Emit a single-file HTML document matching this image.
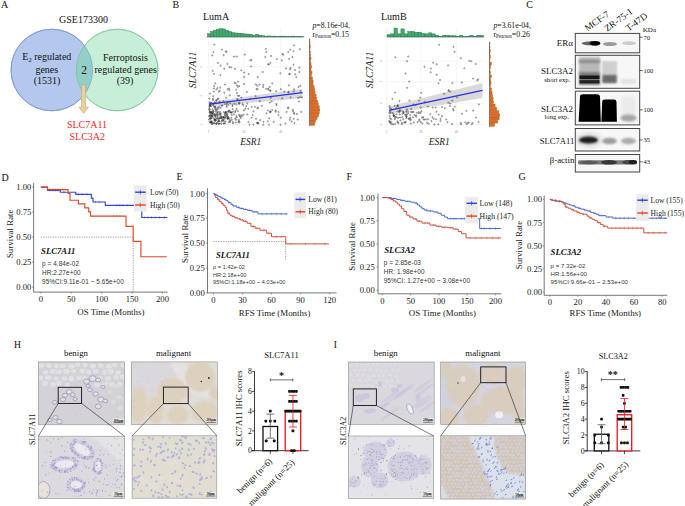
<!DOCTYPE html>
<html><head><meta charset="utf-8"><style>
html,body{margin:0;padding:0;background:#fff;width:685px;height:506px;overflow:hidden}
svg{display:block}
</style></head><body>
<svg width="685" height="506" viewBox="0 0 685 506" font-family="'Liberation Serif', serif">
<rect width="685" height="506" fill="#fff"/>
<text x="0.9" y="7.9" font-size="10" text-anchor="start" fill="#111" >A</text>
<text x="83.5" y="22.6" font-size="10" text-anchor="middle" fill="#111" >GSE173300</text>
<circle cx="51.8" cy="70" r="40.8" fill="#b4c8ee" stroke="#6f8fcb" stroke-width="0.7"/>
<circle cx="117.2" cy="70" r="40.8" fill="#c7efd7" stroke="#73c294" stroke-width="0.7"/>
<clipPath id="cb"><circle cx="51.8" cy="70" r="40.8"/></clipPath>
<circle cx="117.2" cy="70" r="40.8" fill="#93cfc8" clip-path="url(#cb)"/>
<circle cx="51.8" cy="70" r="40.8" fill="none" stroke="#6f8fcb" stroke-width="0.6"/>
<circle cx="117.2" cy="70" r="40.8" fill="none" stroke="#73c294" stroke-width="0.6"/>
<text x="46.8" y="60" font-size="10" text-anchor="middle" fill="#111" >E<tspan font-size="6.5" dy="2">2</tspan><tspan dy="-2"> regulated</tspan></text>
<text x="46.8" y="72.8" font-size="10" text-anchor="middle" fill="#111" >genes</text>
<text x="47" y="84.2" font-size="10" text-anchor="middle" fill="#111" >(1531)</text>
<text x="84" y="74.2" font-size="11.5" text-anchor="middle" fill="#111" >2</text>
<text x="125.5" y="61" font-size="10" text-anchor="middle" fill="#111" >Ferroptosis</text>
<text x="125.7" y="72.6" font-size="10" text-anchor="middle" fill="#111" >regulated genes</text>
<text x="125" y="84.4" font-size="10" text-anchor="middle" fill="#111" >(39)</text>
<path d="M81.5,85 L85.6,85 L85.6,107 L88.5,107 L83.6,113.6 L78.8,107 L81.5,107 Z" fill="#e6d29e" stroke="#c0a062" stroke-width="0.5"/>
<text x="87" y="127.8" font-size="10" text-anchor="middle" fill="#ee2a2a" >SLC7A11</text>
<text x="87.3" y="139.8" font-size="10" text-anchor="middle" fill="#ee2a2a" >SLC3A2</text>
<text x="172.6" y="8.1" font-size="10" text-anchor="start" fill="#111" >B</text>
<line x1="208.4" y1="38.5" x2="208.4" y2="126.6" stroke="#ececec" stroke-width="0.6"/>
<line x1="208.4" y1="28" x2="208.4" y2="37" stroke="#ececec" stroke-width="0.6"/>
<line x1="244" y1="38.5" x2="244" y2="126.6" stroke="#ececec" stroke-width="0.6"/>
<line x1="244" y1="28" x2="244" y2="37" stroke="#ececec" stroke-width="0.6"/>
<line x1="280.7" y1="38.5" x2="280.7" y2="126.6" stroke="#ececec" stroke-width="0.6"/>
<line x1="280.7" y1="28" x2="280.7" y2="37" stroke="#ececec" stroke-width="0.6"/>
<line x1="206.5" y1="66.9" x2="304.5" y2="66.9" stroke="#ececec" stroke-width="0.6"/>
<line x1="200.5" y1="66.9" x2="202.5" y2="66.9" stroke="#999" stroke-width="0.5"/>
<line x1="206.5" y1="95.8" x2="304.5" y2="95.8" stroke="#ececec" stroke-width="0.6"/>
<line x1="200.5" y1="95.8" x2="202.5" y2="95.8" stroke="#999" stroke-width="0.5"/>
<line x1="206.5" y1="124.3" x2="304.5" y2="124.3" stroke="#ececec" stroke-width="0.6"/>
<line x1="200.5" y1="124.3" x2="202.5" y2="124.3" stroke="#999" stroke-width="0.5"/>
<text x="203" y="20" font-size="10" text-anchor="start" fill="#111" >LumA</text>
<rect x="207.50" y="33.62" width="3.00" height="3.38" fill="#3dab6c" stroke="#24633f" stroke-width="0.35"/>
<rect x="210.50" y="31.38" width="3.00" height="5.62" fill="#3dab6c" stroke="#24633f" stroke-width="0.35"/>
<rect x="213.50" y="30.25" width="3.00" height="6.75" fill="#3dab6c" stroke="#24633f" stroke-width="0.35"/>
<rect x="216.50" y="29.12" width="3.00" height="7.88" fill="#3dab6c" stroke="#24633f" stroke-width="0.35"/>
<rect x="219.50" y="28.67" width="3.00" height="8.33" fill="#3dab6c" stroke="#24633f" stroke-width="0.35"/>
<rect x="222.50" y="28.90" width="3.00" height="8.10" fill="#3dab6c" stroke="#24633f" stroke-width="0.35"/>
<rect x="225.50" y="30.25" width="3.00" height="6.75" fill="#3dab6c" stroke="#24633f" stroke-width="0.35"/>
<rect x="228.50" y="31.38" width="3.00" height="5.62" fill="#3dab6c" stroke="#24633f" stroke-width="0.35"/>
<rect x="231.50" y="32.50" width="3.00" height="4.50" fill="#3dab6c" stroke="#24633f" stroke-width="0.35"/>
<rect x="234.50" y="32.95" width="3.00" height="4.05" fill="#3dab6c" stroke="#24633f" stroke-width="0.35"/>
<rect x="237.50" y="33.22" width="3.00" height="3.78" fill="#3dab6c" stroke="#24633f" stroke-width="0.35"/>
<rect x="240.50" y="33.40" width="3.00" height="3.60" fill="#3dab6c" stroke="#24633f" stroke-width="0.35"/>
<rect x="243.50" y="33.85" width="3.00" height="3.15" fill="#3dab6c" stroke="#24633f" stroke-width="0.35"/>
<rect x="246.50" y="34.03" width="3.00" height="2.97" fill="#3dab6c" stroke="#24633f" stroke-width="0.35"/>
<rect x="249.50" y="34.30" width="3.00" height="2.70" fill="#3dab6c" stroke="#24633f" stroke-width="0.35"/>
<rect x="252.50" y="35.20" width="3.00" height="1.80" fill="#3dab6c" stroke="#24633f" stroke-width="0.35"/>
<rect x="255.50" y="34.30" width="3.00" height="2.70" fill="#3dab6c" stroke="#24633f" stroke-width="0.35"/>
<rect x="258.50" y="35.20" width="3.00" height="1.80" fill="#3dab6c" stroke="#24633f" stroke-width="0.35"/>
<rect x="261.50" y="35.65" width="3.00" height="1.35" fill="#3dab6c" stroke="#24633f" stroke-width="0.35"/>
<rect x="264.50" y="36.10" width="3.00" height="0.90" fill="#3dab6c" stroke="#24633f" stroke-width="0.35"/>
<rect x="267.50" y="35.92" width="3.00" height="1.08" fill="#3dab6c" stroke="#24633f" stroke-width="0.35"/>
<rect x="270.50" y="36.10" width="3.00" height="0.90" fill="#3dab6c" stroke="#24633f" stroke-width="0.35"/>
<rect x="273.50" y="36.10" width="3.00" height="0.90" fill="#3dab6c" stroke="#24633f" stroke-width="0.35"/>
<rect x="276.50" y="36.28" width="3.00" height="0.72" fill="#3dab6c" stroke="#24633f" stroke-width="0.35"/>
<rect x="279.50" y="36.10" width="3.00" height="0.90" fill="#3dab6c" stroke="#24633f" stroke-width="0.35"/>
<rect x="282.50" y="36.10" width="3.00" height="0.90" fill="#3dab6c" stroke="#24633f" stroke-width="0.35"/>
<rect x="285.50" y="36.28" width="3.00" height="0.72" fill="#3dab6c" stroke="#24633f" stroke-width="0.35"/>
<rect x="288.50" y="36.55" width="3.00" height="0.45" fill="#3dab6c" stroke="#24633f" stroke-width="0.35"/>
<rect x="291.50" y="36.10" width="3.00" height="0.90" fill="#3dab6c" stroke="#24633f" stroke-width="0.35"/>
<rect x="294.50" y="36.55" width="3.00" height="0.45" fill="#3dab6c" stroke="#24633f" stroke-width="0.35"/>
<rect x="297.50" y="36.28" width="3.00" height="0.72" fill="#3dab6c" stroke="#24633f" stroke-width="0.35"/>
<rect x="300.50" y="36.55" width="3.00" height="0.45" fill="#3dab6c" stroke="#24633f" stroke-width="0.35"/>
<line x1="206.5" y1="37" x2="304.5" y2="37" stroke="#555" stroke-width="0.4"/>
<rect x="309.5" y="39.70" width="0.51" height="2.47" fill="#e2671a" stroke="#8a3d0a" stroke-width="0.3"/>
<rect x="309.5" y="42.57" width="0.51" height="2.47" fill="#e2671a" stroke="#8a3d0a" stroke-width="0.3"/>
<rect x="309.5" y="45.44" width="0.82" height="2.47" fill="#e2671a" stroke="#8a3d0a" stroke-width="0.3"/>
<rect x="309.5" y="48.31" width="0.51" height="2.47" fill="#e2671a" stroke="#8a3d0a" stroke-width="0.3"/>
<rect x="309.5" y="51.18" width="1.02" height="2.47" fill="#e2671a" stroke="#8a3d0a" stroke-width="0.3"/>
<rect x="309.5" y="54.05" width="1.02" height="2.47" fill="#e2671a" stroke="#8a3d0a" stroke-width="0.3"/>
<rect x="309.5" y="56.92" width="1.53" height="2.47" fill="#e2671a" stroke="#8a3d0a" stroke-width="0.3"/>
<rect x="309.5" y="59.79" width="1.02" height="2.47" fill="#e2671a" stroke="#8a3d0a" stroke-width="0.3"/>
<rect x="309.5" y="62.66" width="1.53" height="2.47" fill="#e2671a" stroke="#8a3d0a" stroke-width="0.3"/>
<rect x="309.5" y="65.53" width="2.04" height="2.47" fill="#e2671a" stroke="#8a3d0a" stroke-width="0.3"/>
<rect x="309.5" y="68.40" width="1.53" height="2.47" fill="#e2671a" stroke="#8a3d0a" stroke-width="0.3"/>
<rect x="309.5" y="71.27" width="2.55" height="2.47" fill="#e2671a" stroke="#8a3d0a" stroke-width="0.3"/>
<rect x="309.5" y="74.14" width="2.04" height="2.47" fill="#e2671a" stroke="#8a3d0a" stroke-width="0.3"/>
<rect x="309.5" y="77.01" width="3.06" height="2.47" fill="#e2671a" stroke="#8a3d0a" stroke-width="0.3"/>
<rect x="309.5" y="79.88" width="3.57" height="2.47" fill="#e2671a" stroke="#8a3d0a" stroke-width="0.3"/>
<rect x="309.5" y="82.75" width="3.57" height="2.47" fill="#e2671a" stroke="#8a3d0a" stroke-width="0.3"/>
<rect x="309.5" y="85.62" width="4.59" height="2.47" fill="#e2671a" stroke="#8a3d0a" stroke-width="0.3"/>
<rect x="309.5" y="88.49" width="5.10" height="2.47" fill="#e2671a" stroke="#8a3d0a" stroke-width="0.3"/>
<rect x="309.5" y="91.36" width="5.61" height="2.47" fill="#e2671a" stroke="#8a3d0a" stroke-width="0.3"/>
<rect x="309.5" y="94.23" width="6.63" height="2.47" fill="#e2671a" stroke="#8a3d0a" stroke-width="0.3"/>
<rect x="309.5" y="97.10" width="7.14" height="2.47" fill="#e2671a" stroke="#8a3d0a" stroke-width="0.3"/>
<rect x="309.5" y="99.97" width="8.16" height="2.47" fill="#e2671a" stroke="#8a3d0a" stroke-width="0.3"/>
<rect x="309.5" y="102.84" width="8.67" height="2.47" fill="#e2671a" stroke="#8a3d0a" stroke-width="0.3"/>
<rect x="309.5" y="105.71" width="9.69" height="2.47" fill="#e2671a" stroke="#8a3d0a" stroke-width="0.3"/>
<rect x="309.5" y="108.58" width="10.20" height="2.47" fill="#e2671a" stroke="#8a3d0a" stroke-width="0.3"/>
<rect x="309.5" y="111.45" width="9.69" height="2.47" fill="#e2671a" stroke="#8a3d0a" stroke-width="0.3"/>
<rect x="309.5" y="114.32" width="9.18" height="2.47" fill="#e2671a" stroke="#8a3d0a" stroke-width="0.3"/>
<rect x="309.5" y="117.19" width="7.65" height="2.47" fill="#e2671a" stroke="#8a3d0a" stroke-width="0.3"/>
<rect x="309.5" y="120.06" width="6.12" height="2.47" fill="#e2671a" stroke="#8a3d0a" stroke-width="0.3"/>
<rect x="309.5" y="122.93" width="5.10" height="2.47" fill="#e2671a" stroke="#8a3d0a" stroke-width="0.3"/>
<line x1="309.5" y1="38.5" x2="309.5" y2="126.6" stroke="#555" stroke-width="0.4"/>
<path d="M208.9,102 L302.5,88.7 L302.5,98.2 L208.9,106.5 Z" fill="#cfcfcf" opacity="0.8"/>
<circle cx="223.8" cy="112.2" r="0.65" fill="none" stroke="#262626" stroke-width="0.42"/>
<circle cx="257.8" cy="122.9" r="0.65" fill="none" stroke="#262626" stroke-width="0.42"/>
<circle cx="215.5" cy="109.4" r="0.65" fill="none" stroke="#262626" stroke-width="0.42"/>
<circle cx="227.0" cy="113.8" r="0.65" fill="none" stroke="#262626" stroke-width="0.42"/>
<circle cx="244.1" cy="76.9" r="0.65" fill="none" stroke="#262626" stroke-width="0.42"/>
<circle cx="230.3" cy="103.4" r="0.65" fill="none" stroke="#262626" stroke-width="0.42"/>
<circle cx="270.8" cy="97.9" r="0.65" fill="none" stroke="#262626" stroke-width="0.42"/>
<circle cx="210.1" cy="104.7" r="0.65" fill="none" stroke="#262626" stroke-width="0.42"/>
<circle cx="240.4" cy="116.7" r="0.65" fill="none" stroke="#262626" stroke-width="0.42"/>
<circle cx="268.2" cy="88.6" r="0.65" fill="none" stroke="#262626" stroke-width="0.42"/>
<circle cx="292.8" cy="109.9" r="0.65" fill="none" stroke="#262626" stroke-width="0.42"/>
<circle cx="239.2" cy="86.0" r="0.65" fill="none" stroke="#262626" stroke-width="0.42"/>
<circle cx="213.5" cy="52.1" r="0.65" fill="none" stroke="#262626" stroke-width="0.42"/>
<circle cx="225.7" cy="112.4" r="0.65" fill="none" stroke="#262626" stroke-width="0.42"/>
<circle cx="226.5" cy="105.1" r="0.65" fill="none" stroke="#262626" stroke-width="0.42"/>
<circle cx="221.6" cy="121.5" r="0.65" fill="none" stroke="#262626" stroke-width="0.42"/>
<circle cx="290.6" cy="97.4" r="0.65" fill="none" stroke="#262626" stroke-width="0.42"/>
<circle cx="284.2" cy="91.6" r="0.65" fill="none" stroke="#262626" stroke-width="0.42"/>
<circle cx="216.4" cy="89.4" r="0.65" fill="none" stroke="#262626" stroke-width="0.42"/>
<circle cx="289.8" cy="73.9" r="0.65" fill="none" stroke="#262626" stroke-width="0.42"/>
<circle cx="219.7" cy="90.7" r="0.65" fill="none" stroke="#262626" stroke-width="0.42"/>
<circle cx="225.2" cy="123.0" r="0.65" fill="none" stroke="#262626" stroke-width="0.42"/>
<circle cx="299.8" cy="49.2" r="0.65" fill="none" stroke="#262626" stroke-width="0.42"/>
<circle cx="236.0" cy="119.8" r="0.65" fill="none" stroke="#262626" stroke-width="0.42"/>
<circle cx="212.8" cy="99.9" r="0.65" fill="none" stroke="#262626" stroke-width="0.42"/>
<circle cx="212.6" cy="112.6" r="0.65" fill="none" stroke="#262626" stroke-width="0.42"/>
<circle cx="229.0" cy="88.5" r="0.65" fill="none" stroke="#262626" stroke-width="0.42"/>
<circle cx="246.9" cy="91.9" r="0.65" fill="none" stroke="#262626" stroke-width="0.42"/>
<circle cx="228.2" cy="118.4" r="0.65" fill="none" stroke="#262626" stroke-width="0.42"/>
<circle cx="214.3" cy="120.8" r="0.65" fill="none" stroke="#262626" stroke-width="0.42"/>
<circle cx="216.0" cy="123.7" r="0.65" fill="none" stroke="#262626" stroke-width="0.42"/>
<circle cx="229.4" cy="90.3" r="0.65" fill="none" stroke="#262626" stroke-width="0.42"/>
<circle cx="235.0" cy="68.9" r="0.65" fill="none" stroke="#262626" stroke-width="0.42"/>
<circle cx="259.8" cy="101.2" r="0.65" fill="none" stroke="#262626" stroke-width="0.42"/>
<circle cx="257.2" cy="85.7" r="0.65" fill="none" stroke="#262626" stroke-width="0.42"/>
<circle cx="238.0" cy="95.7" r="0.65" fill="none" stroke="#262626" stroke-width="0.42"/>
<circle cx="222.9" cy="117.3" r="0.65" fill="none" stroke="#262626" stroke-width="0.42"/>
<circle cx="249.5" cy="124.7" r="0.65" fill="none" stroke="#262626" stroke-width="0.42"/>
<circle cx="211.8" cy="113.3" r="0.65" fill="none" stroke="#262626" stroke-width="0.42"/>
<circle cx="258.5" cy="123.1" r="0.65" fill="none" stroke="#262626" stroke-width="0.42"/>
<circle cx="241.3" cy="97.6" r="0.65" fill="none" stroke="#262626" stroke-width="0.42"/>
<circle cx="216.0" cy="103.0" r="0.65" fill="none" stroke="#262626" stroke-width="0.42"/>
<circle cx="231.3" cy="117.9" r="0.65" fill="none" stroke="#262626" stroke-width="0.42"/>
<circle cx="224.3" cy="68.7" r="0.65" fill="none" stroke="#262626" stroke-width="0.42"/>
<circle cx="228.1" cy="111.2" r="0.65" fill="none" stroke="#262626" stroke-width="0.42"/>
<circle cx="223.7" cy="120.9" r="0.65" fill="none" stroke="#262626" stroke-width="0.42"/>
<circle cx="228.7" cy="122.4" r="0.65" fill="none" stroke="#262626" stroke-width="0.42"/>
<circle cx="232.7" cy="109.2" r="0.65" fill="none" stroke="#262626" stroke-width="0.42"/>
<circle cx="214.0" cy="123.2" r="0.65" fill="none" stroke="#262626" stroke-width="0.42"/>
<circle cx="215.6" cy="120.9" r="0.65" fill="none" stroke="#262626" stroke-width="0.42"/>
<circle cx="212.8" cy="112.9" r="0.65" fill="none" stroke="#262626" stroke-width="0.42"/>
<circle cx="217.6" cy="107.5" r="0.65" fill="none" stroke="#262626" stroke-width="0.42"/>
<circle cx="218.1" cy="62.9" r="0.65" fill="none" stroke="#262626" stroke-width="0.42"/>
<circle cx="288.2" cy="107.5" r="0.65" fill="none" stroke="#262626" stroke-width="0.42"/>
<circle cx="223.2" cy="119.9" r="0.65" fill="none" stroke="#262626" stroke-width="0.42"/>
<circle cx="219.7" cy="101.5" r="0.65" fill="none" stroke="#262626" stroke-width="0.42"/>
<circle cx="214.2" cy="123.1" r="0.65" fill="none" stroke="#262626" stroke-width="0.42"/>
<circle cx="278.5" cy="112.0" r="0.65" fill="none" stroke="#262626" stroke-width="0.42"/>
<circle cx="216.4" cy="123.6" r="0.65" fill="none" stroke="#262626" stroke-width="0.42"/>
<circle cx="218.5" cy="120.0" r="0.65" fill="none" stroke="#262626" stroke-width="0.42"/>
<circle cx="239.4" cy="122.5" r="0.65" fill="none" stroke="#262626" stroke-width="0.42"/>
<circle cx="247.3" cy="114.5" r="0.65" fill="none" stroke="#262626" stroke-width="0.42"/>
<circle cx="299.4" cy="67.7" r="0.65" fill="none" stroke="#262626" stroke-width="0.42"/>
<circle cx="292.4" cy="57.0" r="0.65" fill="none" stroke="#262626" stroke-width="0.42"/>
<circle cx="282.2" cy="98.3" r="0.65" fill="none" stroke="#262626" stroke-width="0.42"/>
<circle cx="225.5" cy="112.1" r="0.65" fill="none" stroke="#262626" stroke-width="0.42"/>
<circle cx="228.4" cy="117.9" r="0.65" fill="none" stroke="#262626" stroke-width="0.42"/>
<circle cx="210.8" cy="112.0" r="0.65" fill="none" stroke="#262626" stroke-width="0.42"/>
<circle cx="266.2" cy="88.9" r="0.65" fill="none" stroke="#262626" stroke-width="0.42"/>
<circle cx="289.2" cy="74.2" r="0.65" fill="none" stroke="#262626" stroke-width="0.42"/>
<circle cx="209.3" cy="109.7" r="0.65" fill="none" stroke="#262626" stroke-width="0.42"/>
<circle cx="219.2" cy="106.7" r="0.65" fill="none" stroke="#262626" stroke-width="0.42"/>
<circle cx="229.4" cy="110.4" r="0.65" fill="none" stroke="#262626" stroke-width="0.42"/>
<circle cx="209.5" cy="121.7" r="0.65" fill="none" stroke="#262626" stroke-width="0.42"/>
<circle cx="275.7" cy="111.7" r="0.65" fill="none" stroke="#262626" stroke-width="0.42"/>
<circle cx="237.8" cy="111.2" r="0.65" fill="none" stroke="#262626" stroke-width="0.42"/>
<circle cx="218.3" cy="98.7" r="0.65" fill="none" stroke="#262626" stroke-width="0.42"/>
<circle cx="280.6" cy="124.8" r="0.65" fill="none" stroke="#262626" stroke-width="0.42"/>
<circle cx="285.4" cy="123.4" r="0.65" fill="none" stroke="#262626" stroke-width="0.42"/>
<circle cx="211.3" cy="122.5" r="0.65" fill="none" stroke="#262626" stroke-width="0.42"/>
<circle cx="236.3" cy="116.1" r="0.65" fill="none" stroke="#262626" stroke-width="0.42"/>
<circle cx="216.8" cy="115.2" r="0.65" fill="none" stroke="#262626" stroke-width="0.42"/>
<circle cx="248.4" cy="121.9" r="0.65" fill="none" stroke="#262626" stroke-width="0.42"/>
<circle cx="212.8" cy="70.8" r="0.65" fill="none" stroke="#262626" stroke-width="0.42"/>
<circle cx="214.9" cy="120.0" r="0.65" fill="none" stroke="#262626" stroke-width="0.42"/>
<circle cx="253.5" cy="111.3" r="0.65" fill="none" stroke="#262626" stroke-width="0.42"/>
<circle cx="212.9" cy="117.2" r="0.65" fill="none" stroke="#262626" stroke-width="0.42"/>
<circle cx="267.9" cy="110.5" r="0.65" fill="none" stroke="#262626" stroke-width="0.42"/>
<circle cx="215.7" cy="120.1" r="0.65" fill="none" stroke="#262626" stroke-width="0.42"/>
<circle cx="275.7" cy="110.5" r="0.65" fill="none" stroke="#262626" stroke-width="0.42"/>
<circle cx="257.5" cy="108.3" r="0.65" fill="none" stroke="#262626" stroke-width="0.42"/>
<circle cx="233.9" cy="114.3" r="0.65" fill="none" stroke="#262626" stroke-width="0.42"/>
<circle cx="215.1" cy="106.7" r="0.65" fill="none" stroke="#262626" stroke-width="0.42"/>
<circle cx="233.0" cy="111.6" r="0.65" fill="none" stroke="#262626" stroke-width="0.42"/>
<circle cx="224.0" cy="117.4" r="0.65" fill="none" stroke="#262626" stroke-width="0.42"/>
<circle cx="293.5" cy="64.8" r="0.65" fill="none" stroke="#262626" stroke-width="0.42"/>
<circle cx="276.8" cy="59.1" r="0.65" fill="none" stroke="#262626" stroke-width="0.42"/>
<circle cx="214.0" cy="91.5" r="0.65" fill="none" stroke="#262626" stroke-width="0.42"/>
<circle cx="288.5" cy="92.5" r="0.65" fill="none" stroke="#262626" stroke-width="0.42"/>
<circle cx="269.9" cy="102.6" r="0.65" fill="none" stroke="#262626" stroke-width="0.42"/>
<circle cx="210.4" cy="113.6" r="0.65" fill="none" stroke="#262626" stroke-width="0.42"/>
<circle cx="209.7" cy="111.9" r="0.65" fill="none" stroke="#262626" stroke-width="0.42"/>
<circle cx="235.8" cy="122.4" r="0.65" fill="none" stroke="#262626" stroke-width="0.42"/>
<circle cx="239.4" cy="116.0" r="0.65" fill="none" stroke="#262626" stroke-width="0.42"/>
<circle cx="222.3" cy="105.3" r="0.65" fill="none" stroke="#262626" stroke-width="0.42"/>
<circle cx="295.3" cy="74.3" r="0.65" fill="none" stroke="#262626" stroke-width="0.42"/>
<circle cx="209.9" cy="93.6" r="0.65" fill="none" stroke="#262626" stroke-width="0.42"/>
<circle cx="267.8" cy="121.4" r="0.65" fill="none" stroke="#262626" stroke-width="0.42"/>
<circle cx="294.5" cy="123.1" r="0.65" fill="none" stroke="#262626" stroke-width="0.42"/>
<circle cx="236.6" cy="108.9" r="0.65" fill="none" stroke="#262626" stroke-width="0.42"/>
<circle cx="214.2" cy="118.8" r="0.65" fill="none" stroke="#262626" stroke-width="0.42"/>
<circle cx="272.3" cy="109.9" r="0.65" fill="none" stroke="#262626" stroke-width="0.42"/>
<circle cx="220.8" cy="117.9" r="0.65" fill="none" stroke="#262626" stroke-width="0.42"/>
<circle cx="225.3" cy="118.1" r="0.65" fill="none" stroke="#262626" stroke-width="0.42"/>
<circle cx="238.1" cy="81.6" r="0.65" fill="none" stroke="#262626" stroke-width="0.42"/>
<circle cx="218.8" cy="103.0" r="0.65" fill="none" stroke="#262626" stroke-width="0.42"/>
<circle cx="246.3" cy="106.1" r="0.65" fill="none" stroke="#262626" stroke-width="0.42"/>
<circle cx="289.8" cy="119.8" r="0.65" fill="none" stroke="#262626" stroke-width="0.42"/>
<circle cx="209.4" cy="98.4" r="0.65" fill="none" stroke="#262626" stroke-width="0.42"/>
<circle cx="239.1" cy="95.8" r="0.65" fill="none" stroke="#262626" stroke-width="0.42"/>
<circle cx="210.2" cy="118.6" r="0.65" fill="none" stroke="#262626" stroke-width="0.42"/>
<circle cx="227.6" cy="116.6" r="0.65" fill="none" stroke="#262626" stroke-width="0.42"/>
<circle cx="296.9" cy="114.0" r="0.65" fill="none" stroke="#262626" stroke-width="0.42"/>
<circle cx="236.3" cy="89.7" r="0.65" fill="none" stroke="#262626" stroke-width="0.42"/>
<circle cx="223.8" cy="117.2" r="0.65" fill="none" stroke="#262626" stroke-width="0.42"/>
<circle cx="224.6" cy="114.9" r="0.65" fill="none" stroke="#262626" stroke-width="0.42"/>
<circle cx="218.0" cy="118.7" r="0.65" fill="none" stroke="#262626" stroke-width="0.42"/>
<circle cx="215.2" cy="83.4" r="0.65" fill="none" stroke="#262626" stroke-width="0.42"/>
<circle cx="254.9" cy="106.8" r="0.65" fill="none" stroke="#262626" stroke-width="0.42"/>
<circle cx="280.3" cy="73.3" r="0.65" fill="none" stroke="#262626" stroke-width="0.42"/>
<circle cx="268.4" cy="89.6" r="0.65" fill="none" stroke="#262626" stroke-width="0.42"/>
<circle cx="213.2" cy="96.3" r="0.65" fill="none" stroke="#262626" stroke-width="0.42"/>
<circle cx="221.0" cy="116.5" r="0.65" fill="none" stroke="#262626" stroke-width="0.42"/>
<circle cx="263.3" cy="84.9" r="0.65" fill="none" stroke="#262626" stroke-width="0.42"/>
<circle cx="223.6" cy="55.2" r="0.65" fill="none" stroke="#262626" stroke-width="0.42"/>
<circle cx="218.6" cy="124.1" r="0.65" fill="none" stroke="#262626" stroke-width="0.42"/>
<circle cx="289.2" cy="58.8" r="0.65" fill="none" stroke="#262626" stroke-width="0.42"/>
<circle cx="229.4" cy="67.1" r="0.65" fill="none" stroke="#262626" stroke-width="0.42"/>
<circle cx="212.0" cy="121.9" r="0.65" fill="none" stroke="#262626" stroke-width="0.42"/>
<circle cx="227.5" cy="63.9" r="0.65" fill="none" stroke="#262626" stroke-width="0.42"/>
<circle cx="263.3" cy="124.8" r="0.65" fill="none" stroke="#262626" stroke-width="0.42"/>
<circle cx="226.0" cy="117.1" r="0.65" fill="none" stroke="#262626" stroke-width="0.42"/>
<circle cx="243.3" cy="105.1" r="0.65" fill="none" stroke="#262626" stroke-width="0.42"/>
<circle cx="216.7" cy="113.0" r="0.65" fill="none" stroke="#262626" stroke-width="0.42"/>
<circle cx="213.0" cy="111.1" r="0.65" fill="none" stroke="#262626" stroke-width="0.42"/>
<circle cx="290.2" cy="49.7" r="0.65" fill="none" stroke="#262626" stroke-width="0.42"/>
<circle cx="234.6" cy="82.7" r="0.65" fill="none" stroke="#262626" stroke-width="0.42"/>
<circle cx="226.1" cy="97.7" r="0.65" fill="none" stroke="#262626" stroke-width="0.42"/>
<circle cx="278.5" cy="115.2" r="0.65" fill="none" stroke="#262626" stroke-width="0.42"/>
<circle cx="298.0" cy="97.8" r="0.65" fill="none" stroke="#262626" stroke-width="0.42"/>
<circle cx="213.5" cy="105.7" r="0.65" fill="none" stroke="#262626" stroke-width="0.42"/>
<circle cx="213.8" cy="103.7" r="0.65" fill="none" stroke="#262626" stroke-width="0.42"/>
<circle cx="217.7" cy="99.0" r="0.65" fill="none" stroke="#262626" stroke-width="0.42"/>
<circle cx="217.5" cy="88.1" r="0.65" fill="none" stroke="#262626" stroke-width="0.42"/>
<circle cx="214.0" cy="86.1" r="0.65" fill="none" stroke="#262626" stroke-width="0.42"/>
<circle cx="221.5" cy="123.7" r="0.65" fill="none" stroke="#262626" stroke-width="0.42"/>
<circle cx="250.2" cy="99.0" r="0.65" fill="none" stroke="#262626" stroke-width="0.42"/>
<circle cx="227.4" cy="118.8" r="0.65" fill="none" stroke="#262626" stroke-width="0.42"/>
<circle cx="214.7" cy="102.5" r="0.65" fill="none" stroke="#262626" stroke-width="0.42"/>
<circle cx="270.6" cy="111.4" r="0.65" fill="none" stroke="#262626" stroke-width="0.42"/>
<circle cx="233.1" cy="123.5" r="0.65" fill="none" stroke="#262626" stroke-width="0.42"/>
<circle cx="221.1" cy="113.8" r="0.65" fill="none" stroke="#262626" stroke-width="0.42"/>
<circle cx="231.0" cy="112.5" r="0.65" fill="none" stroke="#262626" stroke-width="0.42"/>
<circle cx="235.6" cy="110.9" r="0.65" fill="none" stroke="#262626" stroke-width="0.42"/>
<circle cx="213.5" cy="111.2" r="0.65" fill="none" stroke="#262626" stroke-width="0.42"/>
<circle cx="215.3" cy="116.0" r="0.65" fill="none" stroke="#262626" stroke-width="0.42"/>
<circle cx="269.2" cy="118.4" r="0.65" fill="none" stroke="#262626" stroke-width="0.42"/>
<circle cx="231.9" cy="119.8" r="0.65" fill="none" stroke="#262626" stroke-width="0.42"/>
<circle cx="271.7" cy="101.4" r="0.65" fill="none" stroke="#262626" stroke-width="0.42"/>
<circle cx="217.4" cy="116.7" r="0.65" fill="none" stroke="#262626" stroke-width="0.42"/>
<circle cx="251.6" cy="117.8" r="0.65" fill="none" stroke="#262626" stroke-width="0.42"/>
<circle cx="209.8" cy="112.3" r="0.65" fill="none" stroke="#262626" stroke-width="0.42"/>
<circle cx="289.0" cy="85.3" r="0.65" fill="none" stroke="#262626" stroke-width="0.42"/>
<circle cx="229.0" cy="111.0" r="0.65" fill="none" stroke="#262626" stroke-width="0.42"/>
<circle cx="300.0" cy="97.2" r="0.65" fill="none" stroke="#262626" stroke-width="0.42"/>
<circle cx="220.7" cy="107.8" r="0.65" fill="none" stroke="#262626" stroke-width="0.42"/>
<circle cx="269.1" cy="124.7" r="0.65" fill="none" stroke="#262626" stroke-width="0.42"/>
<circle cx="261.8" cy="105.8" r="0.65" fill="none" stroke="#262626" stroke-width="0.42"/>
<circle cx="240.7" cy="118.1" r="0.65" fill="none" stroke="#262626" stroke-width="0.42"/>
<circle cx="209.9" cy="105.4" r="0.65" fill="none" stroke="#262626" stroke-width="0.42"/>
<circle cx="239.2" cy="102.5" r="0.65" fill="none" stroke="#262626" stroke-width="0.42"/>
<circle cx="288.3" cy="52.1" r="0.65" fill="none" stroke="#262626" stroke-width="0.42"/>
<circle cx="257.5" cy="123.4" r="0.65" fill="none" stroke="#262626" stroke-width="0.42"/>
<circle cx="209.7" cy="116.8" r="0.65" fill="none" stroke="#262626" stroke-width="0.42"/>
<circle cx="293.9" cy="112.9" r="0.65" fill="none" stroke="#262626" stroke-width="0.42"/>
<circle cx="266.3" cy="52.0" r="0.65" fill="none" stroke="#262626" stroke-width="0.42"/>
<circle cx="256.5" cy="89.1" r="0.65" fill="none" stroke="#262626" stroke-width="0.42"/>
<circle cx="270.6" cy="112.0" r="0.65" fill="none" stroke="#262626" stroke-width="0.42"/>
<circle cx="294.1" cy="89.4" r="0.65" fill="none" stroke="#262626" stroke-width="0.42"/>
<circle cx="209.8" cy="105.9" r="0.65" fill="none" stroke="#262626" stroke-width="0.42"/>
<circle cx="215.2" cy="114.7" r="0.65" fill="none" stroke="#262626" stroke-width="0.42"/>
<circle cx="219.0" cy="121.0" r="0.65" fill="none" stroke="#262626" stroke-width="0.42"/>
<circle cx="248.4" cy="108.7" r="0.65" fill="none" stroke="#262626" stroke-width="0.42"/>
<circle cx="226.8" cy="106.9" r="0.65" fill="none" stroke="#262626" stroke-width="0.42"/>
<circle cx="235.2" cy="118.6" r="0.65" fill="none" stroke="#262626" stroke-width="0.42"/>
<circle cx="269.0" cy="64.4" r="0.65" fill="none" stroke="#262626" stroke-width="0.42"/>
<circle cx="230.2" cy="112.3" r="0.65" fill="none" stroke="#262626" stroke-width="0.42"/>
<circle cx="220.0" cy="114.1" r="0.65" fill="none" stroke="#262626" stroke-width="0.42"/>
<circle cx="215.2" cy="107.1" r="0.65" fill="none" stroke="#262626" stroke-width="0.42"/>
<circle cx="211.5" cy="118.1" r="0.65" fill="none" stroke="#262626" stroke-width="0.42"/>
<circle cx="210.9" cy="115.4" r="0.65" fill="none" stroke="#262626" stroke-width="0.42"/>
<circle cx="218.1" cy="121.1" r="0.65" fill="none" stroke="#262626" stroke-width="0.42"/>
<circle cx="226.3" cy="115.1" r="0.65" fill="none" stroke="#262626" stroke-width="0.42"/>
<circle cx="210.5" cy="111.8" r="0.65" fill="none" stroke="#262626" stroke-width="0.42"/>
<circle cx="212.0" cy="115.0" r="0.65" fill="none" stroke="#262626" stroke-width="0.42"/>
<circle cx="221.8" cy="49.6" r="0.65" fill="none" stroke="#262626" stroke-width="0.42"/>
<circle cx="216.5" cy="100.1" r="0.65" fill="none" stroke="#262626" stroke-width="0.42"/>
<circle cx="212.7" cy="115.6" r="0.65" fill="none" stroke="#262626" stroke-width="0.42"/>
<circle cx="224.4" cy="92.7" r="0.65" fill="none" stroke="#262626" stroke-width="0.42"/>
<circle cx="294.3" cy="113.8" r="0.65" fill="none" stroke="#262626" stroke-width="0.42"/>
<circle cx="211.9" cy="122.8" r="0.65" fill="none" stroke="#262626" stroke-width="0.42"/>
<circle cx="230.2" cy="121.9" r="0.65" fill="none" stroke="#262626" stroke-width="0.42"/>
<circle cx="299.0" cy="101.4" r="0.65" fill="none" stroke="#262626" stroke-width="0.42"/>
<circle cx="215.8" cy="114.6" r="0.65" fill="none" stroke="#262626" stroke-width="0.42"/>
<circle cx="214.2" cy="114.5" r="0.65" fill="none" stroke="#262626" stroke-width="0.42"/>
<circle cx="290.1" cy="117.8" r="0.65" fill="none" stroke="#262626" stroke-width="0.42"/>
<circle cx="244.1" cy="84.0" r="0.65" fill="none" stroke="#262626" stroke-width="0.42"/>
<circle cx="293.9" cy="45.4" r="0.65" fill="none" stroke="#262626" stroke-width="0.42"/>
<circle cx="239.3" cy="103.5" r="0.65" fill="none" stroke="#262626" stroke-width="0.42"/>
<circle cx="217.4" cy="122.5" r="0.65" fill="none" stroke="#262626" stroke-width="0.42"/>
<circle cx="220.1" cy="118.0" r="0.65" fill="none" stroke="#262626" stroke-width="0.42"/>
<circle cx="293.7" cy="118.8" r="0.65" fill="none" stroke="#262626" stroke-width="0.42"/>
<circle cx="270.0" cy="90.5" r="0.65" fill="none" stroke="#262626" stroke-width="0.42"/>
<circle cx="293.1" cy="111.2" r="0.65" fill="none" stroke="#262626" stroke-width="0.42"/>
<circle cx="212.6" cy="123.5" r="0.65" fill="none" stroke="#262626" stroke-width="0.42"/>
<circle cx="224.0" cy="119.0" r="0.65" fill="none" stroke="#262626" stroke-width="0.42"/>
<circle cx="255.6" cy="96.2" r="0.65" fill="none" stroke="#262626" stroke-width="0.42"/>
<circle cx="218.2" cy="114.3" r="0.65" fill="none" stroke="#262626" stroke-width="0.42"/>
<circle cx="209.5" cy="106.8" r="0.65" fill="none" stroke="#262626" stroke-width="0.42"/>
<circle cx="263.5" cy="121.8" r="0.65" fill="none" stroke="#262626" stroke-width="0.42"/>
<circle cx="221.7" cy="105.6" r="0.65" fill="none" stroke="#262626" stroke-width="0.42"/>
<circle cx="286.0" cy="68.4" r="0.65" fill="none" stroke="#262626" stroke-width="0.42"/>
<circle cx="270.4" cy="62.8" r="0.65" fill="none" stroke="#262626" stroke-width="0.42"/>
<circle cx="223.5" cy="117.1" r="0.65" fill="none" stroke="#262626" stroke-width="0.42"/>
<circle cx="213.9" cy="73.8" r="0.65" fill="none" stroke="#262626" stroke-width="0.42"/>
<circle cx="229.2" cy="118.9" r="0.65" fill="none" stroke="#262626" stroke-width="0.42"/>
<circle cx="217.8" cy="115.2" r="0.65" fill="none" stroke="#262626" stroke-width="0.42"/>
<circle cx="253.4" cy="124.7" r="0.65" fill="none" stroke="#262626" stroke-width="0.42"/>
<circle cx="220.0" cy="113.0" r="0.65" fill="none" stroke="#262626" stroke-width="0.42"/>
<circle cx="236.9" cy="93.0" r="0.65" fill="none" stroke="#262626" stroke-width="0.42"/>
<circle cx="276.4" cy="103.9" r="0.65" fill="none" stroke="#262626" stroke-width="0.42"/>
<circle cx="211.9" cy="116.6" r="0.65" fill="none" stroke="#262626" stroke-width="0.42"/>
<circle cx="214.4" cy="44.5" r="0.65" fill="none" stroke="#262626" stroke-width="0.42"/>
<circle cx="220.3" cy="87.7" r="0.65" fill="none" stroke="#262626" stroke-width="0.42"/>
<circle cx="220.1" cy="115.1" r="0.65" fill="none" stroke="#262626" stroke-width="0.42"/>
<circle cx="257.9" cy="77.1" r="0.65" fill="none" stroke="#262626" stroke-width="0.42"/>
<circle cx="286.6" cy="111.9" r="0.65" fill="none" stroke="#262626" stroke-width="0.42"/>
<circle cx="239.3" cy="121.3" r="0.65" fill="none" stroke="#262626" stroke-width="0.42"/>
<circle cx="255.8" cy="84.4" r="0.65" fill="none" stroke="#262626" stroke-width="0.42"/>
<circle cx="226.3" cy="112.1" r="0.65" fill="none" stroke="#262626" stroke-width="0.42"/>
<circle cx="211.6" cy="111.9" r="0.65" fill="none" stroke="#262626" stroke-width="0.42"/>
<circle cx="211.3" cy="103.1" r="0.65" fill="none" stroke="#262626" stroke-width="0.42"/>
<circle cx="237.2" cy="98.9" r="0.65" fill="none" stroke="#262626" stroke-width="0.42"/>
<circle cx="219.9" cy="111.7" r="0.65" fill="none" stroke="#262626" stroke-width="0.42"/>
<circle cx="231.2" cy="67.5" r="0.65" fill="none" stroke="#262626" stroke-width="0.42"/>
<circle cx="210.9" cy="118.1" r="0.65" fill="none" stroke="#262626" stroke-width="0.42"/>
<circle cx="269.7" cy="86.9" r="0.65" fill="none" stroke="#262626" stroke-width="0.42"/>
<circle cx="257.6" cy="89.2" r="0.65" fill="none" stroke="#262626" stroke-width="0.42"/>
<circle cx="236.8" cy="85.4" r="0.65" fill="none" stroke="#262626" stroke-width="0.42"/>
<circle cx="295.0" cy="70.0" r="0.65" fill="none" stroke="#262626" stroke-width="0.42"/>
<circle cx="235.7" cy="83.1" r="0.65" fill="none" stroke="#262626" stroke-width="0.42"/>
<circle cx="227.6" cy="89.4" r="0.65" fill="none" stroke="#262626" stroke-width="0.42"/>
<circle cx="230.1" cy="120.3" r="0.65" fill="none" stroke="#262626" stroke-width="0.42"/>
<circle cx="231.7" cy="112.8" r="0.65" fill="none" stroke="#262626" stroke-width="0.42"/>
<circle cx="209.4" cy="108.4" r="0.65" fill="none" stroke="#262626" stroke-width="0.42"/>
<circle cx="223.8" cy="123.5" r="0.65" fill="none" stroke="#262626" stroke-width="0.42"/>
<circle cx="225.4" cy="121.5" r="0.65" fill="none" stroke="#262626" stroke-width="0.42"/>
<circle cx="214.5" cy="115.5" r="0.65" fill="none" stroke="#262626" stroke-width="0.42"/>
<circle cx="211.0" cy="103.2" r="0.65" fill="none" stroke="#262626" stroke-width="0.42"/>
<circle cx="298.6" cy="87.0" r="0.65" fill="none" stroke="#262626" stroke-width="0.42"/>
<circle cx="216.3" cy="119.1" r="0.65" fill="none" stroke="#262626" stroke-width="0.42"/>
<circle cx="247.2" cy="103.6" r="0.65" fill="none" stroke="#262626" stroke-width="0.42"/>
<circle cx="216.9" cy="109.4" r="0.65" fill="none" stroke="#262626" stroke-width="0.42"/>
<circle cx="288.4" cy="91.8" r="0.65" fill="none" stroke="#262626" stroke-width="0.42"/>
<circle cx="210.3" cy="122.9" r="0.65" fill="none" stroke="#262626" stroke-width="0.42"/>
<circle cx="222.3" cy="120.3" r="0.65" fill="none" stroke="#262626" stroke-width="0.42"/>
<circle cx="216.6" cy="123.4" r="0.65" fill="none" stroke="#262626" stroke-width="0.42"/>
<circle cx="211.2" cy="106.2" r="0.65" fill="none" stroke="#262626" stroke-width="0.42"/>
<circle cx="276.2" cy="91.2" r="0.65" fill="none" stroke="#262626" stroke-width="0.42"/>
<circle cx="210.0" cy="115.0" r="0.65" fill="none" stroke="#262626" stroke-width="0.42"/>
<circle cx="211.7" cy="115.9" r="0.65" fill="none" stroke="#262626" stroke-width="0.42"/>
<circle cx="212.4" cy="113.4" r="0.65" fill="none" stroke="#262626" stroke-width="0.42"/>
<circle cx="214.4" cy="107.1" r="0.65" fill="none" stroke="#262626" stroke-width="0.42"/>
<circle cx="225.3" cy="116.0" r="0.65" fill="none" stroke="#262626" stroke-width="0.42"/>
<circle cx="263.2" cy="87.0" r="0.65" fill="none" stroke="#262626" stroke-width="0.42"/>
<circle cx="222.3" cy="120.3" r="0.65" fill="none" stroke="#262626" stroke-width="0.42"/>
<circle cx="276.5" cy="105.0" r="0.65" fill="none" stroke="#262626" stroke-width="0.42"/>
<circle cx="251.5" cy="60.0" r="0.65" fill="none" stroke="#262626" stroke-width="0.42"/>
<circle cx="231.8" cy="115.1" r="0.65" fill="none" stroke="#262626" stroke-width="0.42"/>
<circle cx="289.9" cy="69.2" r="0.65" fill="none" stroke="#262626" stroke-width="0.42"/>
<circle cx="293.7" cy="91.5" r="0.65" fill="none" stroke="#262626" stroke-width="0.42"/>
<circle cx="236.4" cy="104.6" r="0.65" fill="none" stroke="#262626" stroke-width="0.42"/>
<circle cx="218.9" cy="123.7" r="0.65" fill="none" stroke="#262626" stroke-width="0.42"/>
<circle cx="251.0" cy="66.4" r="0.65" fill="none" stroke="#262626" stroke-width="0.42"/>
<circle cx="236.7" cy="117.5" r="0.65" fill="none" stroke="#262626" stroke-width="0.42"/>
<circle cx="297.7" cy="119.6" r="0.65" fill="none" stroke="#262626" stroke-width="0.42"/>
<circle cx="225.3" cy="113.0" r="0.65" fill="none" stroke="#262626" stroke-width="0.42"/>
<circle cx="280.9" cy="89.2" r="0.65" fill="none" stroke="#262626" stroke-width="0.42"/>
<circle cx="209.7" cy="102.2" r="0.65" fill="none" stroke="#262626" stroke-width="0.42"/>
<circle cx="243.4" cy="114.7" r="0.65" fill="none" stroke="#262626" stroke-width="0.42"/>
<circle cx="291.6" cy="121.6" r="0.65" fill="none" stroke="#262626" stroke-width="0.42"/>
<circle cx="232.5" cy="104.8" r="0.65" fill="none" stroke="#262626" stroke-width="0.42"/>
<circle cx="296.3" cy="77.1" r="0.65" fill="none" stroke="#262626" stroke-width="0.42"/>
<circle cx="217.9" cy="111.9" r="0.65" fill="none" stroke="#262626" stroke-width="0.42"/>
<circle cx="215.6" cy="108.6" r="0.65" fill="none" stroke="#262626" stroke-width="0.42"/>
<circle cx="245.5" cy="108.8" r="0.65" fill="none" stroke="#262626" stroke-width="0.42"/>
<circle cx="219.2" cy="117.6" r="0.65" fill="none" stroke="#262626" stroke-width="0.42"/>
<circle cx="209.1" cy="116.0" r="0.65" fill="none" stroke="#262626" stroke-width="0.42"/>
<circle cx="210.4" cy="118.6" r="0.65" fill="none" stroke="#262626" stroke-width="0.42"/>
<circle cx="235.0" cy="112.1" r="0.65" fill="none" stroke="#262626" stroke-width="0.42"/>
<circle cx="259.6" cy="84.6" r="0.65" fill="none" stroke="#262626" stroke-width="0.42"/>
<circle cx="217.2" cy="118.1" r="0.65" fill="none" stroke="#262626" stroke-width="0.42"/>
<circle cx="211.0" cy="122.0" r="0.65" fill="none" stroke="#262626" stroke-width="0.42"/>
<circle cx="213.8" cy="113.4" r="0.65" fill="none" stroke="#262626" stroke-width="0.42"/>
<circle cx="217.6" cy="113.0" r="0.65" fill="none" stroke="#262626" stroke-width="0.42"/>
<circle cx="218.8" cy="91.7" r="0.65" fill="none" stroke="#262626" stroke-width="0.42"/>
<circle cx="260.1" cy="120.1" r="0.65" fill="none" stroke="#262626" stroke-width="0.42"/>
<circle cx="209.6" cy="109.7" r="0.65" fill="none" stroke="#262626" stroke-width="0.42"/>
<circle cx="223.4" cy="101.2" r="0.65" fill="none" stroke="#262626" stroke-width="0.42"/>
<circle cx="228.2" cy="111.9" r="0.65" fill="none" stroke="#262626" stroke-width="0.42"/>
<circle cx="221.4" cy="118.3" r="0.65" fill="none" stroke="#262626" stroke-width="0.42"/>
<circle cx="226.6" cy="51.9" r="0.65" fill="none" stroke="#262626" stroke-width="0.42"/>
<circle cx="219.4" cy="118.7" r="0.65" fill="none" stroke="#262626" stroke-width="0.42"/>
<circle cx="212.3" cy="55.4" r="0.65" fill="none" stroke="#262626" stroke-width="0.42"/>
<circle cx="300.6" cy="91.2" r="0.65" fill="none" stroke="#262626" stroke-width="0.42"/>
<circle cx="232.9" cy="122.0" r="0.65" fill="none" stroke="#262626" stroke-width="0.42"/>
<circle cx="266.4" cy="113.3" r="0.65" fill="none" stroke="#262626" stroke-width="0.42"/>
<circle cx="224.0" cy="123.6" r="0.65" fill="none" stroke="#262626" stroke-width="0.42"/>
<circle cx="251.7" cy="106.9" r="0.65" fill="none" stroke="#262626" stroke-width="0.42"/>
<circle cx="239.0" cy="103.9" r="0.65" fill="none" stroke="#262626" stroke-width="0.42"/>
<circle cx="220.4" cy="75.0" r="0.65" fill="none" stroke="#262626" stroke-width="0.42"/>
<circle cx="283.3" cy="54.7" r="0.65" fill="none" stroke="#262626" stroke-width="0.42"/>
<circle cx="282.3" cy="54.0" r="0.65" fill="none" stroke="#262626" stroke-width="0.42"/>
<circle cx="210.6" cy="116.2" r="0.65" fill="none" stroke="#262626" stroke-width="0.42"/>
<circle cx="237.8" cy="86.8" r="0.65" fill="none" stroke="#262626" stroke-width="0.42"/>
<circle cx="241.2" cy="115.2" r="0.65" fill="none" stroke="#262626" stroke-width="0.42"/>
<circle cx="301.9" cy="97.3" r="0.65" fill="none" stroke="#262626" stroke-width="0.42"/>
<circle cx="273.7" cy="121.9" r="0.65" fill="none" stroke="#262626" stroke-width="0.42"/>
<circle cx="238.9" cy="119.9" r="0.65" fill="none" stroke="#262626" stroke-width="0.42"/>
<circle cx="228.3" cy="105.1" r="0.65" fill="none" stroke="#262626" stroke-width="0.42"/>
<circle cx="215.3" cy="120.0" r="0.65" fill="none" stroke="#262626" stroke-width="0.42"/>
<circle cx="300.4" cy="85.9" r="0.65" fill="none" stroke="#262626" stroke-width="0.42"/>
<circle cx="281.8" cy="60.4" r="0.65" fill="none" stroke="#262626" stroke-width="0.42"/>
<circle cx="225.8" cy="51.4" r="0.65" fill="none" stroke="#262626" stroke-width="0.42"/>
<circle cx="269.8" cy="112.1" r="0.65" fill="none" stroke="#262626" stroke-width="0.42"/>
<circle cx="225.0" cy="84.5" r="0.65" fill="none" stroke="#262626" stroke-width="0.42"/>
<circle cx="242.4" cy="104.0" r="0.65" fill="none" stroke="#262626" stroke-width="0.42"/>
<circle cx="299.4" cy="72.0" r="0.65" fill="none" stroke="#262626" stroke-width="0.42"/>
<circle cx="256.9" cy="122.8" r="0.65" fill="none" stroke="#262626" stroke-width="0.42"/>
<circle cx="224.9" cy="104.1" r="0.65" fill="none" stroke="#262626" stroke-width="0.42"/>
<circle cx="218.6" cy="108.5" r="0.65" fill="none" stroke="#262626" stroke-width="0.42"/>
<circle cx="234.0" cy="56.6" r="0.65" fill="none" stroke="#262626" stroke-width="0.42"/>
<circle cx="288.1" cy="108.4" r="0.65" fill="none" stroke="#262626" stroke-width="0.42"/>
<circle cx="268.1" cy="64.2" r="0.65" fill="none" stroke="#262626" stroke-width="0.42"/>
<circle cx="225.1" cy="113.8" r="0.65" fill="none" stroke="#262626" stroke-width="0.42"/>
<circle cx="227.9" cy="102.4" r="0.65" fill="none" stroke="#262626" stroke-width="0.42"/>
<circle cx="215.4" cy="117.1" r="0.65" fill="none" stroke="#262626" stroke-width="0.42"/>
<circle cx="215.6" cy="111.5" r="0.65" fill="none" stroke="#262626" stroke-width="0.42"/>
<circle cx="214.6" cy="119.2" r="0.65" fill="none" stroke="#262626" stroke-width="0.42"/>
<circle cx="244.0" cy="110.2" r="0.65" fill="none" stroke="#262626" stroke-width="0.42"/>
<circle cx="270.4" cy="90.9" r="0.65" fill="none" stroke="#262626" stroke-width="0.42"/>
<circle cx="290.7" cy="68.0" r="0.65" fill="none" stroke="#262626" stroke-width="0.42"/>
<circle cx="213.9" cy="88.5" r="0.65" fill="none" stroke="#262626" stroke-width="0.42"/>
<circle cx="242.2" cy="116.3" r="0.65" fill="none" stroke="#262626" stroke-width="0.42"/>
<circle cx="220.0" cy="123.5" r="0.65" fill="none" stroke="#262626" stroke-width="0.42"/>
<circle cx="212.0" cy="124.2" r="0.65" fill="none" stroke="#262626" stroke-width="0.42"/>
<circle cx="239.2" cy="114.6" r="0.65" fill="none" stroke="#262626" stroke-width="0.42"/>
<circle cx="211.4" cy="120.9" r="0.65" fill="none" stroke="#262626" stroke-width="0.42"/>
<circle cx="238.1" cy="99.8" r="0.65" fill="none" stroke="#262626" stroke-width="0.42"/>
<circle cx="238.4" cy="121.8" r="0.65" fill="none" stroke="#262626" stroke-width="0.42"/>
<circle cx="265.9" cy="48.9" r="0.65" fill="none" stroke="#262626" stroke-width="0.42"/>
<circle cx="272.3" cy="83.4" r="0.65" fill="none" stroke="#262626" stroke-width="0.42"/>
<circle cx="227.3" cy="114.5" r="0.65" fill="none" stroke="#262626" stroke-width="0.42"/>
<circle cx="232.6" cy="105.9" r="0.65" fill="none" stroke="#262626" stroke-width="0.42"/>
<circle cx="227.5" cy="118.5" r="0.65" fill="none" stroke="#262626" stroke-width="0.42"/>
<circle cx="220.5" cy="65.6" r="0.65" fill="none" stroke="#262626" stroke-width="0.42"/>
<circle cx="211.3" cy="112.7" r="0.65" fill="none" stroke="#262626" stroke-width="0.42"/>
<circle cx="248.7" cy="74.1" r="0.65" fill="none" stroke="#262626" stroke-width="0.42"/>
<circle cx="211.0" cy="121.8" r="0.65" fill="none" stroke="#262626" stroke-width="0.42"/>
<circle cx="250.2" cy="60.3" r="0.65" fill="none" stroke="#262626" stroke-width="0.42"/>
<circle cx="262.8" cy="72.0" r="0.65" fill="none" stroke="#262626" stroke-width="0.42"/>
<circle cx="219.3" cy="121.3" r="0.65" fill="none" stroke="#262626" stroke-width="0.42"/>
<circle cx="230.8" cy="112.1" r="0.65" fill="none" stroke="#262626" stroke-width="0.42"/>
<circle cx="213.1" cy="98.7" r="0.65" fill="none" stroke="#262626" stroke-width="0.42"/>
<circle cx="271.0" cy="56.0" r="0.65" fill="none" stroke="#262626" stroke-width="0.42"/>
<circle cx="221.6" cy="116.5" r="0.65" fill="none" stroke="#262626" stroke-width="0.42"/>
<circle cx="216.7" cy="110.5" r="0.65" fill="none" stroke="#262626" stroke-width="0.42"/>
<circle cx="293.6" cy="51.2" r="0.65" fill="none" stroke="#262626" stroke-width="0.42"/>
<circle cx="236.7" cy="56.5" r="0.65" fill="none" stroke="#262626" stroke-width="0.42"/>
<circle cx="227.3" cy="115.9" r="0.65" fill="none" stroke="#262626" stroke-width="0.42"/>
<circle cx="227.0" cy="103.4" r="0.65" fill="none" stroke="#262626" stroke-width="0.42"/>
<circle cx="221.9" cy="118.0" r="0.65" fill="none" stroke="#262626" stroke-width="0.42"/>
<circle cx="209.1" cy="119.5" r="0.65" fill="none" stroke="#262626" stroke-width="0.42"/>
<circle cx="229.8" cy="121.3" r="0.65" fill="none" stroke="#262626" stroke-width="0.42"/>
<circle cx="228.3" cy="117.2" r="0.65" fill="none" stroke="#262626" stroke-width="0.42"/>
<circle cx="212.5" cy="109.4" r="0.65" fill="none" stroke="#262626" stroke-width="0.42"/>
<circle cx="256.0" cy="118.8" r="0.65" fill="none" stroke="#262626" stroke-width="0.42"/>
<circle cx="234.5" cy="103.7" r="0.65" fill="none" stroke="#262626" stroke-width="0.42"/>
<circle cx="258.0" cy="107.9" r="0.65" fill="none" stroke="#262626" stroke-width="0.42"/>
<circle cx="216.2" cy="100.5" r="0.65" fill="none" stroke="#262626" stroke-width="0.42"/>
<circle cx="252.7" cy="115.1" r="0.65" fill="none" stroke="#262626" stroke-width="0.42"/>
<circle cx="265.3" cy="57.0" r="0.65" fill="none" stroke="#262626" stroke-width="0.42"/>
<circle cx="301.2" cy="111.9" r="0.65" fill="none" stroke="#262626" stroke-width="0.42"/>
<circle cx="244.7" cy="54.6" r="0.65" fill="none" stroke="#262626" stroke-width="0.42"/>
<circle cx="229.7" cy="95.2" r="0.65" fill="none" stroke="#262626" stroke-width="0.42"/>
<circle cx="213.1" cy="104.2" r="0.65" fill="none" stroke="#262626" stroke-width="0.42"/>
<circle cx="244.2" cy="72.5" r="0.65" fill="none" stroke="#262626" stroke-width="0.42"/>
<circle cx="241.3" cy="70.4" r="0.65" fill="none" stroke="#262626" stroke-width="0.42"/>
<circle cx="280.7" cy="117.7" r="0.65" fill="none" stroke="#262626" stroke-width="0.42"/>
<circle cx="210.4" cy="105.1" r="0.65" fill="none" stroke="#262626" stroke-width="0.42"/>
<line x1="208.9" y1="104.1" x2="302.5" y2="92.7" stroke="#2233ee" stroke-width="1.35"/>
<text transform="translate(195.6,70) rotate(-90)" font-size="10.5" font-style="italic" text-anchor="middle" fill="#222" textLength="36.5" lengthAdjust="spacingAndGlyphs">SLC7A11</text>
<text x="250.8" y="144.5" font-size="11" text-anchor="middle" fill="#222" font-style="italic" textLength="21" lengthAdjust="spacingAndGlyphs">ESR1</text>
<text x="312.5" y="27.6" font-size="8.6" text-anchor="start" fill="#111" textLength="37.5" lengthAdjust="spacingAndGlyphs"><tspan font-style="italic">p</tspan>=8.16e-04,</text>
<text x="312.5" y="36.8" font-size="8.6" text-anchor="start" fill="#111" textLength="36.5" lengthAdjust="spacingAndGlyphs">r<tspan font-size="5.5" dy="1.5">Pearson</tspan><tspan dy="-1.5">=0.15</tspan></text>
<text x="208.4" y="133" font-size="2.6" text-anchor="middle" fill="#888" font-family="'Liberation Sans', sans-serif">1</text>
<text x="244" y="133" font-size="2.6" text-anchor="middle" fill="#888" font-family="'Liberation Sans', sans-serif">20</text>
<text x="280.7" y="133" font-size="2.6" text-anchor="middle" fill="#888" font-family="'Liberation Sans', sans-serif">40</text>
<line x1="386.7" y1="41.5" x2="386.7" y2="127.5" stroke="#ececec" stroke-width="0.6"/>
<line x1="386.7" y1="28" x2="386.7" y2="37" stroke="#ececec" stroke-width="0.6"/>
<line x1="420.8" y1="41.5" x2="420.8" y2="127.5" stroke="#ececec" stroke-width="0.6"/>
<line x1="420.8" y1="28" x2="420.8" y2="37" stroke="#ececec" stroke-width="0.6"/>
<line x1="456.4" y1="41.5" x2="456.4" y2="127.5" stroke="#ececec" stroke-width="0.6"/>
<line x1="456.4" y1="28" x2="456.4" y2="37" stroke="#ececec" stroke-width="0.6"/>
<line x1="386.1" y1="60.8" x2="484.6" y2="60.8" stroke="#ececec" stroke-width="0.6"/>
<line x1="380.1" y1="60.8" x2="382.1" y2="60.8" stroke="#999" stroke-width="0.5"/>
<line x1="386.1" y1="81.6" x2="484.6" y2="81.6" stroke="#ececec" stroke-width="0.6"/>
<line x1="380.1" y1="81.6" x2="382.1" y2="81.6" stroke="#999" stroke-width="0.5"/>
<line x1="386.1" y1="103.2" x2="484.6" y2="103.2" stroke="#ececec" stroke-width="0.6"/>
<line x1="380.1" y1="103.2" x2="382.1" y2="103.2" stroke="#999" stroke-width="0.5"/>
<line x1="386.1" y1="124.6" x2="484.6" y2="124.6" stroke="#ececec" stroke-width="0.6"/>
<line x1="380.1" y1="124.6" x2="382.1" y2="124.6" stroke="#999" stroke-width="0.5"/>
<text x="381" y="20" font-size="10" text-anchor="start" fill="#111" >LumB</text>
<rect x="387.10" y="34.57" width="3.45" height="2.43" fill="#3dab6c" stroke="#24633f" stroke-width="0.35"/>
<rect x="390.55" y="33.85" width="3.45" height="3.15" fill="#3dab6c" stroke="#24633f" stroke-width="0.35"/>
<rect x="393.99" y="28.00" width="3.45" height="9.00" fill="#3dab6c" stroke="#24633f" stroke-width="0.35"/>
<rect x="397.44" y="33.85" width="3.45" height="3.15" fill="#3dab6c" stroke="#24633f" stroke-width="0.35"/>
<rect x="400.89" y="28.90" width="3.45" height="8.10" fill="#3dab6c" stroke="#24633f" stroke-width="0.35"/>
<rect x="404.33" y="33.85" width="3.45" height="3.15" fill="#3dab6c" stroke="#24633f" stroke-width="0.35"/>
<rect x="407.78" y="31.42" width="3.45" height="5.58" fill="#3dab6c" stroke="#24633f" stroke-width="0.35"/>
<rect x="411.23" y="31.42" width="3.45" height="5.58" fill="#3dab6c" stroke="#24633f" stroke-width="0.35"/>
<rect x="414.67" y="32.14" width="3.45" height="4.86" fill="#3dab6c" stroke="#24633f" stroke-width="0.35"/>
<rect x="418.12" y="32.14" width="3.45" height="4.86" fill="#3dab6c" stroke="#24633f" stroke-width="0.35"/>
<rect x="421.56" y="33.40" width="3.45" height="3.60" fill="#3dab6c" stroke="#24633f" stroke-width="0.35"/>
<rect x="425.01" y="33.85" width="3.45" height="3.15" fill="#3dab6c" stroke="#24633f" stroke-width="0.35"/>
<rect x="428.46" y="32.86" width="3.45" height="4.14" fill="#3dab6c" stroke="#24633f" stroke-width="0.35"/>
<rect x="431.90" y="33.85" width="3.45" height="3.15" fill="#3dab6c" stroke="#24633f" stroke-width="0.35"/>
<rect x="435.35" y="35.29" width="3.45" height="1.71" fill="#3dab6c" stroke="#24633f" stroke-width="0.35"/>
<rect x="438.80" y="36.28" width="3.45" height="0.72" fill="#3dab6c" stroke="#24633f" stroke-width="0.35"/>
<rect x="442.24" y="35.29" width="3.45" height="1.71" fill="#3dab6c" stroke="#24633f" stroke-width="0.35"/>
<rect x="445.69" y="35.29" width="3.45" height="1.71" fill="#3dab6c" stroke="#24633f" stroke-width="0.35"/>
<rect x="449.14" y="35.74" width="3.45" height="1.26" fill="#3dab6c" stroke="#24633f" stroke-width="0.35"/>
<rect x="452.58" y="35.74" width="3.45" height="1.26" fill="#3dab6c" stroke="#24633f" stroke-width="0.35"/>
<rect x="456.03" y="36.28" width="3.45" height="0.72" fill="#3dab6c" stroke="#24633f" stroke-width="0.35"/>
<rect x="459.48" y="35.29" width="3.45" height="1.71" fill="#3dab6c" stroke="#24633f" stroke-width="0.35"/>
<rect x="462.92" y="36.28" width="3.45" height="0.72" fill="#3dab6c" stroke="#24633f" stroke-width="0.35"/>
<rect x="466.37" y="36.28" width="3.45" height="0.72" fill="#3dab6c" stroke="#24633f" stroke-width="0.35"/>
<rect x="469.81" y="35.29" width="3.45" height="1.71" fill="#3dab6c" stroke="#24633f" stroke-width="0.35"/>
<rect x="473.26" y="36.28" width="3.45" height="0.72" fill="#3dab6c" stroke="#24633f" stroke-width="0.35"/>
<rect x="476.71" y="35.29" width="3.45" height="1.71" fill="#3dab6c" stroke="#24633f" stroke-width="0.35"/>
<rect x="480.15" y="35.29" width="3.45" height="1.71" fill="#3dab6c" stroke="#24633f" stroke-width="0.35"/>
<line x1="386.1" y1="37" x2="484.6" y2="37" stroke="#555" stroke-width="0.4"/>
<rect x="489.5" y="42.70" width="0.51" height="2.83" fill="#e2671a" stroke="#8a3d0a" stroke-width="0.3"/>
<rect x="489.5" y="45.93" width="0.51" height="2.83" fill="#e2671a" stroke="#8a3d0a" stroke-width="0.3"/>
<rect x="489.5" y="49.16" width="0.82" height="2.83" fill="#e2671a" stroke="#8a3d0a" stroke-width="0.3"/>
<rect x="489.5" y="52.39" width="0.51" height="2.83" fill="#e2671a" stroke="#8a3d0a" stroke-width="0.3"/>
<rect x="489.5" y="55.62" width="1.02" height="2.83" fill="#e2671a" stroke="#8a3d0a" stroke-width="0.3"/>
<rect x="489.5" y="58.85" width="0.51" height="2.83" fill="#e2671a" stroke="#8a3d0a" stroke-width="0.3"/>
<rect x="489.5" y="62.08" width="2.04" height="2.83" fill="#e2671a" stroke="#8a3d0a" stroke-width="0.3"/>
<rect x="489.5" y="65.32" width="1.02" height="2.83" fill="#e2671a" stroke="#8a3d0a" stroke-width="0.3"/>
<rect x="489.5" y="68.55" width="0.51" height="2.83" fill="#e2671a" stroke="#8a3d0a" stroke-width="0.3"/>
<rect x="489.5" y="71.78" width="1.02" height="2.83" fill="#e2671a" stroke="#8a3d0a" stroke-width="0.3"/>
<rect x="489.5" y="75.01" width="2.04" height="2.83" fill="#e2671a" stroke="#8a3d0a" stroke-width="0.3"/>
<rect x="489.5" y="78.24" width="1.02" height="2.83" fill="#e2671a" stroke="#8a3d0a" stroke-width="0.3"/>
<rect x="489.5" y="81.47" width="1.53" height="2.83" fill="#e2671a" stroke="#8a3d0a" stroke-width="0.3"/>
<rect x="489.5" y="84.70" width="1.02" height="2.83" fill="#e2671a" stroke="#8a3d0a" stroke-width="0.3"/>
<rect x="489.5" y="87.93" width="2.04" height="2.83" fill="#e2671a" stroke="#8a3d0a" stroke-width="0.3"/>
<rect x="489.5" y="91.16" width="2.55" height="2.83" fill="#e2671a" stroke="#8a3d0a" stroke-width="0.3"/>
<rect x="489.5" y="94.39" width="3.06" height="2.83" fill="#e2671a" stroke="#8a3d0a" stroke-width="0.3"/>
<rect x="489.5" y="97.62" width="3.57" height="2.83" fill="#e2671a" stroke="#8a3d0a" stroke-width="0.3"/>
<rect x="489.5" y="100.85" width="4.08" height="2.83" fill="#e2671a" stroke="#8a3d0a" stroke-width="0.3"/>
<rect x="489.5" y="104.08" width="5.61" height="2.83" fill="#e2671a" stroke="#8a3d0a" stroke-width="0.3"/>
<rect x="489.5" y="107.32" width="7.14" height="2.83" fill="#e2671a" stroke="#8a3d0a" stroke-width="0.3"/>
<rect x="489.5" y="110.55" width="9.18" height="2.83" fill="#e2671a" stroke="#8a3d0a" stroke-width="0.3"/>
<rect x="489.5" y="113.78" width="10.20" height="2.83" fill="#e2671a" stroke="#8a3d0a" stroke-width="0.3"/>
<rect x="489.5" y="117.01" width="9.69" height="2.83" fill="#e2671a" stroke="#8a3d0a" stroke-width="0.3"/>
<rect x="489.5" y="120.24" width="8.16" height="2.83" fill="#e2671a" stroke="#8a3d0a" stroke-width="0.3"/>
<rect x="489.5" y="123.47" width="5.10" height="2.83" fill="#e2671a" stroke="#8a3d0a" stroke-width="0.3"/>
<line x1="489.5" y1="41.5" x2="489.5" y2="127.5" stroke="#555" stroke-width="0.4"/>
<path d="M389,106.5 L482.5,83 L482.5,97.9 L389,114 Z" fill="#cfcfcf" opacity="0.8"/>
<circle cx="450.0" cy="106.0" r="0.65" fill="none" stroke="#262626" stroke-width="0.42"/>
<circle cx="457.1" cy="97.5" r="0.65" fill="none" stroke="#262626" stroke-width="0.42"/>
<circle cx="440.5" cy="118.8" r="0.65" fill="none" stroke="#262626" stroke-width="0.42"/>
<circle cx="467.6" cy="123.2" r="0.65" fill="none" stroke="#262626" stroke-width="0.42"/>
<circle cx="403.6" cy="113.0" r="0.65" fill="none" stroke="#262626" stroke-width="0.42"/>
<circle cx="389.3" cy="121.0" r="0.65" fill="none" stroke="#262626" stroke-width="0.42"/>
<circle cx="421.4" cy="111.3" r="0.65" fill="none" stroke="#262626" stroke-width="0.42"/>
<circle cx="392.5" cy="113.1" r="0.65" fill="none" stroke="#262626" stroke-width="0.42"/>
<circle cx="395.1" cy="124.0" r="0.65" fill="none" stroke="#262626" stroke-width="0.42"/>
<circle cx="408.3" cy="56.5" r="0.65" fill="none" stroke="#262626" stroke-width="0.42"/>
<circle cx="469.3" cy="60.8" r="0.65" fill="none" stroke="#262626" stroke-width="0.42"/>
<circle cx="438.6" cy="83.3" r="0.65" fill="none" stroke="#262626" stroke-width="0.42"/>
<circle cx="420.4" cy="112.9" r="0.65" fill="none" stroke="#262626" stroke-width="0.42"/>
<circle cx="471.2" cy="61.3" r="0.65" fill="none" stroke="#262626" stroke-width="0.42"/>
<circle cx="397.7" cy="122.5" r="0.65" fill="none" stroke="#262626" stroke-width="0.42"/>
<circle cx="398.5" cy="123.1" r="0.65" fill="none" stroke="#262626" stroke-width="0.42"/>
<circle cx="397.7" cy="111.5" r="0.65" fill="none" stroke="#262626" stroke-width="0.42"/>
<circle cx="399.5" cy="110.3" r="0.65" fill="none" stroke="#262626" stroke-width="0.42"/>
<circle cx="423.1" cy="117.0" r="0.65" fill="none" stroke="#262626" stroke-width="0.42"/>
<circle cx="393.7" cy="115.8" r="0.65" fill="none" stroke="#262626" stroke-width="0.42"/>
<circle cx="461.3" cy="124.2" r="0.65" fill="none" stroke="#262626" stroke-width="0.42"/>
<circle cx="413.4" cy="112.0" r="0.65" fill="none" stroke="#262626" stroke-width="0.42"/>
<circle cx="402.3" cy="117.0" r="0.65" fill="none" stroke="#262626" stroke-width="0.42"/>
<circle cx="407.1" cy="87.8" r="0.65" fill="none" stroke="#262626" stroke-width="0.42"/>
<circle cx="475.7" cy="64.0" r="0.65" fill="none" stroke="#262626" stroke-width="0.42"/>
<circle cx="427.9" cy="106.6" r="0.65" fill="none" stroke="#262626" stroke-width="0.42"/>
<circle cx="389.4" cy="106.2" r="0.65" fill="none" stroke="#262626" stroke-width="0.42"/>
<circle cx="392.4" cy="98.9" r="0.65" fill="none" stroke="#262626" stroke-width="0.42"/>
<circle cx="405.3" cy="122.4" r="0.65" fill="none" stroke="#262626" stroke-width="0.42"/>
<circle cx="420.3" cy="97.6" r="0.65" fill="none" stroke="#262626" stroke-width="0.42"/>
<circle cx="408.8" cy="118.7" r="0.65" fill="none" stroke="#262626" stroke-width="0.42"/>
<circle cx="400.0" cy="117.5" r="0.65" fill="none" stroke="#262626" stroke-width="0.42"/>
<circle cx="478.6" cy="122.2" r="0.65" fill="none" stroke="#262626" stroke-width="0.42"/>
<circle cx="416.1" cy="115.4" r="0.65" fill="none" stroke="#262626" stroke-width="0.42"/>
<circle cx="402.9" cy="111.6" r="0.65" fill="none" stroke="#262626" stroke-width="0.42"/>
<circle cx="430.9" cy="68.5" r="0.65" fill="none" stroke="#262626" stroke-width="0.42"/>
<circle cx="393.9" cy="115.3" r="0.65" fill="none" stroke="#262626" stroke-width="0.42"/>
<circle cx="460.6" cy="122.8" r="0.65" fill="none" stroke="#262626" stroke-width="0.42"/>
<circle cx="473.2" cy="110.6" r="0.65" fill="none" stroke="#262626" stroke-width="0.42"/>
<circle cx="393.9" cy="115.8" r="0.65" fill="none" stroke="#262626" stroke-width="0.42"/>
<circle cx="399.3" cy="112.2" r="0.65" fill="none" stroke="#262626" stroke-width="0.42"/>
<circle cx="478.9" cy="104.4" r="0.65" fill="none" stroke="#262626" stroke-width="0.42"/>
<circle cx="430.7" cy="72.3" r="0.65" fill="none" stroke="#262626" stroke-width="0.42"/>
<circle cx="423.6" cy="119.3" r="0.65" fill="none" stroke="#262626" stroke-width="0.42"/>
<circle cx="396.4" cy="117.2" r="0.65" fill="none" stroke="#262626" stroke-width="0.42"/>
<circle cx="477.3" cy="80.4" r="0.65" fill="none" stroke="#262626" stroke-width="0.42"/>
<circle cx="411.0" cy="123.6" r="0.65" fill="none" stroke="#262626" stroke-width="0.42"/>
<circle cx="397.8" cy="105.2" r="0.65" fill="none" stroke="#262626" stroke-width="0.42"/>
<circle cx="454.8" cy="106.6" r="0.65" fill="none" stroke="#262626" stroke-width="0.42"/>
<circle cx="441.9" cy="107.0" r="0.65" fill="none" stroke="#262626" stroke-width="0.42"/>
<circle cx="446.1" cy="119.6" r="0.65" fill="none" stroke="#262626" stroke-width="0.42"/>
<circle cx="453.0" cy="109.0" r="0.65" fill="none" stroke="#262626" stroke-width="0.42"/>
<circle cx="419.0" cy="113.3" r="0.65" fill="none" stroke="#262626" stroke-width="0.42"/>
<circle cx="389.3" cy="112.9" r="0.65" fill="none" stroke="#262626" stroke-width="0.42"/>
<circle cx="400.6" cy="110.6" r="0.65" fill="none" stroke="#262626" stroke-width="0.42"/>
<circle cx="448.6" cy="90.3" r="0.65" fill="none" stroke="#262626" stroke-width="0.42"/>
<circle cx="411.2" cy="108.9" r="0.65" fill="none" stroke="#262626" stroke-width="0.42"/>
<circle cx="421.2" cy="92.9" r="0.65" fill="none" stroke="#262626" stroke-width="0.42"/>
<circle cx="452.3" cy="100.6" r="0.65" fill="none" stroke="#262626" stroke-width="0.42"/>
<circle cx="436.7" cy="74.7" r="0.65" fill="none" stroke="#262626" stroke-width="0.42"/>
<circle cx="415.8" cy="104.9" r="0.65" fill="none" stroke="#262626" stroke-width="0.42"/>
<circle cx="444.7" cy="108.2" r="0.65" fill="none" stroke="#262626" stroke-width="0.42"/>
<circle cx="398.1" cy="106.4" r="0.65" fill="none" stroke="#262626" stroke-width="0.42"/>
<circle cx="442.0" cy="116.2" r="0.65" fill="none" stroke="#262626" stroke-width="0.42"/>
<circle cx="453.6" cy="110.5" r="0.65" fill="none" stroke="#262626" stroke-width="0.42"/>
<circle cx="389.8" cy="122.2" r="0.65" fill="none" stroke="#262626" stroke-width="0.42"/>
<circle cx="440.4" cy="121.0" r="0.65" fill="none" stroke="#262626" stroke-width="0.42"/>
<circle cx="438.4" cy="124.4" r="0.65" fill="none" stroke="#262626" stroke-width="0.42"/>
<circle cx="402.0" cy="124.2" r="0.65" fill="none" stroke="#262626" stroke-width="0.42"/>
<circle cx="394.7" cy="119.2" r="0.65" fill="none" stroke="#262626" stroke-width="0.42"/>
<circle cx="413.0" cy="117.4" r="0.65" fill="none" stroke="#262626" stroke-width="0.42"/>
<circle cx="436.5" cy="111.7" r="0.65" fill="none" stroke="#262626" stroke-width="0.42"/>
<circle cx="389.7" cy="115.9" r="0.65" fill="none" stroke="#262626" stroke-width="0.42"/>
<circle cx="406.1" cy="116.4" r="0.65" fill="none" stroke="#262626" stroke-width="0.42"/>
<circle cx="399.4" cy="111.4" r="0.65" fill="none" stroke="#262626" stroke-width="0.42"/>
<circle cx="396.4" cy="114.4" r="0.65" fill="none" stroke="#262626" stroke-width="0.42"/>
<circle cx="411.1" cy="112.0" r="0.65" fill="none" stroke="#262626" stroke-width="0.42"/>
<circle cx="464.3" cy="68.3" r="0.65" fill="none" stroke="#262626" stroke-width="0.42"/>
<circle cx="448.1" cy="65.4" r="0.65" fill="none" stroke="#262626" stroke-width="0.42"/>
<circle cx="412.3" cy="112.0" r="0.65" fill="none" stroke="#262626" stroke-width="0.42"/>
<circle cx="478.1" cy="79.3" r="0.65" fill="none" stroke="#262626" stroke-width="0.42"/>
<circle cx="466.7" cy="124.0" r="0.65" fill="none" stroke="#262626" stroke-width="0.42"/>
<circle cx="416.8" cy="112.9" r="0.65" fill="none" stroke="#262626" stroke-width="0.42"/>
<circle cx="420.8" cy="107.6" r="0.65" fill="none" stroke="#262626" stroke-width="0.42"/>
<circle cx="419.2" cy="120.8" r="0.65" fill="none" stroke="#262626" stroke-width="0.42"/>
<circle cx="410.2" cy="115.1" r="0.65" fill="none" stroke="#262626" stroke-width="0.42"/>
<circle cx="473.1" cy="78.6" r="0.65" fill="none" stroke="#262626" stroke-width="0.42"/>
<circle cx="414.6" cy="115.2" r="0.65" fill="none" stroke="#262626" stroke-width="0.42"/>
<circle cx="409.4" cy="100.5" r="0.65" fill="none" stroke="#262626" stroke-width="0.42"/>
<circle cx="406.7" cy="114.7" r="0.65" fill="none" stroke="#262626" stroke-width="0.42"/>
<circle cx="406.2" cy="111.9" r="0.65" fill="none" stroke="#262626" stroke-width="0.42"/>
<circle cx="397.2" cy="105.9" r="0.65" fill="none" stroke="#262626" stroke-width="0.42"/>
<circle cx="406.2" cy="115.1" r="0.65" fill="none" stroke="#262626" stroke-width="0.42"/>
<circle cx="460.9" cy="58.2" r="0.65" fill="none" stroke="#262626" stroke-width="0.42"/>
<circle cx="426.2" cy="119.4" r="0.65" fill="none" stroke="#262626" stroke-width="0.42"/>
<circle cx="408.4" cy="112.1" r="0.65" fill="none" stroke="#262626" stroke-width="0.42"/>
<circle cx="435.7" cy="107.5" r="0.65" fill="none" stroke="#262626" stroke-width="0.42"/>
<circle cx="390.2" cy="111.4" r="0.65" fill="none" stroke="#262626" stroke-width="0.42"/>
<circle cx="410.8" cy="119.2" r="0.65" fill="none" stroke="#262626" stroke-width="0.42"/>
<circle cx="422.2" cy="117.6" r="0.65" fill="none" stroke="#262626" stroke-width="0.42"/>
<circle cx="434.4" cy="124.5" r="0.65" fill="none" stroke="#262626" stroke-width="0.42"/>
<circle cx="436.1" cy="119.4" r="0.65" fill="none" stroke="#262626" stroke-width="0.42"/>
<circle cx="439.2" cy="44.8" r="0.65" fill="none" stroke="#262626" stroke-width="0.42"/>
<circle cx="418.8" cy="112.1" r="0.65" fill="none" stroke="#262626" stroke-width="0.42"/>
<circle cx="438.6" cy="114.6" r="0.65" fill="none" stroke="#262626" stroke-width="0.42"/>
<circle cx="424.5" cy="66.7" r="0.65" fill="none" stroke="#262626" stroke-width="0.42"/>
<circle cx="407.1" cy="61.2" r="0.65" fill="none" stroke="#262626" stroke-width="0.42"/>
<circle cx="395.1" cy="92.5" r="0.65" fill="none" stroke="#262626" stroke-width="0.42"/>
<circle cx="419.3" cy="119.4" r="0.65" fill="none" stroke="#262626" stroke-width="0.42"/>
<circle cx="468.7" cy="122.6" r="0.65" fill="none" stroke="#262626" stroke-width="0.42"/>
<circle cx="430.3" cy="114.2" r="0.65" fill="none" stroke="#262626" stroke-width="0.42"/>
<circle cx="405.6" cy="122.0" r="0.65" fill="none" stroke="#262626" stroke-width="0.42"/>
<circle cx="395.3" cy="57.3" r="0.65" fill="none" stroke="#262626" stroke-width="0.42"/>
<circle cx="461.8" cy="82.5" r="0.65" fill="none" stroke="#262626" stroke-width="0.42"/>
<circle cx="399.5" cy="101.0" r="0.65" fill="none" stroke="#262626" stroke-width="0.42"/>
<circle cx="453.5" cy="46.8" r="0.65" fill="none" stroke="#262626" stroke-width="0.42"/>
<circle cx="409.2" cy="81.5" r="0.65" fill="none" stroke="#262626" stroke-width="0.42"/>
<circle cx="454.5" cy="51.8" r="0.65" fill="none" stroke="#262626" stroke-width="0.42"/>
<circle cx="399.9" cy="114.5" r="0.65" fill="none" stroke="#262626" stroke-width="0.42"/>
<circle cx="417.6" cy="122.2" r="0.65" fill="none" stroke="#262626" stroke-width="0.42"/>
<circle cx="390.5" cy="123.3" r="0.65" fill="none" stroke="#262626" stroke-width="0.42"/>
<circle cx="391.9" cy="124.2" r="0.65" fill="none" stroke="#262626" stroke-width="0.42"/>
<circle cx="450.1" cy="103.6" r="0.65" fill="none" stroke="#262626" stroke-width="0.42"/>
<circle cx="406.4" cy="118.0" r="0.65" fill="none" stroke="#262626" stroke-width="0.42"/>
<circle cx="424.6" cy="101.8" r="0.65" fill="none" stroke="#262626" stroke-width="0.42"/>
<circle cx="391.1" cy="108.8" r="0.65" fill="none" stroke="#262626" stroke-width="0.42"/>
<circle cx="406.7" cy="111.2" r="0.65" fill="none" stroke="#262626" stroke-width="0.42"/>
<circle cx="440.0" cy="80.0" r="0.65" fill="none" stroke="#262626" stroke-width="0.42"/>
<circle cx="405.0" cy="114.7" r="0.65" fill="none" stroke="#262626" stroke-width="0.42"/>
<circle cx="427.2" cy="122.8" r="0.65" fill="none" stroke="#262626" stroke-width="0.42"/>
<circle cx="413.8" cy="122.5" r="0.65" fill="none" stroke="#262626" stroke-width="0.42"/>
<circle cx="396.3" cy="108.2" r="0.65" fill="none" stroke="#262626" stroke-width="0.42"/>
<circle cx="393.7" cy="113.9" r="0.65" fill="none" stroke="#262626" stroke-width="0.42"/>
<circle cx="402.5" cy="113.7" r="0.65" fill="none" stroke="#262626" stroke-width="0.42"/>
<circle cx="433.2" cy="62.8" r="0.65" fill="none" stroke="#262626" stroke-width="0.42"/>
<circle cx="389.9" cy="108.0" r="0.65" fill="none" stroke="#262626" stroke-width="0.42"/>
<circle cx="420.7" cy="122.0" r="0.65" fill="none" stroke="#262626" stroke-width="0.42"/>
<circle cx="401.8" cy="123.1" r="0.65" fill="none" stroke="#262626" stroke-width="0.42"/>
<circle cx="450.2" cy="91.6" r="0.65" fill="none" stroke="#262626" stroke-width="0.42"/>
<circle cx="403.6" cy="112.4" r="0.65" fill="none" stroke="#262626" stroke-width="0.42"/>
<circle cx="404.2" cy="122.6" r="0.65" fill="none" stroke="#262626" stroke-width="0.42"/>
<circle cx="398.0" cy="118.0" r="0.65" fill="none" stroke="#262626" stroke-width="0.42"/>
<circle cx="448.6" cy="90.7" r="0.65" fill="none" stroke="#262626" stroke-width="0.42"/>
<circle cx="462.0" cy="113.7" r="0.65" fill="none" stroke="#262626" stroke-width="0.42"/>
<circle cx="432.7" cy="107.6" r="0.65" fill="none" stroke="#262626" stroke-width="0.42"/>
<circle cx="393.3" cy="124.4" r="0.65" fill="none" stroke="#262626" stroke-width="0.42"/>
<circle cx="433.7" cy="118.8" r="0.65" fill="none" stroke="#262626" stroke-width="0.42"/>
<circle cx="452.0" cy="124.0" r="0.65" fill="none" stroke="#262626" stroke-width="0.42"/>
<circle cx="466.3" cy="110.9" r="0.65" fill="none" stroke="#262626" stroke-width="0.42"/>
<circle cx="422.3" cy="123.4" r="0.65" fill="none" stroke="#262626" stroke-width="0.42"/>
<circle cx="400.5" cy="120.5" r="0.65" fill="none" stroke="#262626" stroke-width="0.42"/>
<circle cx="465.3" cy="122.4" r="0.65" fill="none" stroke="#262626" stroke-width="0.42"/>
<circle cx="391.2" cy="119.2" r="0.65" fill="none" stroke="#262626" stroke-width="0.42"/>
<circle cx="391.3" cy="122.3" r="0.65" fill="none" stroke="#262626" stroke-width="0.42"/>
<circle cx="407.8" cy="113.6" r="0.65" fill="none" stroke="#262626" stroke-width="0.42"/>
<circle cx="452.3" cy="83.1" r="0.65" fill="none" stroke="#262626" stroke-width="0.42"/>
<circle cx="472.7" cy="123.1" r="0.65" fill="none" stroke="#262626" stroke-width="0.42"/>
<circle cx="407.1" cy="109.4" r="0.65" fill="none" stroke="#262626" stroke-width="0.42"/>
<circle cx="397.5" cy="121.4" r="0.65" fill="none" stroke="#262626" stroke-width="0.42"/>
<circle cx="390.1" cy="118.2" r="0.65" fill="none" stroke="#262626" stroke-width="0.42"/>
<circle cx="475.9" cy="117.6" r="0.65" fill="none" stroke="#262626" stroke-width="0.42"/>
<circle cx="406.6" cy="116.9" r="0.65" fill="none" stroke="#262626" stroke-width="0.42"/>
<circle cx="447.5" cy="122.2" r="0.65" fill="none" stroke="#262626" stroke-width="0.42"/>
<circle cx="413.5" cy="104.5" r="0.65" fill="none" stroke="#262626" stroke-width="0.42"/>
<circle cx="419.1" cy="100.7" r="0.65" fill="none" stroke="#262626" stroke-width="0.42"/>
<circle cx="424.5" cy="119.6" r="0.65" fill="none" stroke="#262626" stroke-width="0.42"/>
<circle cx="390.6" cy="112.8" r="0.65" fill="none" stroke="#262626" stroke-width="0.42"/>
<circle cx="436.7" cy="64.3" r="0.65" fill="none" stroke="#262626" stroke-width="0.42"/>
<circle cx="431.5" cy="121.1" r="0.65" fill="none" stroke="#262626" stroke-width="0.42"/>
<circle cx="471.6" cy="124.3" r="0.65" fill="none" stroke="#262626" stroke-width="0.42"/>
<circle cx="410.0" cy="117.7" r="0.65" fill="none" stroke="#262626" stroke-width="0.42"/>
<circle cx="389.8" cy="121.6" r="0.65" fill="none" stroke="#262626" stroke-width="0.42"/>
<circle cx="394.8" cy="116.5" r="0.65" fill="none" stroke="#262626" stroke-width="0.42"/>
<circle cx="405.5" cy="73.5" r="0.65" fill="none" stroke="#262626" stroke-width="0.42"/>
<circle cx="428.6" cy="123.7" r="0.65" fill="none" stroke="#262626" stroke-width="0.42"/>
<circle cx="410.4" cy="120.3" r="0.65" fill="none" stroke="#262626" stroke-width="0.42"/>
<circle cx="444.0" cy="93.7" r="0.65" fill="none" stroke="#262626" stroke-width="0.42"/>
<circle cx="416.2" cy="116.7" r="0.65" fill="none" stroke="#262626" stroke-width="0.42"/>
<circle cx="432.5" cy="117.3" r="0.65" fill="none" stroke="#262626" stroke-width="0.42"/>
<circle cx="448.3" cy="102.6" r="0.65" fill="none" stroke="#262626" stroke-width="0.42"/>
<circle cx="428.1" cy="119.2" r="0.65" fill="none" stroke="#262626" stroke-width="0.42"/>
<circle cx="403.2" cy="119.2" r="0.65" fill="none" stroke="#262626" stroke-width="0.42"/>
<circle cx="394.7" cy="105.9" r="0.65" fill="none" stroke="#262626" stroke-width="0.42"/>
<circle cx="395.2" cy="117.7" r="0.65" fill="none" stroke="#262626" stroke-width="0.42"/>
<circle cx="409.1" cy="118.9" r="0.65" fill="none" stroke="#262626" stroke-width="0.42"/>
<line x1="389" y1="110.3" x2="482.5" y2="90.4" stroke="#2233ee" stroke-width="1.35"/>
<text transform="translate(372.5,70) rotate(-90)" font-size="10.5" font-style="italic" text-anchor="middle" fill="#222" textLength="36.5" lengthAdjust="spacingAndGlyphs">SLC7A11</text>
<text x="439.2" y="144.5" font-size="11" text-anchor="middle" fill="#222" font-style="italic" textLength="21" lengthAdjust="spacingAndGlyphs">ESR1</text>
<text x="493.4" y="27.6" font-size="8.6" text-anchor="start" fill="#111" textLength="37.5" lengthAdjust="spacingAndGlyphs"><tspan font-style="italic">p</tspan>=3.61e-04,</text>
<text x="493.4" y="36.8" font-size="8.6" text-anchor="start" fill="#111" textLength="36.5" lengthAdjust="spacingAndGlyphs">r<tspan font-size="5.5" dy="1.5">Pearson</tspan><tspan dy="-1.5">=0.26</tspan></text>
<text x="386.7" y="133" font-size="2.6" text-anchor="middle" fill="#888" font-family="'Liberation Sans', sans-serif">1</text>
<text x="420.8" y="133" font-size="2.6" text-anchor="middle" fill="#888" font-family="'Liberation Sans', sans-serif">20</text>
<text x="456.4" y="133" font-size="2.6" text-anchor="middle" fill="#888" font-family="'Liberation Sans', sans-serif">40</text>
<text x="526.2" y="8.3" font-size="10" text-anchor="start" fill="#111" >C</text>
<filter id="bl1" x="-30%" y="-60%" width="160%" height="220%"><feGaussianBlur stdDeviation="1.1"/></filter>
<filter id="bl2" x="-30%" y="-60%" width="160%" height="220%"><feGaussianBlur stdDeviation="1.8"/></filter>
<filter id="bl05" x="-30%" y="-60%" width="160%" height="220%"><feGaussianBlur stdDeviation="0.6"/></filter>
<clipPath id="wb0"><rect x="575.3" y="33.4" width="64.40000000000009" height="19.4"/></clipPath>
<rect x="575.3" y="33.4" width="64.40000000000009" height="19.4" fill="#f7f7f7"/>
<clipPath id="wb1"><rect x="575.3" y="55.3" width="64.40000000000009" height="33.0"/></clipPath>
<rect x="575.3" y="55.3" width="64.40000000000009" height="33.0" fill="#f7f7f7"/>
<clipPath id="wb2"><rect x="575.3" y="91.2" width="64.40000000000009" height="33.7"/></clipPath>
<rect x="575.3" y="91.2" width="64.40000000000009" height="33.7" fill="#f7f7f7"/>
<clipPath id="wb3"><rect x="575.3" y="128.5" width="64.40000000000009" height="22.5"/></clipPath>
<rect x="575.3" y="128.5" width="64.40000000000009" height="22.5" fill="#f7f7f7"/>
<clipPath id="wb4"><rect x="575.3" y="154.5" width="64.40000000000009" height="17.5"/></clipPath>
<rect x="575.3" y="154.5" width="64.40000000000009" height="17.5" fill="#f7f7f7"/>
<g clip-path="url(#wb0)">
<ellipse cx="591" cy="43.3" rx="9.5" ry="2.0" fill="#666" filter="url(#bl05)"/>
<ellipse cx="595" cy="43.3" rx="5.2" ry="2.4" fill="#000" filter="url(#bl05)"/>
<ellipse cx="610" cy="44" rx="7" ry="2" fill="#9a9a9a" filter="url(#bl05)"/>
<ellipse cx="629" cy="43.2" rx="7" ry="2" fill="#cdcdcd" filter="url(#bl05)"/>
</g>
<g clip-path="url(#wb1)">
<rect x="579" y="57" width="21" height="16" fill="#b8b8b8" filter="url(#bl1)"/>
<rect x="579" y="60" width="21" height="3" fill="#8a8a8a" filter="url(#bl1)"/>
<rect x="579" y="72" width="21" height="13" fill="#777" filter="url(#bl1)"/>
<rect x="579.5" y="75.5" width="20" height="3.5" fill="#151515" filter="url(#bl05)"/>
<rect x="579.5" y="80.2" width="20" height="3.2" fill="#222" filter="url(#bl05)"/>
<rect x="602" y="61" width="15" height="22" fill="#cfcfcf" filter="url(#bl1)"/>
<rect x="602.5" y="75" width="14" height="8" fill="#6a6a6a" filter="url(#bl1)"/>
<rect x="621" y="79" width="15" height="5" fill="#e2e2e2" filter="url(#bl1)"/>
</g>
<g clip-path="url(#wb2)">
<rect x="621" y="96" width="15" height="26" fill="#ebebeb" filter="url(#bl2)"/>
<ellipse cx="628.5" cy="118" rx="8" ry="3.6" fill="#a5a5a5" filter="url(#bl1)"/>
<path d="M580,96.5 Q580,94.2 583,94.2 L597,94.2 Q599.8,94.2 600,97 L600.8,121.8 L578.6,121.8 Z" fill="#000" filter="url(#bl05)"/>
<path d="M602.2,102 Q602.2,99.6 605,99.6 L614,99.6 Q616.4,99.6 616.5,102 L616.9,121.8 L601.4,121.8 Z" fill="#000" filter="url(#bl05)"/>
</g>
<g clip-path="url(#wb3)">
<ellipse cx="589" cy="140" rx="13" ry="8" fill="#e2e2e2" filter="url(#bl2)"/>
<ellipse cx="588.5" cy="140" rx="9.5" ry="3.6" fill="#1a1a1a" filter="url(#bl1)"/>
<ellipse cx="609.5" cy="141" rx="7.5" ry="3.3" fill="#9d9d9d" filter="url(#bl1)"/>
<ellipse cx="628.5" cy="141" rx="7.5" ry="3.2" fill="#ababab" filter="url(#bl1)"/>
</g>
<g clip-path="url(#wb4)">
<rect x="578" y="160.2" width="59" height="4.2" rx="1.5" fill="#7a7a7a" filter="url(#bl05)"/>
<ellipse cx="609" cy="162.3" rx="8" ry="2.3" fill="#383838" filter="url(#bl05)"/>
<ellipse cx="629" cy="162.2" rx="7" ry="2.1" fill="#444" filter="url(#bl05)"/><ellipse cx="633" cy="162.1" rx="4" ry="2.1" fill="#1a1a1a" filter="url(#bl05)"/>
<ellipse cx="589" cy="162.4" rx="9" ry="1.8" fill="#5a5a5a" filter="url(#bl05)"/>
</g>
<rect x="575.3" y="33.4" width="64.40000000000009" height="19.4" fill="none" stroke="#444" stroke-width="1"/>
<rect x="575.3" y="55.3" width="64.40000000000009" height="33.0" fill="none" stroke="#444" stroke-width="1"/>
<rect x="575.3" y="91.2" width="64.40000000000009" height="33.7" fill="none" stroke="#444" stroke-width="1"/>
<rect x="575.3" y="128.5" width="64.40000000000009" height="22.5" fill="none" stroke="#444" stroke-width="1"/>
<rect x="575.3" y="154.5" width="64.40000000000009" height="17.5" fill="none" stroke="#444" stroke-width="1"/>
<text x="573" y="46.4" font-size="9.0" text-anchor="end" fill="#111" >ER&#945;</text>
<text x="573" y="73.6" font-size="9.0" text-anchor="end" fill="#111" >SLC3A2</text>
<text x="557.3" y="82.3" font-size="6.6" text-anchor="middle" fill="#111" >short exp.</text>
<text x="573" y="111.8" font-size="9.0" text-anchor="end" fill="#111" >SLC3A2</text>
<text x="556.8" y="118.7" font-size="6.6" text-anchor="middle" fill="#111" >long exp.</text>
<text x="574.2" y="143.5" font-size="8.6" text-anchor="end" fill="#111" >SLC7A11</text>
<text x="574.3" y="163" font-size="8.8" text-anchor="end" fill="#111" >&#946;-actin</text>
<line x1="639.7" y1="37.2" x2="642.7" y2="37.2" stroke="#222" stroke-width="0.7"/>
<text x="643.5" y="39.5" font-size="6.5" text-anchor="start" fill="#111" >70</text>
<line x1="639.7" y1="70.5" x2="642.7" y2="70.5" stroke="#222" stroke-width="0.7"/>
<text x="643.5" y="72.8" font-size="6.5" text-anchor="start" fill="#111" >100</text>
<line x1="639.7" y1="109.8" x2="642.7" y2="109.8" stroke="#222" stroke-width="0.7"/>
<text x="643.5" y="111.9" font-size="6.5" text-anchor="start" fill="#111" >100</text>
<line x1="639.7" y1="140" x2="642.7" y2="140" stroke="#222" stroke-width="0.7"/>
<text x="643.5" y="142.3" font-size="6.5" text-anchor="start" fill="#111" >35</text>
<line x1="639.7" y1="161.8" x2="642.7" y2="161.8" stroke="#222" stroke-width="0.7"/>
<text x="643.5" y="164" font-size="6.5" text-anchor="start" fill="#111" >43</text>
<text x="642.8" y="31.9" font-size="7" text-anchor="start" fill="#111" >KDa</text>
<text transform="translate(587.6,31.6) rotate(-36)" font-size="9.4" fill="#111">MCF-7</text>
<text transform="translate(607.2,31.8) rotate(-36)" font-size="9.4" fill="#111">ZR-75-1</text>
<text transform="translate(628.6,31.4) rotate(-36)" font-size="9.4" fill="#111">T-47D</text>
<path d="M33.6,183.1 V292.1 H167.6" fill="none" stroke="#555" stroke-width="0.8"/>
<line x1="32.1" y1="187.10" x2="33.6" y2="187.10" stroke="#555" stroke-width="0.6"/>
<text x="31.400000000000002" y="190.1" font-size="8.6" text-anchor="end" fill="#222" >1.00</text>
<line x1="32.1" y1="212.10" x2="33.6" y2="212.10" stroke="#555" stroke-width="0.6"/>
<text x="31.400000000000002" y="215.1" font-size="8.6" text-anchor="end" fill="#222" >0.75</text>
<line x1="32.1" y1="237.10" x2="33.6" y2="237.10" stroke="#555" stroke-width="0.6"/>
<text x="31.400000000000002" y="240.10000000000002" font-size="8.6" text-anchor="end" fill="#222" >0.50</text>
<line x1="32.1" y1="262.10" x2="33.6" y2="262.10" stroke="#555" stroke-width="0.6"/>
<text x="31.400000000000002" y="265.1" font-size="8.6" text-anchor="end" fill="#222" >0.25</text>
<line x1="32.1" y1="287.10" x2="33.6" y2="287.10" stroke="#555" stroke-width="0.6"/>
<text x="31.400000000000002" y="290.1" font-size="8.6" text-anchor="end" fill="#222" >0.00</text>
<line x1="40.80" y1="292.1" x2="40.80" y2="293.6" stroke="#555" stroke-width="0.6"/>
<text x="40.8" y="301.90000000000003" font-size="8.6" text-anchor="middle" fill="#222" >0</text>
<line x1="71.22" y1="292.1" x2="71.22" y2="293.6" stroke="#555" stroke-width="0.6"/>
<text x="71.225" y="301.90000000000003" font-size="8.6" text-anchor="middle" fill="#222" >50</text>
<line x1="101.65" y1="292.1" x2="101.65" y2="293.6" stroke="#555" stroke-width="0.6"/>
<text x="101.65" y="301.90000000000003" font-size="8.6" text-anchor="middle" fill="#222" >100</text>
<line x1="132.07" y1="292.1" x2="132.07" y2="293.6" stroke="#555" stroke-width="0.6"/>
<text x="132.075" y="301.90000000000003" font-size="8.6" text-anchor="middle" fill="#222" >150</text>
<line x1="162.50" y1="292.1" x2="162.50" y2="293.6" stroke="#555" stroke-width="0.6"/>
<text x="162.5" y="301.90000000000003" font-size="8.6" text-anchor="middle" fill="#222" >200</text>
<text x="110.9" y="315.3" font-size="8.9" text-anchor="middle" fill="#222" >OS Time (Months)</text>
<text transform="translate(13.4,233.8) rotate(-90)" font-size="8.9" text-anchor="middle" fill="#222">Survival Rate</text>
<path d="M40.8,237.1 H133.2 V292.1" fill="none" stroke="#555" stroke-width="0.6" stroke-dasharray="1.2,1.2"/>
<path d="M40.80,187.10 H47.49 V190.40 H60.27 V192.20 H75.79 V194.30 H91.31 V198.10 H93.01 V202.00 H105.30 V205.30 H141.81 V217.50 H167.37 V217.50" fill="none" stroke="#3347d8" stroke-width="1.15"/>
<path d="M40.80,187.10 H47.49 V189.60 H68.12 V193.50 H70.01 V200.20 H78.41 V203.80 H84.79 V207.90 H88.69 V211.80 H90.51 V216.10 H125.99 V226.40 H133.17 V241.30 H140.90 V256.70 H166.76 V256.70" fill="none" stroke="#dc4a2a" stroke-width="1.15"/>
<line x1="49.93" y1="189.20" x2="49.93" y2="191.60" stroke="#3347d8" stroke-width="0.5"/>
<line x1="52.97" y1="189.20" x2="52.97" y2="191.60" stroke="#3347d8" stroke-width="0.5"/>
<line x1="55.40" y1="189.20" x2="55.40" y2="191.60" stroke="#3347d8" stroke-width="0.5"/>
<line x1="57.84" y1="189.20" x2="57.84" y2="191.60" stroke="#3347d8" stroke-width="0.5"/>
<line x1="63.92" y1="191.00" x2="63.92" y2="193.40" stroke="#3347d8" stroke-width="0.5"/>
<line x1="78.53" y1="193.10" x2="78.53" y2="195.50" stroke="#3347d8" stroke-width="0.5"/>
<line x1="82.18" y1="193.10" x2="82.18" y2="195.50" stroke="#3347d8" stroke-width="0.5"/>
<line x1="87.05" y1="193.10" x2="87.05" y2="195.50" stroke="#3347d8" stroke-width="0.5"/>
<line x1="95.56" y1="200.80" x2="95.56" y2="203.20" stroke="#3347d8" stroke-width="0.5"/>
<line x1="99.22" y1="200.80" x2="99.22" y2="203.20" stroke="#3347d8" stroke-width="0.5"/>
<line x1="116.86" y1="204.10" x2="116.86" y2="206.50" stroke="#3347d8" stroke-width="0.5"/>
<line x1="119.91" y1="204.10" x2="119.91" y2="206.50" stroke="#3347d8" stroke-width="0.5"/>
<line x1="122.95" y1="204.10" x2="122.95" y2="206.50" stroke="#3347d8" stroke-width="0.5"/>
<line x1="127.21" y1="204.10" x2="127.21" y2="206.50" stroke="#3347d8" stroke-width="0.5"/>
<line x1="144.25" y1="216.30" x2="144.25" y2="218.70" stroke="#3347d8" stroke-width="0.5"/>
<line x1="147.90" y1="216.30" x2="147.90" y2="218.70" stroke="#3347d8" stroke-width="0.5"/>
<line x1="151.55" y1="216.30" x2="151.55" y2="218.70" stroke="#3347d8" stroke-width="0.5"/>
<line x1="155.20" y1="216.30" x2="155.20" y2="218.70" stroke="#3347d8" stroke-width="0.5"/>
<line x1="159.46" y1="216.30" x2="159.46" y2="218.70" stroke="#3347d8" stroke-width="0.5"/>
<line x1="164.33" y1="216.30" x2="164.33" y2="218.70" stroke="#3347d8" stroke-width="0.5"/>
<line x1="49.93" y1="188.40" x2="49.93" y2="190.80" stroke="#dc4a2a" stroke-width="0.5"/>
<line x1="52.97" y1="188.40" x2="52.97" y2="190.80" stroke="#dc4a2a" stroke-width="0.5"/>
<line x1="55.40" y1="188.40" x2="55.40" y2="190.80" stroke="#dc4a2a" stroke-width="0.5"/>
<line x1="57.84" y1="188.40" x2="57.84" y2="190.80" stroke="#dc4a2a" stroke-width="0.5"/>
<line x1="62.71" y1="188.40" x2="62.71" y2="190.80" stroke="#dc4a2a" stroke-width="0.5"/>
<line x1="65.14" y1="188.40" x2="65.14" y2="190.80" stroke="#dc4a2a" stroke-width="0.5"/>
<line x1="113.82" y1="214.90" x2="113.82" y2="217.30" stroke="#dc4a2a" stroke-width="0.5"/>
<line x1="116.86" y1="214.90" x2="116.86" y2="217.30" stroke="#dc4a2a" stroke-width="0.5"/>
<line x1="119.91" y1="214.90" x2="119.91" y2="217.30" stroke="#dc4a2a" stroke-width="0.5"/>
<rect x="133.9" y="185.5" width="12.799999999999983" height="26.0" fill="#ebebeb"/>
<line x1="135.20000000000002" y1="192.2" x2="145.7" y2="192.2" stroke="#2c3ee6" stroke-width="1.4"/>
<line x1="140.3" y1="190.0" x2="140.3" y2="194.39999999999998" stroke="#2c3ee6" stroke-width="0.7"/>
<text x="150" y="194.7" font-size="7.6" text-anchor="start" fill="#222" >Low (50)</text>
<line x1="135.20000000000002" y1="205" x2="145.7" y2="205" stroke="#e0421c" stroke-width="1.4"/>
<line x1="140.3" y1="202.8" x2="140.3" y2="207.2" stroke="#e0421c" stroke-width="0.7"/>
<text x="150" y="207.5" font-size="7.6" text-anchor="start" fill="#222" >High (50)</text>
<text x="41.1" y="254.2" font-size="8.7" text-anchor="start" fill="#111" font-weight="bold" font-style="italic">SLC7A11</text>
<text x="42" y="266.3" font-size="6.4" text-anchor="start" fill="#333" font-family="'Liberation Sans', sans-serif" letter-spacing="0.08">p = 4.84e-02</text>
<text x="42" y="275.0" font-size="6.4" text-anchor="start" fill="#333" font-family="'Liberation Sans', sans-serif" letter-spacing="0.08">HR:2.27e+00</text>
<text x="42" y="283.7" font-size="6.4" text-anchor="start" fill="#333" font-family="'Liberation Sans', sans-serif" letter-spacing="0.08">95%CI:9.11e-01 ~ 5.65e+00</text>
<text x="1.5" y="181" font-size="10" text-anchor="start" fill="#111" >D</text>
<path d="M207.5,188.4 V292.9 H336.6" fill="none" stroke="#555" stroke-width="0.8"/>
<line x1="206.0" y1="193.50" x2="207.5" y2="193.50" stroke="#555" stroke-width="0.6"/>
<text x="204.7" y="196.5" font-size="8.6" text-anchor="end" fill="#222" >1.00</text>
<line x1="206.0" y1="218.35" x2="207.5" y2="218.35" stroke="#555" stroke-width="0.6"/>
<text x="204.7" y="221.35" font-size="8.6" text-anchor="end" fill="#222" >0.75</text>
<line x1="206.0" y1="243.20" x2="207.5" y2="243.20" stroke="#555" stroke-width="0.6"/>
<text x="204.7" y="246.2" font-size="8.6" text-anchor="end" fill="#222" >0.50</text>
<line x1="206.0" y1="268.05" x2="207.5" y2="268.05" stroke="#555" stroke-width="0.6"/>
<text x="204.7" y="271.04999999999995" font-size="8.6" text-anchor="end" fill="#222" >0.25</text>
<line x1="206.0" y1="292.90" x2="207.5" y2="292.90" stroke="#555" stroke-width="0.6"/>
<text x="204.7" y="295.9" font-size="8.6" text-anchor="end" fill="#222" >0.00</text>
<line x1="213.50" y1="292.9" x2="213.50" y2="294.4" stroke="#555" stroke-width="0.6"/>
<text x="213.5" y="302.7" font-size="8.6" text-anchor="middle" fill="#222" >0</text>
<line x1="242.54" y1="292.9" x2="242.54" y2="294.4" stroke="#555" stroke-width="0.6"/>
<text x="242.54" y="302.7" font-size="8.6" text-anchor="middle" fill="#222" >30</text>
<line x1="271.58" y1="292.9" x2="271.58" y2="294.4" stroke="#555" stroke-width="0.6"/>
<text x="271.58" y="302.7" font-size="8.6" text-anchor="middle" fill="#222" >60</text>
<line x1="300.62" y1="292.9" x2="300.62" y2="294.4" stroke="#555" stroke-width="0.6"/>
<text x="300.62" y="302.7" font-size="8.6" text-anchor="middle" fill="#222" >90</text>
<line x1="329.66" y1="292.9" x2="329.66" y2="294.4" stroke="#555" stroke-width="0.6"/>
<text x="329.65999999999997" y="302.7" font-size="8.6" text-anchor="middle" fill="#222" >120</text>
<text x="274.6" y="315.5" font-size="8.9" text-anchor="middle" fill="#222" >RFS Time (Months)</text>
<text transform="translate(187.5,238.6) rotate(-90)" font-size="8.9" text-anchor="middle" fill="#222">Survival Rate</text>
<path d="M213.5,241.6 H285.7 V260" fill="none" stroke="#555" stroke-width="0.6" stroke-dasharray="1.2,1.2"/>
<path d="M213.50,193.50 H214.47 V194.49 H216.40 V195.49 H218.34 V196.48 H220.28 V197.48 H222.21 V198.47 H224.15 V199.46 H226.08 V200.46 H228.02 V202.45 H230.92 V204.43 H232.86 V205.93 H236.73 V207.42 H239.64 V208.41 H243.51 V209.40 H247.38 V210.40 H252.22 V211.89 H258.03 V213.88 H287.46 V213.88" fill="none" stroke="#4a68cf" stroke-width="1.0"/>
<path d="M213.50,193.50 H214.47 V195.49 H215.44 V197.48 H217.37 V199.46 H219.31 V201.45 H221.24 V203.44 H223.18 V205.43 H225.12 V207.42 H226.57 V210.40 H227.83 V213.38 H229.96 V215.37 H231.89 V216.36 H234.80 V217.85 H237.70 V218.85 H240.60 V220.04 H243.51 V221.33 H247.09 V223.32 H250.96 V226.40 H255.12 V228.29 H259.96 V230.28 H266.74 V233.26 H271.48 V236.74 H285.71 V243.90 H328.89 V243.90" fill="none" stroke="#d0503e" stroke-width="1.0"/>
<line x1="215.44" y1="193.29" x2="215.44" y2="195.69" stroke="#4a68cf" stroke-width="0.5"/>
<line x1="217.37" y1="194.29" x2="217.37" y2="196.69" stroke="#4a68cf" stroke-width="0.5"/>
<line x1="221.24" y1="196.28" x2="221.24" y2="198.68" stroke="#4a68cf" stroke-width="0.5"/>
<line x1="225.12" y1="198.26" x2="225.12" y2="200.66" stroke="#4a68cf" stroke-width="0.5"/>
<line x1="228.99" y1="201.25" x2="228.99" y2="203.65" stroke="#4a68cf" stroke-width="0.5"/>
<line x1="233.83" y1="204.73" x2="233.83" y2="207.12" stroke="#4a68cf" stroke-width="0.5"/>
<line x1="238.67" y1="206.22" x2="238.67" y2="208.62" stroke="#4a68cf" stroke-width="0.5"/>
<line x1="241.57" y1="207.21" x2="241.57" y2="209.61" stroke="#4a68cf" stroke-width="0.5"/>
<line x1="245.44" y1="208.20" x2="245.44" y2="210.60" stroke="#4a68cf" stroke-width="0.5"/>
<line x1="249.32" y1="209.20" x2="249.32" y2="211.60" stroke="#4a68cf" stroke-width="0.5"/>
<line x1="254.16" y1="210.69" x2="254.16" y2="213.09" stroke="#4a68cf" stroke-width="0.5"/>
<line x1="256.09" y1="210.69" x2="256.09" y2="213.09" stroke="#4a68cf" stroke-width="0.5"/>
<line x1="261.90" y1="212.68" x2="261.90" y2="215.08" stroke="#4a68cf" stroke-width="0.5"/>
<line x1="266.74" y1="212.68" x2="266.74" y2="215.08" stroke="#4a68cf" stroke-width="0.5"/>
<line x1="271.58" y1="212.68" x2="271.58" y2="215.08" stroke="#4a68cf" stroke-width="0.5"/>
<line x1="276.42" y1="212.68" x2="276.42" y2="215.08" stroke="#4a68cf" stroke-width="0.5"/>
<line x1="281.26" y1="212.68" x2="281.26" y2="215.08" stroke="#4a68cf" stroke-width="0.5"/>
<line x1="286.10" y1="212.68" x2="286.10" y2="215.08" stroke="#4a68cf" stroke-width="0.5"/>
<line x1="218.34" y1="198.26" x2="218.34" y2="200.66" stroke="#d0503e" stroke-width="0.5"/>
<line x1="222.21" y1="202.24" x2="222.21" y2="204.64" stroke="#d0503e" stroke-width="0.5"/>
<line x1="228.99" y1="212.18" x2="228.99" y2="214.58" stroke="#d0503e" stroke-width="0.5"/>
<line x1="232.86" y1="215.16" x2="232.86" y2="217.56" stroke="#d0503e" stroke-width="0.5"/>
<line x1="235.76" y1="216.65" x2="235.76" y2="219.05" stroke="#d0503e" stroke-width="0.5"/>
<line x1="239.64" y1="217.65" x2="239.64" y2="220.05" stroke="#d0503e" stroke-width="0.5"/>
<line x1="242.54" y1="218.84" x2="242.54" y2="221.24" stroke="#d0503e" stroke-width="0.5"/>
<line x1="245.44" y1="220.13" x2="245.44" y2="222.53" stroke="#d0503e" stroke-width="0.5"/>
<line x1="253.19" y1="225.20" x2="253.19" y2="227.60" stroke="#d0503e" stroke-width="0.5"/>
<line x1="257.06" y1="227.09" x2="257.06" y2="229.49" stroke="#d0503e" stroke-width="0.5"/>
<line x1="263.84" y1="229.08" x2="263.84" y2="231.48" stroke="#d0503e" stroke-width="0.5"/>
<line x1="268.68" y1="232.06" x2="268.68" y2="234.46" stroke="#d0503e" stroke-width="0.5"/>
<line x1="276.42" y1="235.54" x2="276.42" y2="237.94" stroke="#d0503e" stroke-width="0.5"/>
<line x1="281.26" y1="235.54" x2="281.26" y2="237.94" stroke="#d0503e" stroke-width="0.5"/>
<line x1="290.94" y1="242.70" x2="290.94" y2="245.10" stroke="#d0503e" stroke-width="0.5"/>
<line x1="305.46" y1="242.70" x2="305.46" y2="245.10" stroke="#d0503e" stroke-width="0.5"/>
<line x1="315.14" y1="242.70" x2="315.14" y2="245.10" stroke="#d0503e" stroke-width="0.5"/>
<line x1="324.82" y1="242.70" x2="324.82" y2="245.10" stroke="#d0503e" stroke-width="0.5"/>
<rect x="294.2" y="192.5" width="12.0" height="25.69999999999999" fill="#ebebeb"/>
<line x1="295.5" y1="199.4" x2="305.2" y2="199.4" stroke="#2c3ee6" stroke-width="1.4"/>
<line x1="300.2" y1="197.20000000000002" x2="300.2" y2="201.6" stroke="#2c3ee6" stroke-width="0.7"/>
<text x="308.3" y="201.9" font-size="7.6" text-anchor="start" fill="#222" >Low (81)</text>
<line x1="295.5" y1="211.8" x2="305.2" y2="211.8" stroke="#e0421c" stroke-width="1.4"/>
<line x1="300.2" y1="209.60000000000002" x2="300.2" y2="214.0" stroke="#e0421c" stroke-width="0.7"/>
<text x="308.3" y="214.3" font-size="7.6" text-anchor="start" fill="#222" >High (80)</text>
<text x="216.1" y="257.7" font-size="8.5" text-anchor="start" fill="#111" font-weight="bold" font-style="italic">SLC7A11</text>
<text x="213" y="269.3" font-size="5.5" text-anchor="start" fill="#333" font-family="'Liberation Sans', sans-serif" letter-spacing="0.08">p = 1.42e-02</text>
<text x="213" y="276.7" font-size="5.5" text-anchor="start" fill="#333" font-family="'Liberation Sans', sans-serif" letter-spacing="0.08">HR:2.18e+00</text>
<text x="213" y="284.1" font-size="5.5" text-anchor="start" fill="#333" font-family="'Liberation Sans', sans-serif" letter-spacing="0.08">95%CI:1.18e+00 ~ 4.03e+00</text>
<text x="176.5" y="180.4" font-size="10" text-anchor="start" fill="#111" >E</text>
<path d="M378,193.5 V293.8 H501.4" fill="none" stroke="#555" stroke-width="0.8"/>
<line x1="376.5" y1="197.60" x2="378" y2="197.60" stroke="#555" stroke-width="0.6"/>
<text x="374.7" y="200.6" font-size="8.6" text-anchor="end" fill="#222" >1.00</text>
<line x1="376.5" y1="220.75" x2="378" y2="220.75" stroke="#555" stroke-width="0.6"/>
<text x="374.7" y="223.75" font-size="8.6" text-anchor="end" fill="#222" >0.75</text>
<line x1="376.5" y1="243.90" x2="378" y2="243.90" stroke="#555" stroke-width="0.6"/>
<text x="374.7" y="246.89999999999998" font-size="8.6" text-anchor="end" fill="#222" >0.50</text>
<line x1="376.5" y1="267.05" x2="378" y2="267.05" stroke="#555" stroke-width="0.6"/>
<text x="374.7" y="270.05" font-size="8.6" text-anchor="end" fill="#222" >0.25</text>
<line x1="376.5" y1="290.20" x2="378" y2="290.20" stroke="#555" stroke-width="0.6"/>
<text x="374.7" y="293.2" font-size="8.6" text-anchor="end" fill="#222" >0.00</text>
<line x1="382.40" y1="293.8" x2="382.40" y2="295.3" stroke="#555" stroke-width="0.6"/>
<text x="382.4" y="303.6" font-size="8.6" text-anchor="middle" fill="#222" >0</text>
<line x1="410.67" y1="293.8" x2="410.67" y2="295.3" stroke="#555" stroke-width="0.6"/>
<text x="410.67499999999995" y="303.6" font-size="8.6" text-anchor="middle" fill="#222" >50</text>
<line x1="438.95" y1="293.8" x2="438.95" y2="295.3" stroke="#555" stroke-width="0.6"/>
<text x="438.95" y="303.6" font-size="8.6" text-anchor="middle" fill="#222" >100</text>
<line x1="467.22" y1="293.8" x2="467.22" y2="295.3" stroke="#555" stroke-width="0.6"/>
<text x="467.22499999999997" y="303.6" font-size="8.6" text-anchor="middle" fill="#222" >150</text>
<line x1="495.50" y1="293.8" x2="495.50" y2="295.3" stroke="#555" stroke-width="0.6"/>
<text x="495.5" y="303.6" font-size="8.6" text-anchor="middle" fill="#222" >200</text>
<text x="442.4" y="316" font-size="8.9" text-anchor="middle" fill="#222" >OS Time (Months)</text>
<text transform="translate(354.9,246.4) rotate(-90)" font-size="8.9" text-anchor="middle" fill="#222">Survival Rate</text>
<path d="M382.40,197.60 H391.45 V198.53 H396.54 V199.45 H400.50 V200.38 H405.02 V201.30 H410.67 V202.23 H414.63 V203.16 H417.46 V205.01 H419.72 V206.86 H421.98 V208.71 H424.25 V210.10 H427.64 V211.03 H433.29 V211.95 H437.82 V213.34 H441.21 V215.19 H444.60 V217.05 H447.43 V218.71 H479.10 V218.71 H479.67 V228.53 H501.15 V228.53" fill="none" stroke="#4a68cf" stroke-width="1.0"/>
<path d="M382.40,197.60 H388.62 V198.53 H390.88 V199.45 H393.14 V200.84 H395.41 V202.23 H397.67 V204.08 H399.36 V205.93 H401.63 V208.71 H403.89 V211.49 H406.72 V215.19 H409.54 V217.05 H412.94 V218.90 H416.90 V221.21 H421.98 V223.06 H429.90 V225.10 H436.12 V226.31 H441.78 V227.23 H448.00 V227.69 H453.09 V229.08 H458.18 V231.58 H461.57 V233.71 H466.09 V237.97 H501.15 V237.97" fill="none" stroke="#d0503e" stroke-width="1.0"/>
<line x1="393.71" y1="197.33" x2="393.71" y2="199.73" stroke="#4a68cf" stroke-width="0.5"/>
<line x1="402.19" y1="199.18" x2="402.19" y2="201.58" stroke="#4a68cf" stroke-width="0.5"/>
<line x1="407.85" y1="200.10" x2="407.85" y2="202.50" stroke="#4a68cf" stroke-width="0.5"/>
<line x1="416.33" y1="201.96" x2="416.33" y2="204.36" stroke="#4a68cf" stroke-width="0.5"/>
<line x1="426.51" y1="208.90" x2="426.51" y2="211.30" stroke="#4a68cf" stroke-width="0.5"/>
<line x1="430.47" y1="209.83" x2="430.47" y2="212.23" stroke="#4a68cf" stroke-width="0.5"/>
<line x1="436.12" y1="210.75" x2="436.12" y2="213.15" stroke="#4a68cf" stroke-width="0.5"/>
<line x1="450.26" y1="217.51" x2="450.26" y2="219.91" stroke="#4a68cf" stroke-width="0.5"/>
<line x1="453.09" y1="217.51" x2="453.09" y2="219.91" stroke="#4a68cf" stroke-width="0.5"/>
<line x1="455.91" y1="217.51" x2="455.91" y2="219.91" stroke="#4a68cf" stroke-width="0.5"/>
<line x1="461.57" y1="217.51" x2="461.57" y2="219.91" stroke="#4a68cf" stroke-width="0.5"/>
<line x1="464.40" y1="217.51" x2="464.40" y2="219.91" stroke="#4a68cf" stroke-width="0.5"/>
<line x1="467.22" y1="217.51" x2="467.22" y2="219.91" stroke="#4a68cf" stroke-width="0.5"/>
<line x1="472.88" y1="217.51" x2="472.88" y2="219.91" stroke="#4a68cf" stroke-width="0.5"/>
<line x1="481.36" y1="227.33" x2="481.36" y2="229.73" stroke="#4a68cf" stroke-width="0.5"/>
<line x1="484.19" y1="227.33" x2="484.19" y2="229.73" stroke="#4a68cf" stroke-width="0.5"/>
<line x1="489.84" y1="227.33" x2="489.84" y2="229.73" stroke="#4a68cf" stroke-width="0.5"/>
<line x1="495.50" y1="227.33" x2="495.50" y2="229.73" stroke="#4a68cf" stroke-width="0.5"/>
<line x1="393.71" y1="199.64" x2="393.71" y2="202.04" stroke="#d0503e" stroke-width="0.5"/>
<line x1="405.02" y1="210.29" x2="405.02" y2="212.69" stroke="#d0503e" stroke-width="0.5"/>
<line x1="410.67" y1="215.85" x2="410.67" y2="218.25" stroke="#d0503e" stroke-width="0.5"/>
<line x1="415.20" y1="217.70" x2="415.20" y2="220.10" stroke="#d0503e" stroke-width="0.5"/>
<line x1="419.16" y1="220.01" x2="419.16" y2="222.41" stroke="#d0503e" stroke-width="0.5"/>
<line x1="424.81" y1="221.87" x2="424.81" y2="224.26" stroke="#d0503e" stroke-width="0.5"/>
<line x1="427.64" y1="221.87" x2="427.64" y2="224.26" stroke="#d0503e" stroke-width="0.5"/>
<line x1="433.29" y1="223.90" x2="433.29" y2="226.30" stroke="#d0503e" stroke-width="0.5"/>
<line x1="438.95" y1="225.11" x2="438.95" y2="227.51" stroke="#d0503e" stroke-width="0.5"/>
<line x1="444.60" y1="226.03" x2="444.60" y2="228.43" stroke="#d0503e" stroke-width="0.5"/>
<line x1="450.26" y1="226.50" x2="450.26" y2="228.89" stroke="#d0503e" stroke-width="0.5"/>
<line x1="455.91" y1="227.88" x2="455.91" y2="230.28" stroke="#d0503e" stroke-width="0.5"/>
<line x1="470.05" y1="236.77" x2="470.05" y2="239.17" stroke="#d0503e" stroke-width="0.5"/>
<line x1="475.71" y1="236.77" x2="475.71" y2="239.17" stroke="#d0503e" stroke-width="0.5"/>
<line x1="481.36" y1="236.77" x2="481.36" y2="239.17" stroke="#d0503e" stroke-width="0.5"/>
<line x1="487.02" y1="236.77" x2="487.02" y2="239.17" stroke="#d0503e" stroke-width="0.5"/>
<line x1="492.67" y1="236.77" x2="492.67" y2="239.17" stroke="#d0503e" stroke-width="0.5"/>
<line x1="498.33" y1="236.77" x2="498.33" y2="239.17" stroke="#d0503e" stroke-width="0.5"/>
<rect x="465.2" y="196.9" width="12.800000000000011" height="26.400000000000006" fill="#ebebeb"/>
<line x1="466.5" y1="203.3" x2="477" y2="203.3" stroke="#2c3ee6" stroke-width="1.4"/>
<line x1="471.6" y1="201.10000000000002" x2="471.6" y2="205.5" stroke="#2c3ee6" stroke-width="0.7"/>
<text x="479.6" y="205.8" font-size="7.7" text-anchor="start" fill="#222" >Low (148)</text>
<line x1="466.5" y1="216.1" x2="477" y2="216.1" stroke="#e0421c" stroke-width="1.4"/>
<line x1="471.6" y1="213.9" x2="471.6" y2="218.29999999999998" stroke="#e0421c" stroke-width="0.7"/>
<text x="479.6" y="218.6" font-size="7.7" text-anchor="start" fill="#222" >High (147)</text>
<text x="384.2" y="253.4" font-size="8.8" text-anchor="start" fill="#111" font-weight="bold" font-style="italic">SLC3A2</text>
<text x="383.7" y="265.2" font-size="6.45" text-anchor="start" fill="#333" font-family="'Liberation Sans', sans-serif" letter-spacing="0.08">p = 2.85e-03</text>
<text x="383.7" y="274.2" font-size="6.45" text-anchor="start" fill="#333" font-family="'Liberation Sans', sans-serif" letter-spacing="0.08">HR: 1.98e+00</text>
<text x="383.7" y="283.2" font-size="6.45" text-anchor="start" fill="#333" font-family="'Liberation Sans', sans-serif" letter-spacing="0.08">95%CI: 1.27e+00 ~ 3.08e+00</text>
<text x="346.5" y="180.4" font-size="10" text-anchor="start" fill="#111" >F</text>
<path d="M544.2,195.5 V295.3 H667.3" fill="none" stroke="#555" stroke-width="0.8"/>
<line x1="542.7" y1="199.40" x2="544.2" y2="199.40" stroke="#555" stroke-width="0.6"/>
<text x="542.1" y="202.4" font-size="8.6" text-anchor="end" fill="#222" >1.00</text>
<line x1="542.7" y1="222.55" x2="544.2" y2="222.55" stroke="#555" stroke-width="0.6"/>
<text x="542.1" y="225.55" font-size="8.6" text-anchor="end" fill="#222" >0.75</text>
<line x1="542.7" y1="245.70" x2="544.2" y2="245.70" stroke="#555" stroke-width="0.6"/>
<text x="542.1" y="248.7" font-size="8.6" text-anchor="end" fill="#222" >0.50</text>
<line x1="542.7" y1="268.85" x2="544.2" y2="268.85" stroke="#555" stroke-width="0.6"/>
<text x="542.1" y="271.85" font-size="8.6" text-anchor="end" fill="#222" >0.25</text>
<line x1="542.7" y1="292.00" x2="544.2" y2="292.00" stroke="#555" stroke-width="0.6"/>
<text x="542.1" y="295.0" font-size="8.6" text-anchor="end" fill="#222" >0.00</text>
<line x1="549.80" y1="295.3" x2="549.80" y2="296.8" stroke="#555" stroke-width="0.6"/>
<text x="549.8" y="305.1" font-size="8.6" text-anchor="middle" fill="#222" >0</text>
<line x1="577.90" y1="295.3" x2="577.90" y2="296.8" stroke="#555" stroke-width="0.6"/>
<text x="577.9" y="305.1" font-size="8.6" text-anchor="middle" fill="#222" >20</text>
<line x1="606.00" y1="295.3" x2="606.00" y2="296.8" stroke="#555" stroke-width="0.6"/>
<text x="606.0" y="305.1" font-size="8.6" text-anchor="middle" fill="#222" >40</text>
<line x1="634.10" y1="295.3" x2="634.10" y2="296.8" stroke="#555" stroke-width="0.6"/>
<text x="634.0999999999999" y="305.1" font-size="8.6" text-anchor="middle" fill="#222" >60</text>
<line x1="662.20" y1="295.3" x2="662.20" y2="296.8" stroke="#555" stroke-width="0.6"/>
<text x="662.1999999999999" y="305.1" font-size="8.6" text-anchor="middle" fill="#222" >80</text>
<text x="605.3" y="315.5" font-size="8.9" text-anchor="middle" fill="#222" >RFS Time (Months)</text>
<text transform="translate(522.3,245) rotate(-90)" font-size="8.9" text-anchor="middle" fill="#222">Survival Rate</text>
<path d="M549.80,199.40 H551.20 V200.33 H554.01 V200.79 H556.82 V201.25 H561.04 V201.99 H563.85 V203.10 H566.66 V204.03 H569.47 V204.96 H571.72 V205.79 H575.09 V207.27 H577.90 V208.20 H580.71 V209.12 H584.22 V210.05 H587.03 V210.98 H590.54 V212.36 H593.35 V213.29 H596.16 V214.22 H598.69 V215.61 H606.00 V216.99 H612.74 V218.20 H667.26 V218.20" fill="none" stroke="#4a68cf" stroke-width="1.0"/>
<path d="M549.80,199.40 H552.61 V200.33 H556.82 V201.25 H561.46 V201.99 H563.15 V204.03 H565.25 V207.09 H568.06 V208.20 H570.88 V209.59 H573.68 V210.98 H576.78 V212.27 H579.30 V213.29 H582.12 V214.22 H587.03 V216.07 H589.14 V217.92 H591.95 V219.31 H594.76 V220.70 H597.43 V222.55 H600.38 V224.40 H603.19 V226.25 H607.69 V228.11 H643.65 V228.11 H643.79 V232.83 H667.26 V232.83" fill="none" stroke="#d0503e" stroke-width="1.0"/>
<line x1="555.42" y1="199.59" x2="555.42" y2="201.99" stroke="#4a68cf" stroke-width="0.5"/>
<line x1="559.63" y1="200.05" x2="559.63" y2="202.45" stroke="#4a68cf" stroke-width="0.5"/>
<line x1="565.25" y1="201.90" x2="565.25" y2="204.30" stroke="#4a68cf" stroke-width="0.5"/>
<line x1="573.68" y1="204.59" x2="573.68" y2="206.99" stroke="#4a68cf" stroke-width="0.5"/>
<line x1="579.30" y1="207.00" x2="579.30" y2="209.40" stroke="#4a68cf" stroke-width="0.5"/>
<line x1="584.92" y1="208.85" x2="584.92" y2="211.25" stroke="#4a68cf" stroke-width="0.5"/>
<line x1="589.14" y1="209.78" x2="589.14" y2="212.18" stroke="#4a68cf" stroke-width="0.5"/>
<line x1="594.76" y1="212.09" x2="594.76" y2="214.49" stroke="#4a68cf" stroke-width="0.5"/>
<line x1="601.78" y1="214.41" x2="601.78" y2="216.81" stroke="#4a68cf" stroke-width="0.5"/>
<line x1="608.81" y1="215.79" x2="608.81" y2="218.19" stroke="#4a68cf" stroke-width="0.5"/>
<line x1="615.83" y1="217.00" x2="615.83" y2="219.40" stroke="#4a68cf" stroke-width="0.5"/>
<line x1="620.05" y1="217.00" x2="620.05" y2="219.40" stroke="#4a68cf" stroke-width="0.5"/>
<line x1="624.26" y1="217.00" x2="624.26" y2="219.40" stroke="#4a68cf" stroke-width="0.5"/>
<line x1="628.48" y1="217.00" x2="628.48" y2="219.40" stroke="#4a68cf" stroke-width="0.5"/>
<line x1="634.10" y1="217.00" x2="634.10" y2="219.40" stroke="#4a68cf" stroke-width="0.5"/>
<line x1="648.15" y1="217.00" x2="648.15" y2="219.40" stroke="#4a68cf" stroke-width="0.5"/>
<line x1="652.37" y1="217.00" x2="652.37" y2="219.40" stroke="#4a68cf" stroke-width="0.5"/>
<line x1="656.58" y1="217.00" x2="656.58" y2="219.40" stroke="#4a68cf" stroke-width="0.5"/>
<line x1="660.79" y1="217.00" x2="660.79" y2="219.40" stroke="#4a68cf" stroke-width="0.5"/>
<line x1="665.01" y1="217.00" x2="665.01" y2="219.40" stroke="#4a68cf" stroke-width="0.5"/>
<line x1="555.42" y1="199.13" x2="555.42" y2="201.53" stroke="#d0503e" stroke-width="0.5"/>
<line x1="559.63" y1="200.05" x2="559.63" y2="202.45" stroke="#d0503e" stroke-width="0.5"/>
<line x1="566.66" y1="205.89" x2="566.66" y2="208.29" stroke="#d0503e" stroke-width="0.5"/>
<line x1="572.28" y1="208.39" x2="572.28" y2="210.79" stroke="#d0503e" stroke-width="0.5"/>
<line x1="577.90" y1="211.07" x2="577.90" y2="213.47" stroke="#d0503e" stroke-width="0.5"/>
<line x1="583.52" y1="213.02" x2="583.52" y2="215.42" stroke="#d0503e" stroke-width="0.5"/>
<line x1="590.54" y1="216.72" x2="590.54" y2="219.12" stroke="#d0503e" stroke-width="0.5"/>
<line x1="598.97" y1="221.35" x2="598.97" y2="223.75" stroke="#d0503e" stroke-width="0.5"/>
<line x1="604.59" y1="225.05" x2="604.59" y2="227.45" stroke="#d0503e" stroke-width="0.5"/>
<line x1="611.62" y1="226.91" x2="611.62" y2="229.31" stroke="#d0503e" stroke-width="0.5"/>
<line x1="615.83" y1="226.91" x2="615.83" y2="229.31" stroke="#d0503e" stroke-width="0.5"/>
<line x1="620.05" y1="226.91" x2="620.05" y2="229.31" stroke="#d0503e" stroke-width="0.5"/>
<line x1="624.26" y1="226.91" x2="624.26" y2="229.31" stroke="#d0503e" stroke-width="0.5"/>
<line x1="628.48" y1="226.91" x2="628.48" y2="229.31" stroke="#d0503e" stroke-width="0.5"/>
<line x1="632.69" y1="226.91" x2="632.69" y2="229.31" stroke="#d0503e" stroke-width="0.5"/>
<line x1="636.91" y1="226.91" x2="636.91" y2="229.31" stroke="#d0503e" stroke-width="0.5"/>
<line x1="641.12" y1="226.91" x2="641.12" y2="229.31" stroke="#d0503e" stroke-width="0.5"/>
<line x1="648.15" y1="231.63" x2="648.15" y2="234.03" stroke="#d0503e" stroke-width="0.5"/>
<line x1="653.77" y1="231.63" x2="653.77" y2="234.03" stroke="#d0503e" stroke-width="0.5"/>
<line x1="659.39" y1="231.63" x2="659.39" y2="234.03" stroke="#d0503e" stroke-width="0.5"/>
<line x1="665.01" y1="231.63" x2="665.01" y2="234.03" stroke="#d0503e" stroke-width="0.5"/>
<rect x="636" y="194.3" width="12.799999999999955" height="26.5" fill="#ebebeb"/>
<line x1="637.3" y1="200.2" x2="647.8" y2="200.2" stroke="#2c3ee6" stroke-width="1.4"/>
<line x1="642.4" y1="198.0" x2="642.4" y2="202.39999999999998" stroke="#2c3ee6" stroke-width="0.7"/>
<text x="650.6" y="202.7" font-size="7.55" text-anchor="start" fill="#222" >Low (155)</text>
<line x1="637.3" y1="213" x2="647.8" y2="213" stroke="#e0421c" stroke-width="1.4"/>
<line x1="642.4" y1="210.8" x2="642.4" y2="215.2" stroke="#e0421c" stroke-width="0.7"/>
<text x="650.6" y="215.5" font-size="7.55" text-anchor="start" fill="#222" >High (155)</text>
<text x="550.6" y="254.7" font-size="8.75" text-anchor="start" fill="#111" font-weight="bold" font-style="italic">SLC3A2</text>
<text x="550.6" y="267.6" font-size="6.0" text-anchor="start" fill="#333" font-family="'Liberation Sans', sans-serif" letter-spacing="0.08">p = 7.32e-02</text>
<text x="550.6" y="275.70000000000005" font-size="6.0" text-anchor="start" fill="#333" font-family="'Liberation Sans', sans-serif" letter-spacing="0.08">HR:1.56e+00</text>
<text x="550.6" y="283.8" font-size="6.0" text-anchor="start" fill="#333" font-family="'Liberation Sans', sans-serif" letter-spacing="0.08">95%CI:9.66e-01 ~ 2.53e+00</text>
<text x="518.4" y="180.4" font-size="10" text-anchor="start" fill="#111" >G</text>
<filter id="soft" x="-5%" y="-5%" width="110%" height="110%"><feGaussianBlur stdDeviation="0.9"/></filter>
<filter id="soft2" x="-5%" y="-5%" width="110%" height="110%"><feGaussianBlur stdDeviation="1.8"/></filter>
<filter id="soft05"><feGaussianBlur stdDeviation="0.35"/></filter>
<text x="14" y="347.9" font-size="9.6" text-anchor="start" fill="#111" >H</text>
<text x="76" y="356.3" font-size="8.8" text-anchor="middle" fill="#111" >benign</text>
<text x="173.5" y="356.3" font-size="8.8" text-anchor="middle" fill="#111" >malignant</text>
<clipPath id="ih1"><rect x="38.3" y="361.9" width="86.3" height="62.900000000000034"/></clipPath>
<g clip-path="url(#ih1)">
<rect x="38.3" y="361.9" width="86.3" height="62.900000000000034" fill="#d4d2d7"/>
<ellipse cx="41.2" cy="365.5" rx="3.8" ry="3.0" fill="#e2e1e4" opacity="0.95" stroke="#c4c2c9" stroke-width="0.4"/>
<ellipse cx="48.7" cy="365.6" rx="3.2" ry="3.0" fill="#e2e1e4" opacity="0.95" stroke="#c4c2c9" stroke-width="0.4"/>
<ellipse cx="56.4" cy="366.0" rx="3.2" ry="2.9" fill="#e2e1e4" opacity="0.95" stroke="#c4c2c9" stroke-width="0.4"/>
<ellipse cx="62.7" cy="366.0" rx="3.7" ry="2.7" fill="#e2e1e4" opacity="0.95" stroke="#c4c2c9" stroke-width="0.4"/>
<ellipse cx="71.9" cy="366.3" rx="3.6" ry="3.1" fill="#e2e1e4" opacity="0.95" stroke="#c4c2c9" stroke-width="0.4"/>
<ellipse cx="77.6" cy="364.4" rx="3.5" ry="2.7" fill="#e2e1e4" opacity="0.95" stroke="#c4c2c9" stroke-width="0.4"/>
<ellipse cx="85.1" cy="364.9" rx="3.1" ry="3.0" fill="#e2e1e4" opacity="0.95" stroke="#c4c2c9" stroke-width="0.4"/>
<ellipse cx="93.0" cy="366.1" rx="3.5" ry="3.1" fill="#e2e1e4" opacity="0.95" stroke="#c4c2c9" stroke-width="0.4"/>
<ellipse cx="100.5" cy="365.7" rx="3.5" ry="2.9" fill="#e2e1e4" opacity="0.95" stroke="#c4c2c9" stroke-width="0.4"/>
<ellipse cx="108.9" cy="366.4" rx="3.8" ry="3.1" fill="#e2e1e4" opacity="0.95" stroke="#c4c2c9" stroke-width="0.4"/>
<ellipse cx="114.9" cy="364.9" rx="3.3" ry="2.7" fill="#e2e1e4" opacity="0.95" stroke="#c4c2c9" stroke-width="0.4"/>
<ellipse cx="123.2" cy="365.2" rx="3.8" ry="2.9" fill="#e2e1e4" opacity="0.95" stroke="#c4c2c9" stroke-width="0.4"/>
<ellipse cx="45.7" cy="372.3" rx="3.1" ry="2.8" fill="#e2e1e4" opacity="0.95" stroke="#c4c2c9" stroke-width="0.4"/>
<ellipse cx="53.0" cy="371.5" rx="3.9" ry="2.9" fill="#e2e1e4" opacity="0.95" stroke="#c4c2c9" stroke-width="0.4"/>
<ellipse cx="58.7" cy="371.9" rx="3.7" ry="2.9" fill="#e2e1e4" opacity="0.95" stroke="#c4c2c9" stroke-width="0.4"/>
<ellipse cx="66.2" cy="371.3" rx="3.9" ry="3.2" fill="#e2e1e4" opacity="0.95" stroke="#c4c2c9" stroke-width="0.4"/>
<ellipse cx="73.6" cy="371.1" rx="3.2" ry="2.7" fill="#e2e1e4" opacity="0.95" stroke="#c4c2c9" stroke-width="0.4"/>
<ellipse cx="82.4" cy="371.0" rx="3.5" ry="3.0" fill="#e2e1e4" opacity="0.95" stroke="#c4c2c9" stroke-width="0.4"/>
<ellipse cx="88.6" cy="372.1" rx="3.2" ry="3.1" fill="#e2e1e4" opacity="0.95" stroke="#c4c2c9" stroke-width="0.4"/>
<ellipse cx="95.8" cy="371.4" rx="3.3" ry="2.9" fill="#e2e1e4" opacity="0.95" stroke="#c4c2c9" stroke-width="0.4"/>
<ellipse cx="104.9" cy="372.2" rx="3.3" ry="3.2" fill="#e2e1e4" opacity="0.95" stroke="#c4c2c9" stroke-width="0.4"/>
<ellipse cx="110.8" cy="371.4" rx="3.8" ry="3.1" fill="#e2e1e4" opacity="0.95" stroke="#c4c2c9" stroke-width="0.4"/>
<ellipse cx="118.0" cy="372.6" rx="3.3" ry="2.9" fill="#e2e1e4" opacity="0.95" stroke="#c4c2c9" stroke-width="0.4"/>
<ellipse cx="126.7" cy="371.3" rx="3.3" ry="2.7" fill="#e2e1e4" opacity="0.95" stroke="#c4c2c9" stroke-width="0.4"/>
<ellipse cx="40.5" cy="378.0" rx="3.3" ry="3.1" fill="#e2e1e4" opacity="0.95" stroke="#c4c2c9" stroke-width="0.4"/>
<ellipse cx="48.4" cy="377.7" rx="3.9" ry="3.0" fill="#e2e1e4" opacity="0.95" stroke="#c4c2c9" stroke-width="0.4"/>
<ellipse cx="56.2" cy="378.5" rx="3.2" ry="2.8" fill="#e2e1e4" opacity="0.95" stroke="#c4c2c9" stroke-width="0.4"/>
<ellipse cx="64.3" cy="378.4" rx="3.3" ry="2.8" fill="#e2e1e4" opacity="0.95" stroke="#c4c2c9" stroke-width="0.4"/>
<ellipse cx="71.4" cy="378.7" rx="3.3" ry="3.3" fill="#e2e1e4" opacity="0.95" stroke="#c4c2c9" stroke-width="0.4"/>
<ellipse cx="79.1" cy="378.0" rx="3.4" ry="2.8" fill="#e2e1e4" opacity="0.95" stroke="#c4c2c9" stroke-width="0.4"/>
<ellipse cx="84.8" cy="378.7" rx="3.3" ry="3.1" fill="#e2e1e4" opacity="0.95" stroke="#c4c2c9" stroke-width="0.4"/>
<ellipse cx="92.6" cy="378.4" rx="3.6" ry="2.9" fill="#e2e1e4" opacity="0.95" stroke="#c4c2c9" stroke-width="0.4"/>
<ellipse cx="99.9" cy="378.2" rx="3.2" ry="2.8" fill="#e2e1e4" opacity="0.95" stroke="#c4c2c9" stroke-width="0.4"/>
<ellipse cx="108.0" cy="378.5" rx="3.6" ry="2.9" fill="#e2e1e4" opacity="0.95" stroke="#c4c2c9" stroke-width="0.4"/>
<ellipse cx="116.1" cy="377.2" rx="3.1" ry="2.9" fill="#e2e1e4" opacity="0.95" stroke="#c4c2c9" stroke-width="0.4"/>
<ellipse cx="122.6" cy="376.9" rx="3.2" ry="2.9" fill="#e2e1e4" opacity="0.95" stroke="#c4c2c9" stroke-width="0.4"/>
<ellipse cx="44.9" cy="383.3" rx="3.4" ry="3.2" fill="#e2e1e4" opacity="0.95" stroke="#c4c2c9" stroke-width="0.4"/>
<ellipse cx="53.2" cy="384.3" rx="3.7" ry="3.1" fill="#e2e1e4" opacity="0.95" stroke="#c4c2c9" stroke-width="0.4"/>
<ellipse cx="58.9" cy="383.1" rx="3.1" ry="3.2" fill="#e2e1e4" opacity="0.95" stroke="#c4c2c9" stroke-width="0.4"/>
<ellipse cx="67.4" cy="384.9" rx="3.1" ry="3.1" fill="#e2e1e4" opacity="0.95" stroke="#c4c2c9" stroke-width="0.4"/>
<ellipse cx="97.1" cy="384.8" rx="3.7" ry="3.1" fill="#e2e1e4" opacity="0.95" stroke="#c4c2c9" stroke-width="0.4"/>
<ellipse cx="104.6" cy="384.8" rx="3.4" ry="3.1" fill="#e2e1e4" opacity="0.95" stroke="#c4c2c9" stroke-width="0.4"/>
<ellipse cx="112.2" cy="384.7" rx="3.4" ry="3.2" fill="#e2e1e4" opacity="0.95" stroke="#c4c2c9" stroke-width="0.4"/>
<ellipse cx="119.5" cy="384.1" rx="3.6" ry="2.9" fill="#e2e1e4" opacity="0.95" stroke="#c4c2c9" stroke-width="0.4"/>
<ellipse cx="126.4" cy="384.2" rx="3.2" ry="3.1" fill="#e2e1e4" opacity="0.95" stroke="#c4c2c9" stroke-width="0.4"/>
<ellipse cx="110.0" cy="392.0" rx="3.0" ry="2.6" fill="#dfdee2" opacity="0.8" stroke="#c6c4cb" stroke-width="0.35"/>
<ellipse cx="116.0" cy="386.0" rx="3.0" ry="2.6" fill="#dfdee2" opacity="0.8" stroke="#c6c4cb" stroke-width="0.35"/>
<ellipse cx="119.0" cy="397.0" rx="3.0" ry="2.6" fill="#dfdee2" opacity="0.8" stroke="#c6c4cb" stroke-width="0.35"/>
<ellipse cx="113.0" cy="402.0" rx="3.0" ry="2.6" fill="#dfdee2" opacity="0.8" stroke="#c6c4cb" stroke-width="0.35"/>
<ellipse cx="120.0" cy="408.0" rx="3.0" ry="2.6" fill="#dfdee2" opacity="0.8" stroke="#c6c4cb" stroke-width="0.35"/>
<ellipse cx="107.0" cy="383.0" rx="3.0" ry="2.6" fill="#dfdee2" opacity="0.8" stroke="#c6c4cb" stroke-width="0.35"/>
<ellipse cx="69.2" cy="391.9" rx="2.9" ry="2.3" fill="#e2e0e6" opacity="1" stroke="#958eb2" stroke-width="0.7"/>
<ellipse cx="65.0" cy="395.3" rx="2.6" ry="2.0" fill="#e2e0e6" opacity="1" stroke="#958eb2" stroke-width="0.7"/>
<ellipse cx="72.7" cy="394.7" rx="2.4" ry="1.8" fill="#e2e0e6" opacity="1" stroke="#958eb2" stroke-width="0.7"/>
<ellipse cx="63.0" cy="399.5" rx="2.6" ry="2.0" fill="#e2e0e6" opacity="1" stroke="#958eb2" stroke-width="0.7"/>
<ellipse cx="75.0" cy="399.0" rx="2.1" ry="1.5" fill="#e2e0e6" opacity="1" stroke="#958eb2" stroke-width="0.7"/>
<ellipse cx="92.7" cy="378.7" rx="3.6" ry="3.0" fill="#e2e0e6" opacity="1" stroke="#958eb2" stroke-width="0.7"/>
<ellipse cx="86.5" cy="381.5" rx="3.1" ry="2.5" fill="#e2e0e6" opacity="1" stroke="#958eb2" stroke-width="0.7"/>
<ellipse cx="98.2" cy="380.0" rx="2.6" ry="2.0" fill="#e2e0e6" opacity="1" stroke="#958eb2" stroke-width="0.7"/>
<ellipse cx="95.5" cy="394.0" rx="2.8" ry="2.2" fill="#e2e0e6" opacity="1" stroke="#958eb2" stroke-width="0.7"/>
<ellipse cx="101.0" cy="399.5" rx="3.2" ry="2.6" fill="#e2e0e6" opacity="1" stroke="#958eb2" stroke-width="0.7"/>
<ellipse cx="105.2" cy="400.9" rx="2.4" ry="1.8" fill="#e2e0e6" opacity="1" stroke="#958eb2" stroke-width="0.7"/>
<ellipse cx="98.2" cy="406.4" rx="3.0" ry="2.4" fill="#e2e0e6" opacity="1" stroke="#958eb2" stroke-width="0.7"/>
<ellipse cx="90.0" cy="389.8" rx="2.4" ry="1.8" fill="#e2e0e6" opacity="1" stroke="#958eb2" stroke-width="0.7"/>
<ellipse cx="88.0" cy="386.0" rx="2.1" ry="1.5" fill="#e2e0e6" opacity="1" stroke="#958eb2" stroke-width="0.7"/>
<ellipse cx="103.0" cy="387.0" rx="2.1" ry="1.5" fill="#e2e0e6" opacity="1" stroke="#958eb2" stroke-width="0.7"/>
<ellipse cx="55.4" cy="417.5" rx="2.6" ry="2.0" fill="#e2e0e6" opacity="1" stroke="#958eb2" stroke-width="0.7"/>
<ellipse cx="59.5" cy="421.6" rx="2.8" ry="2.2" fill="#e2e0e6" opacity="1" stroke="#958eb2" stroke-width="0.7"/>
<ellipse cx="54.7" cy="402.3" rx="2.4" ry="1.8" fill="#e2e0e6" opacity="1" stroke="#958eb2" stroke-width="0.7"/>
<ellipse cx="50.0" cy="420.0" rx="2.2" ry="1.6" fill="#e2e0e6" opacity="1" stroke="#958eb2" stroke-width="0.7"/>
<g fill="#9189bb" opacity="0.5"><circle cx="124.0" cy="417.2" r="0.40"/><circle cx="71.8" cy="408.1" r="0.37"/><circle cx="76.3" cy="414.6" r="0.27"/><circle cx="103.0" cy="363.8" r="0.37"/><circle cx="79.8" cy="376.4" r="0.39"/><circle cx="81.2" cy="400.6" r="0.43"/><circle cx="60.4" cy="362.6" r="0.31"/><circle cx="96.8" cy="374.6" r="0.28"/><circle cx="116.5" cy="403.4" r="0.34"/><circle cx="115.3" cy="382.5" r="0.38"/><circle cx="55.4" cy="389.0" r="0.41"/><circle cx="117.2" cy="417.3" r="0.33"/><circle cx="88.6" cy="381.8" r="0.28"/><circle cx="81.1" cy="414.6" r="0.42"/><circle cx="99.7" cy="421.7" r="0.31"/><circle cx="52.9" cy="390.2" r="0.31"/><circle cx="56.8" cy="387.9" r="0.38"/><circle cx="80.9" cy="381.7" r="0.42"/><circle cx="123.0" cy="390.4" r="0.26"/><circle cx="41.0" cy="416.8" r="0.26"/><circle cx="99.5" cy="397.8" r="0.31"/><circle cx="106.6" cy="363.1" r="0.28"/><circle cx="77.6" cy="363.5" r="0.42"/><circle cx="58.8" cy="370.8" r="0.26"/><circle cx="92.6" cy="390.0" r="0.38"/><circle cx="94.8" cy="412.7" r="0.44"/><circle cx="97.4" cy="374.4" r="0.35"/><circle cx="53.7" cy="362.6" r="0.34"/><circle cx="99.9" cy="373.2" r="0.30"/><circle cx="68.1" cy="405.8" r="0.35"/><circle cx="91.3" cy="409.5" r="0.33"/><circle cx="106.6" cy="418.9" r="0.27"/><circle cx="118.8" cy="407.3" r="0.28"/><circle cx="77.4" cy="401.2" r="0.43"/><circle cx="70.8" cy="397.7" r="0.43"/><circle cx="107.1" cy="421.3" r="0.34"/><circle cx="94.5" cy="374.8" r="0.39"/><circle cx="108.9" cy="402.3" r="0.39"/><circle cx="56.7" cy="418.5" r="0.45"/><circle cx="122.6" cy="395.7" r="0.41"/><circle cx="66.0" cy="419.1" r="0.42"/><circle cx="68.4" cy="367.1" r="0.34"/><circle cx="85.8" cy="410.2" r="0.35"/><circle cx="40.8" cy="412.8" r="0.26"/><circle cx="107.3" cy="372.8" r="0.32"/><circle cx="106.3" cy="370.7" r="0.28"/><circle cx="82.9" cy="407.4" r="0.42"/><circle cx="97.8" cy="421.4" r="0.35"/><circle cx="120.2" cy="367.3" r="0.29"/><circle cx="83.8" cy="380.2" r="0.40"/><circle cx="93.4" cy="394.8" r="0.42"/><circle cx="86.6" cy="381.5" r="0.33"/><circle cx="111.2" cy="418.5" r="0.29"/><circle cx="111.7" cy="422.8" r="0.35"/><circle cx="87.7" cy="374.5" r="0.36"/><circle cx="81.7" cy="400.0" r="0.26"/><circle cx="122.0" cy="394.4" r="0.33"/><circle cx="107.4" cy="397.3" r="0.35"/><circle cx="97.9" cy="366.0" r="0.36"/><circle cx="74.0" cy="422.1" r="0.43"/><circle cx="61.5" cy="391.7" r="0.28"/><circle cx="75.7" cy="413.2" r="0.43"/><circle cx="79.4" cy="381.9" r="0.29"/><circle cx="91.6" cy="420.1" r="0.28"/><circle cx="105.6" cy="363.3" r="0.29"/><circle cx="57.9" cy="405.1" r="0.31"/><circle cx="69.0" cy="400.9" r="0.27"/><circle cx="101.4" cy="369.6" r="0.35"/><circle cx="59.9" cy="374.3" r="0.36"/><circle cx="76.0" cy="385.5" r="0.33"/></g>
</g>
<rect x="38.3" y="361.9" width="86.3" height="62.900000000000034" fill="none" stroke="#8a8a8a" stroke-width="0.6"/>
<rect x="112.6" y="418.3" width="11" height="5" fill="#f4f4f4" opacity="0.6"/>
<line x1="113.6" y1="422.6" x2="123.1" y2="422.6" stroke="#222" stroke-width="0.6"/>
<text x="118.3" y="421.6" font-size="3.4" text-anchor="middle" fill="#111" font-weight="bold">200&#956;m</text>
<clipPath id="ih2"><rect x="131.4" y="361.9" width="86.0" height="62.700000000000045"/></clipPath>
<g clip-path="url(#ih2)">
<rect x="131.4" y="361.9" width="86.0" height="62.700000000000045" fill="#e0dcd6"/>
<ellipse cx="150.3" cy="375.7" rx="25.8" ry="18.8" fill="#d9d6de" opacity="0.85" filter="url(#soft2)"/>
<path d="M170.10000000000002,361.9 Q178.70000000000002,383.84499999999997 191.6,393.25 L217.4,400.774 L217.4,393.25 Q195.9,383.84499999999997 184.72,361.9 Z" fill="#e5e2e2" opacity="0.9" filter="url(#soft)"/>
<ellipse cx="172.0" cy="391.0" rx="15.0" ry="13.0" fill="#ddd1bd" opacity="0.95" filter="url(#soft)"/>
<ellipse cx="138.8" cy="405.0" rx="9.0" ry="18.0" fill="#ddd1bd" opacity="0.95" filter="url(#soft)"/>
<ellipse cx="155.6" cy="410.0" rx="8.0" ry="14.0" fill="#ddd1bd" opacity="0.95" filter="url(#soft)"/>
<ellipse cx="200.0" cy="377.0" rx="15.0" ry="15.0" fill="#ddd1bd" opacity="0.95" filter="url(#soft)"/>
<ellipse cx="205.0" cy="412.0" rx="13.0" ry="11.0" fill="#ddd1bd" opacity="0.95" filter="url(#soft)"/>
<ellipse cx="178.0" cy="415.0" rx="11.0" ry="9.0" fill="#ddd1bd" opacity="0.95" filter="url(#soft)"/>
<ellipse cx="214.0" cy="393.0" rx="5.0" ry="8.0" fill="#ddd1bd" opacity="0.95" filter="url(#soft)"/>
<g fill="#938cbc" opacity="0.45"><circle cx="172.2" cy="403.1" r="0.38"/><circle cx="143.7" cy="362.6" r="0.32"/><circle cx="155.0" cy="412.7" r="0.39"/><circle cx="183.1" cy="396.9" r="0.38"/><circle cx="143.9" cy="389.5" r="0.28"/><circle cx="209.3" cy="365.6" r="0.41"/><circle cx="137.8" cy="405.0" r="0.32"/><circle cx="166.2" cy="414.7" r="0.25"/><circle cx="136.6" cy="419.3" r="0.35"/><circle cx="139.2" cy="423.8" r="0.44"/><circle cx="141.1" cy="388.4" r="0.28"/><circle cx="158.3" cy="400.9" r="0.28"/><circle cx="191.3" cy="365.1" r="0.28"/><circle cx="201.5" cy="387.0" r="0.33"/><circle cx="182.7" cy="391.8" r="0.33"/><circle cx="134.0" cy="407.4" r="0.44"/><circle cx="215.4" cy="403.5" r="0.32"/><circle cx="162.6" cy="405.2" r="0.38"/><circle cx="141.2" cy="376.6" r="0.32"/><circle cx="175.4" cy="412.7" r="0.35"/><circle cx="133.8" cy="413.5" r="0.34"/><circle cx="176.0" cy="375.8" r="0.34"/><circle cx="164.8" cy="410.3" r="0.27"/><circle cx="178.7" cy="373.1" r="0.39"/><circle cx="134.6" cy="379.2" r="0.32"/><circle cx="186.2" cy="365.2" r="0.34"/><circle cx="149.4" cy="379.6" r="0.35"/><circle cx="213.9" cy="392.1" r="0.44"/><circle cx="145.8" cy="419.9" r="0.32"/><circle cx="147.7" cy="408.8" r="0.43"/><circle cx="132.0" cy="378.7" r="0.40"/><circle cx="160.8" cy="377.0" r="0.25"/><circle cx="134.8" cy="400.7" r="0.45"/><circle cx="217.3" cy="393.5" r="0.25"/><circle cx="159.1" cy="411.3" r="0.42"/><circle cx="186.4" cy="376.3" r="0.36"/><circle cx="172.5" cy="401.2" r="0.30"/><circle cx="212.8" cy="418.0" r="0.28"/><circle cx="156.5" cy="416.6" r="0.31"/><circle cx="212.6" cy="394.2" r="0.39"/><circle cx="192.0" cy="375.3" r="0.31"/><circle cx="153.3" cy="404.7" r="0.39"/><circle cx="142.7" cy="417.5" r="0.33"/><circle cx="152.1" cy="389.2" r="0.45"/><circle cx="179.6" cy="401.1" r="0.43"/><circle cx="214.1" cy="409.6" r="0.33"/><circle cx="182.0" cy="418.4" r="0.41"/><circle cx="181.3" cy="383.7" r="0.32"/><circle cx="194.7" cy="397.2" r="0.25"/><circle cx="192.5" cy="418.6" r="0.41"/><circle cx="208.6" cy="419.0" r="0.36"/><circle cx="199.3" cy="385.7" r="0.27"/><circle cx="161.8" cy="381.5" r="0.44"/><circle cx="190.7" cy="395.9" r="0.37"/><circle cx="142.1" cy="395.4" r="0.39"/><circle cx="165.3" cy="377.3" r="0.33"/><circle cx="159.2" cy="404.9" r="0.28"/><circle cx="139.2" cy="381.5" r="0.39"/><circle cx="196.7" cy="403.2" r="0.44"/><circle cx="162.8" cy="363.8" r="0.35"/><circle cx="169.6" cy="373.1" r="0.38"/><circle cx="160.7" cy="376.8" r="0.32"/><circle cx="212.6" cy="362.4" r="0.32"/><circle cx="155.5" cy="374.5" r="0.34"/><circle cx="150.4" cy="419.5" r="0.35"/><circle cx="191.4" cy="372.1" r="0.34"/><circle cx="183.6" cy="414.7" r="0.30"/><circle cx="170.9" cy="415.5" r="0.42"/><circle cx="151.0" cy="395.6" r="0.40"/><circle cx="165.4" cy="404.1" r="0.38"/><circle cx="215.0" cy="396.6" r="0.39"/><circle cx="161.5" cy="407.8" r="0.31"/><circle cx="174.4" cy="384.5" r="0.31"/><circle cx="143.1" cy="376.0" r="0.36"/><circle cx="153.1" cy="364.8" r="0.41"/><circle cx="156.0" cy="420.6" r="0.37"/><circle cx="164.9" cy="416.6" r="0.43"/><circle cx="159.0" cy="369.8" r="0.38"/><circle cx="203.9" cy="400.1" r="0.41"/><circle cx="166.9" cy="400.6" r="0.30"/><circle cx="166.4" cy="385.7" r="0.33"/><circle cx="165.8" cy="412.5" r="0.28"/><circle cx="149.0" cy="377.9" r="0.44"/><circle cx="176.4" cy="365.2" r="0.42"/><circle cx="206.5" cy="413.4" r="0.32"/><circle cx="194.6" cy="381.1" r="0.28"/><circle cx="205.8" cy="414.1" r="0.29"/><circle cx="207.1" cy="363.4" r="0.31"/><circle cx="132.5" cy="372.6" r="0.28"/><circle cx="193.0" cy="380.5" r="0.29"/></g>
<ellipse cx="201.3" cy="381.5" rx="0.8" ry="0.8" fill="#223" opacity="1"/>
<ellipse cx="208.9" cy="378.0" rx="0.9" ry="0.9" fill="#223" opacity="1"/>
</g>
<rect x="131.4" y="361.9" width="86.0" height="62.700000000000045" fill="none" stroke="#8a8a8a" stroke-width="0.6"/>
<rect x="205.4" y="418.1" width="11" height="5" fill="#f4f4f4" opacity="0.6"/>
<line x1="206.4" y1="422.40000000000003" x2="215.9" y2="422.40000000000003" stroke="#222" stroke-width="0.6"/>
<text x="211.1" y="421.40000000000003" font-size="3.4" text-anchor="middle" fill="#111" font-weight="bold">200&#956;m</text>
<clipPath id="ih3"><rect x="38.4" y="436.2" width="86.19999999999999" height="62.19999999999999"/></clipPath>
<g clip-path="url(#ih3)">
<rect x="38.4" y="436.2" width="86.19999999999999" height="62.19999999999999" fill="#dcdadf"/>
<path d="M90.11999999999999,436.2 L124.6,436.2 L124.6,467.29999999999995 Q111.66999999999999,451.75 90.11999999999999,436.2 Z" fill="#e3e2e5"/>
<ellipse cx="82.0" cy="449.6" rx="13.5" ry="8.5" fill="#d2cbe0" opacity="0.9" transform="rotate(32 82.0 449.6)" filter="url(#soft05)"/>
<ellipse cx="82.0" cy="449.6" rx="9.3" ry="4.3" fill="#eceaee" opacity="1" transform="rotate(32 82.0 449.6)" filter="url(#soft05)"/>
<g fill="#8a7fc0" opacity="0.6"><circle cx="78.0" cy="454.9" r="0.69"/><circle cx="91.7" cy="448.0" r="0.53"/><circle cx="85.1" cy="459.0" r="0.71"/><circle cx="85.8" cy="458.1" r="0.52"/><circle cx="75.5" cy="453.9" r="0.74"/><circle cx="76.0" cy="439.5" r="0.55"/><circle cx="84.4" cy="456.9" r="0.73"/><circle cx="88.1" cy="446.4" r="0.71"/><circle cx="91.2" cy="453.0" r="0.54"/><circle cx="90.8" cy="448.2" r="0.71"/><circle cx="74.4" cy="441.4" r="0.58"/><circle cx="70.9" cy="446.5" r="0.49"/><circle cx="88.7" cy="447.0" r="0.79"/><circle cx="82.0" cy="441.9" r="0.71"/><circle cx="85.3" cy="457.6" r="0.61"/><circle cx="83.0" cy="458.6" r="0.63"/><circle cx="77.9" cy="455.6" r="0.66"/><circle cx="70.7" cy="448.4" r="0.62"/><circle cx="78.8" cy="456.9" r="0.52"/><circle cx="71.3" cy="450.2" r="0.68"/><circle cx="92.8" cy="453.8" r="0.70"/><circle cx="94.1" cy="453.1" r="0.50"/><circle cx="88.0" cy="446.4" r="0.67"/><circle cx="84.0" cy="458.2" r="0.75"/><circle cx="90.7" cy="450.1" r="0.52"/><circle cx="91.3" cy="448.4" r="0.70"/><circle cx="84.8" cy="456.7" r="0.66"/><circle cx="84.3" cy="441.8" r="0.67"/><circle cx="75.6" cy="441.6" r="0.58"/><circle cx="84.6" cy="442.3" r="0.55"/><circle cx="83.6" cy="457.4" r="0.49"/><circle cx="79.4" cy="457.6" r="0.68"/><circle cx="74.4" cy="442.0" r="0.46"/><circle cx="71.0" cy="446.1" r="0.48"/><circle cx="89.8" cy="454.6" r="0.49"/><circle cx="74.8" cy="453.8" r="0.66"/><circle cx="88.8" cy="457.9" r="0.58"/><circle cx="91.7" cy="447.0" r="0.57"/><circle cx="73.9" cy="444.7" r="0.63"/><circle cx="72.5" cy="444.9" r="0.55"/><circle cx="90.7" cy="456.7" r="0.77"/><circle cx="85.4" cy="442.5" r="0.69"/><circle cx="91.5" cy="448.1" r="0.66"/><circle cx="72.2" cy="450.8" r="0.55"/><circle cx="81.1" cy="457.6" r="0.46"/><circle cx="70.5" cy="448.2" r="0.72"/><circle cx="75.4" cy="439.6" r="0.72"/><circle cx="82.0" cy="457.5" r="0.64"/><circle cx="73.3" cy="452.1" r="0.60"/><circle cx="85.0" cy="457.0" r="0.49"/><circle cx="90.5" cy="446.6" r="0.56"/><circle cx="70.5" cy="448.8" r="0.49"/><circle cx="72.7" cy="450.4" r="0.76"/><circle cx="93.6" cy="456.2" r="0.64"/><circle cx="85.4" cy="457.2" r="0.56"/><circle cx="91.8" cy="450.5" r="0.49"/><circle cx="92.4" cy="456.4" r="0.75"/><circle cx="84.6" cy="458.1" r="0.58"/><circle cx="74.4" cy="451.1" r="0.52"/><circle cx="83.7" cy="442.9" r="0.78"/><circle cx="74.3" cy="443.9" r="0.60"/><circle cx="75.3" cy="441.8" r="0.74"/><circle cx="93.4" cy="450.9" r="0.50"/><circle cx="74.3" cy="443.2" r="0.64"/><circle cx="76.5" cy="452.9" r="0.55"/><circle cx="89.3" cy="459.3" r="0.46"/><circle cx="84.7" cy="441.7" r="0.70"/><circle cx="89.6" cy="449.2" r="0.73"/><circle cx="72.1" cy="447.1" r="0.74"/><circle cx="83.8" cy="441.8" r="0.72"/><circle cx="87.4" cy="458.7" r="0.80"/><circle cx="70.9" cy="444.3" r="0.72"/><circle cx="69.7" cy="445.0" r="0.46"/><circle cx="77.4" cy="455.7" r="0.78"/><circle cx="78.8" cy="455.0" r="0.75"/><circle cx="73.6" cy="447.8" r="0.72"/><circle cx="71.1" cy="443.7" r="0.61"/><circle cx="92.0" cy="451.0" r="0.52"/><circle cx="72.4" cy="449.6" r="0.52"/><circle cx="73.8" cy="440.1" r="0.74"/></g>
<ellipse cx="64.5" cy="464.2" rx="14.0" ry="8.5" fill="#d2cbe0" opacity="0.9" transform="rotate(-5 64.5 464.2)" filter="url(#soft05)"/>
<ellipse cx="64.5" cy="464.2" rx="9.5" ry="4.0" fill="#eceaee" opacity="1" transform="rotate(-5 64.5 464.2)" filter="url(#soft05)"/>
<g fill="#8a7fc0" opacity="0.6"><circle cx="71.0" cy="471.1" r="0.66"/><circle cx="61.5" cy="470.2" r="0.62"/><circle cx="54.3" cy="464.3" r="0.53"/><circle cx="63.6" cy="457.5" r="0.60"/><circle cx="77.7" cy="460.9" r="0.75"/><circle cx="71.2" cy="468.5" r="0.50"/><circle cx="75.8" cy="465.6" r="0.77"/><circle cx="64.6" cy="471.4" r="0.66"/><circle cx="65.6" cy="471.2" r="0.45"/><circle cx="54.7" cy="467.1" r="0.57"/><circle cx="67.7" cy="472.2" r="0.70"/><circle cx="55.9" cy="467.6" r="0.71"/><circle cx="72.8" cy="467.0" r="0.78"/><circle cx="68.2" cy="458.2" r="0.69"/><circle cx="61.9" cy="457.8" r="0.66"/><circle cx="64.6" cy="472.3" r="0.70"/><circle cx="52.8" cy="460.4" r="0.67"/><circle cx="55.1" cy="460.5" r="0.72"/><circle cx="72.8" cy="458.2" r="0.74"/><circle cx="53.1" cy="465.2" r="0.59"/><circle cx="75.2" cy="460.3" r="0.78"/><circle cx="59.2" cy="470.3" r="0.77"/><circle cx="58.9" cy="457.8" r="0.48"/><circle cx="52.6" cy="466.2" r="0.73"/><circle cx="66.0" cy="458.4" r="0.61"/><circle cx="55.2" cy="468.7" r="0.71"/><circle cx="76.2" cy="467.0" r="0.50"/><circle cx="59.4" cy="471.5" r="0.79"/><circle cx="67.6" cy="469.7" r="0.55"/><circle cx="67.7" cy="469.5" r="0.48"/><circle cx="75.1" cy="468.6" r="0.47"/><circle cx="55.1" cy="470.2" r="0.51"/><circle cx="75.3" cy="463.9" r="0.47"/><circle cx="66.4" cy="471.0" r="0.76"/><circle cx="58.2" cy="459.2" r="0.70"/><circle cx="66.9" cy="458.1" r="0.50"/><circle cx="75.2" cy="465.5" r="0.63"/><circle cx="54.1" cy="464.3" r="0.51"/><circle cx="60.6" cy="457.5" r="0.60"/><circle cx="65.6" cy="471.9" r="0.65"/><circle cx="55.0" cy="463.0" r="0.55"/><circle cx="60.9" cy="456.4" r="0.68"/><circle cx="70.3" cy="468.9" r="0.79"/><circle cx="64.8" cy="470.5" r="0.53"/><circle cx="60.6" cy="472.3" r="0.60"/><circle cx="73.4" cy="467.4" r="0.65"/><circle cx="55.3" cy="468.2" r="0.53"/><circle cx="59.0" cy="471.2" r="0.45"/><circle cx="74.3" cy="457.9" r="0.49"/><circle cx="67.0" cy="458.0" r="0.61"/><circle cx="53.1" cy="469.1" r="0.45"/><circle cx="51.7" cy="464.3" r="0.50"/><circle cx="75.6" cy="458.5" r="0.58"/><circle cx="64.0" cy="457.8" r="0.49"/><circle cx="63.3" cy="457.3" r="0.67"/><circle cx="74.0" cy="461.2" r="0.66"/><circle cx="65.3" cy="457.0" r="0.64"/><circle cx="68.6" cy="457.6" r="0.58"/><circle cx="74.9" cy="464.1" r="0.57"/><circle cx="53.4" cy="468.5" r="0.64"/><circle cx="56.5" cy="468.5" r="0.66"/><circle cx="54.6" cy="462.8" r="0.60"/><circle cx="54.1" cy="463.6" r="0.70"/><circle cx="63.6" cy="458.2" r="0.65"/><circle cx="51.9" cy="462.6" r="0.53"/><circle cx="54.0" cy="468.0" r="0.76"/><circle cx="76.6" cy="465.1" r="0.71"/><circle cx="54.8" cy="466.6" r="0.51"/><circle cx="65.5" cy="456.8" r="0.65"/><circle cx="76.1" cy="465.8" r="0.73"/><circle cx="62.8" cy="457.4" r="0.60"/><circle cx="75.1" cy="464.9" r="0.61"/><circle cx="62.1" cy="457.6" r="0.59"/><circle cx="73.4" cy="457.6" r="0.79"/><circle cx="73.0" cy="466.5" r="0.66"/><circle cx="55.4" cy="466.9" r="0.63"/><circle cx="50.8" cy="465.0" r="0.73"/><circle cx="55.7" cy="458.9" r="0.49"/><circle cx="56.2" cy="467.8" r="0.75"/><circle cx="51.2" cy="467.2" r="0.74"/></g>
<ellipse cx="76.2" cy="484.7" rx="9.5" ry="7.5" fill="#d2cbe0" opacity="0.9" filter="url(#soft05)"/>
<ellipse cx="76.2" cy="484.7" rx="5.7" ry="3.7" fill="#eceaee" opacity="1" filter="url(#soft05)"/>
<g fill="#8a7fc0" opacity="0.6"><circle cx="78.2" cy="489.8" r="0.62"/><circle cx="84.9" cy="483.1" r="0.73"/><circle cx="74.4" cy="477.4" r="0.65"/><circle cx="74.3" cy="489.9" r="0.79"/><circle cx="72.4" cy="479.5" r="0.66"/><circle cx="76.3" cy="490.8" r="0.49"/><circle cx="74.5" cy="477.5" r="0.63"/><circle cx="79.4" cy="490.0" r="0.47"/><circle cx="83.2" cy="485.7" r="0.70"/><circle cx="81.5" cy="481.2" r="0.80"/><circle cx="80.6" cy="489.1" r="0.67"/><circle cx="80.3" cy="491.0" r="0.53"/><circle cx="69.8" cy="483.9" r="0.70"/><circle cx="67.9" cy="481.5" r="0.70"/><circle cx="67.4" cy="484.2" r="0.67"/><circle cx="76.4" cy="491.3" r="0.61"/><circle cx="76.3" cy="477.5" r="0.60"/><circle cx="76.8" cy="490.2" r="0.74"/><circle cx="75.6" cy="490.0" r="0.61"/><circle cx="77.9" cy="491.2" r="0.64"/><circle cx="78.7" cy="479.4" r="0.45"/><circle cx="77.6" cy="479.1" r="0.60"/><circle cx="76.6" cy="490.9" r="0.69"/><circle cx="75.0" cy="491.7" r="0.76"/><circle cx="67.6" cy="487.3" r="0.76"/><circle cx="82.5" cy="488.8" r="0.67"/><circle cx="73.1" cy="480.6" r="0.51"/><circle cx="70.6" cy="482.6" r="0.61"/><circle cx="74.5" cy="478.7" r="0.70"/><circle cx="84.1" cy="483.0" r="0.71"/><circle cx="72.8" cy="488.7" r="0.72"/><circle cx="80.1" cy="480.9" r="0.66"/><circle cx="84.7" cy="482.5" r="0.65"/><circle cx="82.7" cy="487.3" r="0.69"/><circle cx="74.8" cy="489.6" r="0.60"/><circle cx="79.0" cy="491.2" r="0.65"/><circle cx="69.2" cy="489.6" r="0.56"/><circle cx="83.8" cy="483.7" r="0.69"/><circle cx="67.9" cy="487.9" r="0.66"/><circle cx="78.4" cy="491.6" r="0.67"/><circle cx="71.9" cy="478.0" r="0.78"/><circle cx="85.0" cy="485.6" r="0.57"/><circle cx="78.2" cy="479.7" r="0.71"/><circle cx="70.7" cy="486.7" r="0.50"/><circle cx="85.2" cy="482.9" r="0.50"/><circle cx="76.2" cy="479.5" r="0.69"/><circle cx="76.3" cy="489.6" r="0.63"/><circle cx="78.7" cy="491.6" r="0.80"/><circle cx="84.3" cy="487.1" r="0.57"/><circle cx="81.2" cy="481.6" r="0.74"/><circle cx="69.8" cy="479.2" r="0.71"/><circle cx="78.4" cy="489.0" r="0.79"/><circle cx="82.4" cy="486.8" r="0.53"/><circle cx="81.1" cy="487.7" r="0.60"/><circle cx="74.2" cy="490.3" r="0.47"/></g>
<ellipse cx="98.0" cy="466.5" rx="5.5" ry="8.5" fill="#d2cbe0" opacity="0.9" transform="rotate(5 98.0 466.5)" filter="url(#soft05)"/>
<ellipse cx="98.0" cy="466.5" rx="2.5" ry="5.5" fill="#eceaee" opacity="1" transform="rotate(5 98.0 466.5)" filter="url(#soft05)"/>
<g fill="#8a7fc0" opacity="0.6"><circle cx="94.0" cy="469.2" r="0.75"/><circle cx="100.3" cy="470.8" r="0.49"/><circle cx="98.7" cy="473.8" r="0.51"/><circle cx="101.2" cy="470.3" r="0.59"/><circle cx="99.1" cy="473.1" r="0.49"/><circle cx="96.9" cy="461.3" r="0.61"/><circle cx="93.5" cy="469.6" r="0.58"/><circle cx="93.2" cy="470.2" r="0.55"/><circle cx="96.9" cy="459.8" r="0.47"/><circle cx="99.9" cy="471.4" r="0.57"/><circle cx="100.6" cy="460.9" r="0.67"/><circle cx="94.9" cy="471.6" r="0.60"/><circle cx="94.4" cy="465.6" r="0.49"/><circle cx="98.4" cy="472.2" r="0.77"/><circle cx="99.9" cy="461.2" r="0.49"/><circle cx="97.7" cy="458.5" r="0.75"/><circle cx="94.0" cy="470.4" r="0.63"/><circle cx="98.6" cy="473.1" r="0.75"/><circle cx="93.4" cy="468.4" r="0.58"/><circle cx="99.2" cy="473.7" r="0.74"/><circle cx="102.8" cy="465.3" r="0.55"/><circle cx="95.6" cy="471.4" r="0.54"/><circle cx="99.4" cy="473.5" r="0.48"/><circle cx="100.5" cy="473.0" r="0.68"/><circle cx="102.8" cy="463.6" r="0.55"/><circle cx="93.7" cy="461.7" r="0.48"/><circle cx="94.2" cy="463.0" r="0.57"/><circle cx="92.9" cy="470.4" r="0.54"/><circle cx="99.6" cy="473.7" r="0.47"/><circle cx="100.9" cy="459.0" r="0.60"/><circle cx="99.8" cy="473.6" r="0.72"/><circle cx="101.6" cy="465.5" r="0.57"/><circle cx="93.7" cy="464.3" r="0.48"/><circle cx="93.9" cy="469.3" r="0.59"/><circle cx="99.6" cy="459.6" r="0.55"/><circle cx="101.8" cy="462.7" r="0.54"/><circle cx="102.1" cy="462.8" r="0.66"/><circle cx="94.2" cy="467.3" r="0.71"/><circle cx="93.3" cy="468.7" r="0.72"/><circle cx="100.7" cy="461.0" r="0.76"/></g>
<ellipse cx="43.5" cy="490.0" rx="6.5" ry="8.5" fill="#e7e2dc" opacity="1" stroke="#aaa4c6" stroke-width="0.9"/>
<g fill="#7069b5" opacity="0.6"><circle cx="83.9" cy="462.0" r="0.45"/><circle cx="61.6" cy="445.7" r="0.63"/><circle cx="86.0" cy="441.4" r="0.41"/><circle cx="75.0" cy="486.3" r="0.61"/><circle cx="103.9" cy="454.4" r="0.48"/><circle cx="120.1" cy="460.3" r="0.54"/><circle cx="42.7" cy="466.0" r="0.50"/><circle cx="116.8" cy="496.0" r="0.58"/><circle cx="67.0" cy="490.5" r="0.62"/><circle cx="45.0" cy="462.6" r="0.52"/><circle cx="64.7" cy="451.2" r="0.59"/><circle cx="56.5" cy="470.6" r="0.36"/><circle cx="78.2" cy="496.2" r="0.35"/><circle cx="47.7" cy="492.2" r="0.62"/><circle cx="82.0" cy="454.5" r="0.44"/><circle cx="101.6" cy="472.3" r="0.48"/><circle cx="98.0" cy="442.4" r="0.47"/><circle cx="114.1" cy="492.9" r="0.50"/><circle cx="105.8" cy="491.2" r="0.51"/><circle cx="50.7" cy="442.7" r="0.55"/><circle cx="67.8" cy="468.9" r="0.36"/><circle cx="120.1" cy="453.5" r="0.54"/><circle cx="92.1" cy="458.3" r="0.41"/><circle cx="86.8" cy="456.5" r="0.37"/><circle cx="53.6" cy="438.6" r="0.62"/><circle cx="55.9" cy="493.4" r="0.54"/><circle cx="120.9" cy="465.4" r="0.43"/><circle cx="45.7" cy="474.8" r="0.56"/><circle cx="97.0" cy="492.8" r="0.38"/><circle cx="94.0" cy="480.0" r="0.63"/><circle cx="60.0" cy="494.1" r="0.36"/><circle cx="89.2" cy="456.6" r="0.51"/><circle cx="53.4" cy="460.1" r="0.45"/><circle cx="78.4" cy="461.4" r="0.42"/><circle cx="52.9" cy="465.3" r="0.65"/><circle cx="111.5" cy="445.5" r="0.54"/><circle cx="51.0" cy="456.4" r="0.65"/><circle cx="67.6" cy="442.6" r="0.52"/><circle cx="89.0" cy="468.0" r="0.63"/><circle cx="82.6" cy="458.9" r="0.41"/><circle cx="88.5" cy="482.5" r="0.50"/><circle cx="72.1" cy="451.8" r="0.60"/><circle cx="123.9" cy="472.6" r="0.56"/><circle cx="66.4" cy="446.0" r="0.37"/><circle cx="91.6" cy="493.2" r="0.56"/><circle cx="96.4" cy="489.7" r="0.47"/><circle cx="75.4" cy="452.4" r="0.60"/><circle cx="97.9" cy="468.8" r="0.58"/><circle cx="117.1" cy="439.1" r="0.42"/><circle cx="78.7" cy="480.6" r="0.42"/><circle cx="76.6" cy="477.5" r="0.44"/><circle cx="96.1" cy="440.0" r="0.47"/><circle cx="93.5" cy="489.9" r="0.50"/><circle cx="95.7" cy="477.5" r="0.54"/><circle cx="77.3" cy="455.9" r="0.39"/><circle cx="114.9" cy="484.4" r="0.55"/><circle cx="103.3" cy="455.8" r="0.40"/><circle cx="84.3" cy="465.3" r="0.54"/><circle cx="113.7" cy="460.6" r="0.46"/><circle cx="99.2" cy="491.1" r="0.52"/><circle cx="89.6" cy="491.7" r="0.63"/><circle cx="42.3" cy="496.8" r="0.38"/><circle cx="85.9" cy="467.3" r="0.64"/><circle cx="58.5" cy="439.0" r="0.64"/><circle cx="77.8" cy="464.7" r="0.48"/><circle cx="62.3" cy="438.0" r="0.52"/><circle cx="57.0" cy="467.3" r="0.65"/><circle cx="123.2" cy="455.4" r="0.45"/><circle cx="48.9" cy="474.0" r="0.40"/><circle cx="49.3" cy="493.1" r="0.52"/><circle cx="115.1" cy="449.6" r="0.40"/><circle cx="88.2" cy="479.2" r="0.40"/><circle cx="81.7" cy="471.2" r="0.50"/><circle cx="65.5" cy="464.0" r="0.38"/><circle cx="46.9" cy="439.9" r="0.60"/><circle cx="59.9" cy="478.2" r="0.38"/><circle cx="114.6" cy="438.0" r="0.59"/><circle cx="84.2" cy="492.7" r="0.62"/><circle cx="39.5" cy="439.4" r="0.42"/><circle cx="42.2" cy="490.0" r="0.39"/><circle cx="96.7" cy="495.0" r="0.56"/><circle cx="124.2" cy="476.5" r="0.47"/><circle cx="122.3" cy="449.7" r="0.52"/><circle cx="74.2" cy="470.1" r="0.44"/><circle cx="121.2" cy="497.9" r="0.56"/><circle cx="81.2" cy="495.3" r="0.63"/><circle cx="42.6" cy="491.3" r="0.38"/><circle cx="46.4" cy="451.9" r="0.46"/><circle cx="80.1" cy="495.5" r="0.39"/><circle cx="94.1" cy="467.5" r="0.39"/><circle cx="124.3" cy="493.2" r="0.45"/><circle cx="113.4" cy="464.2" r="0.55"/><circle cx="118.4" cy="476.0" r="0.46"/><circle cx="42.9" cy="465.2" r="0.52"/><circle cx="61.9" cy="472.1" r="0.35"/><circle cx="60.2" cy="466.1" r="0.49"/><circle cx="99.3" cy="450.6" r="0.43"/><circle cx="101.6" cy="453.8" r="0.40"/><circle cx="92.0" cy="458.0" r="0.53"/><circle cx="121.9" cy="496.6" r="0.59"/><circle cx="122.3" cy="485.5" r="0.46"/><circle cx="118.8" cy="444.0" r="0.41"/><circle cx="82.0" cy="443.9" r="0.53"/><circle cx="85.4" cy="449.2" r="0.57"/><circle cx="45.6" cy="466.6" r="0.43"/><circle cx="119.2" cy="445.2" r="0.46"/><circle cx="99.9" cy="455.1" r="0.60"/><circle cx="48.2" cy="440.9" r="0.35"/><circle cx="86.3" cy="466.0" r="0.51"/><circle cx="79.1" cy="490.8" r="0.41"/><circle cx="51.0" cy="451.6" r="0.60"/><circle cx="108.3" cy="443.2" r="0.35"/><circle cx="123.7" cy="496.4" r="0.43"/><circle cx="84.3" cy="439.1" r="0.50"/><circle cx="53.3" cy="478.7" r="0.40"/><circle cx="87.1" cy="456.7" r="0.49"/><circle cx="120.3" cy="468.8" r="0.64"/><circle cx="100.5" cy="450.3" r="0.43"/><circle cx="108.8" cy="484.5" r="0.39"/><circle cx="108.2" cy="454.7" r="0.52"/><circle cx="115.3" cy="493.3" r="0.40"/><circle cx="50.7" cy="452.8" r="0.53"/><circle cx="121.6" cy="476.8" r="0.58"/><circle cx="109.3" cy="465.7" r="0.46"/><circle cx="107.2" cy="474.8" r="0.62"/><circle cx="124.4" cy="465.2" r="0.45"/><circle cx="49.5" cy="472.6" r="0.44"/><circle cx="65.6" cy="467.7" r="0.57"/><circle cx="97.1" cy="464.8" r="0.55"/><circle cx="92.5" cy="493.0" r="0.55"/></g>
<g fill="#7069b5" opacity="0.6"><circle cx="120.0" cy="472.4" r="0.61"/><circle cx="94.6" cy="492.0" r="0.35"/><circle cx="112.8" cy="473.6" r="0.40"/><circle cx="116.8" cy="468.9" r="0.55"/><circle cx="96.9" cy="471.3" r="0.47"/><circle cx="111.6" cy="486.7" r="0.46"/><circle cx="120.6" cy="465.2" r="0.41"/><circle cx="106.3" cy="485.1" r="0.55"/><circle cx="121.2" cy="476.2" r="0.54"/><circle cx="115.3" cy="469.7" r="0.46"/><circle cx="107.8" cy="484.7" r="0.51"/><circle cx="98.6" cy="471.2" r="0.45"/><circle cx="97.1" cy="490.6" r="0.62"/><circle cx="116.6" cy="471.7" r="0.53"/><circle cx="95.4" cy="471.4" r="0.43"/><circle cx="112.5" cy="484.1" r="0.51"/><circle cx="99.3" cy="481.4" r="0.57"/><circle cx="120.8" cy="476.8" r="0.48"/><circle cx="120.7" cy="465.7" r="0.53"/><circle cx="97.5" cy="491.7" r="0.55"/><circle cx="96.6" cy="465.7" r="0.63"/><circle cx="103.7" cy="484.1" r="0.52"/><circle cx="106.0" cy="467.6" r="0.57"/><circle cx="104.5" cy="478.8" r="0.59"/><circle cx="122.7" cy="474.0" r="0.45"/><circle cx="117.8" cy="479.6" r="0.62"/><circle cx="105.7" cy="466.0" r="0.44"/><circle cx="121.5" cy="484.0" r="0.64"/><circle cx="119.2" cy="487.5" r="0.40"/><circle cx="107.0" cy="464.9" r="0.45"/><circle cx="101.0" cy="496.3" r="0.40"/><circle cx="104.9" cy="465.0" r="0.40"/><circle cx="115.4" cy="478.0" r="0.50"/><circle cx="119.2" cy="488.0" r="0.41"/><circle cx="117.0" cy="487.6" r="0.53"/><circle cx="109.6" cy="495.5" r="0.53"/><circle cx="96.3" cy="492.9" r="0.55"/><circle cx="102.5" cy="490.6" r="0.63"/><circle cx="116.6" cy="480.5" r="0.60"/><circle cx="96.9" cy="466.0" r="0.47"/></g>
</g>
<rect x="38.4" y="436.2" width="86.19999999999999" height="62.19999999999999" fill="none" stroke="#8a8a8a" stroke-width="0.6"/>
<rect x="112.6" y="491.9" width="11" height="5" fill="#f4f4f4" opacity="0.6"/>
<line x1="113.6" y1="496.2" x2="123.1" y2="496.2" stroke="#222" stroke-width="0.6"/>
<text x="118.3" y="495.2" font-size="3.4" text-anchor="middle" fill="#111" font-weight="bold">50&#956;m</text>
<clipPath id="ih4"><rect x="132.1" y="435.8" width="84.70000000000002" height="62.39999999999998"/></clipPath>
<g clip-path="url(#ih4)">
<rect x="132.1" y="435.8" width="84.70000000000002" height="62.39999999999998" fill="#e1ddd1"/>
<ellipse cx="141.1" cy="479.6" rx="6.0" ry="5.8" fill="#e4e0d8" opacity="0.7" filter="url(#soft)"/>
<ellipse cx="155.1" cy="451.8" rx="6.2" ry="5.0" fill="#e4e0d8" opacity="0.7" filter="url(#soft)"/>
<ellipse cx="157.8" cy="478.5" rx="5.2" ry="5.3" fill="#e4e0d8" opacity="0.7" filter="url(#soft)"/>
<ellipse cx="142.1" cy="449.7" rx="6.7" ry="4.1" fill="#e4e0d8" opacity="0.7" filter="url(#soft)"/>
<ellipse cx="154.2" cy="486.0" rx="5.9" ry="3.4" fill="#e4e0d8" opacity="0.7" filter="url(#soft)"/>
<ellipse cx="178.8" cy="477.2" rx="4.5" ry="5.0" fill="#e4e0d8" opacity="0.7" filter="url(#soft)"/>
<ellipse cx="142.5" cy="456.8" rx="4.2" ry="3.6" fill="#e4e0d8" opacity="0.7" filter="url(#soft)"/>
<ellipse cx="214.9" cy="461.0" rx="7.0" ry="4.3" fill="#e4e0d8" opacity="0.7" filter="url(#soft)"/>
<ellipse cx="183.6" cy="490.2" rx="6.1" ry="3.3" fill="#e4e0d8" opacity="0.7" filter="url(#soft)"/>
<ellipse cx="182.0" cy="475.3" rx="4.5" ry="3.3" fill="#e4e0d8" opacity="0.7" filter="url(#soft)"/>
<ellipse cx="206.2" cy="467.9" rx="4.6" ry="4.4" fill="#e4e0d8" opacity="0.7" filter="url(#soft)"/>
<ellipse cx="150.6" cy="485.6" rx="5.5" ry="3.3" fill="#e4e0d8" opacity="0.7" filter="url(#soft)"/>
<ellipse cx="201.4" cy="441.4" rx="4.8" ry="3.1" fill="#e4e0d8" opacity="0.7" filter="url(#soft)"/>
<ellipse cx="194.8" cy="442.9" rx="5.6" ry="3.3" fill="#e4e0d8" opacity="0.7" filter="url(#soft)"/>
<ellipse cx="172.8" cy="478.6" rx="5.6" ry="4.4" fill="#e4e0d8" opacity="0.7" filter="url(#soft)"/>
<ellipse cx="173.2" cy="463.1" rx="5.8" ry="3.3" fill="#e4e0d8" opacity="0.7" filter="url(#soft)"/>
<ellipse cx="172.3" cy="450.5" rx="6.6" ry="5.8" fill="#e4e0d8" opacity="0.7" filter="url(#soft)"/>
<ellipse cx="137.7" cy="444.7" rx="6.1" ry="4.7" fill="#e4e0d8" opacity="0.7" filter="url(#soft)"/>
<g fill="#a4a9da" opacity="0.8" filter="url(#soft05)"><ellipse cx="133.7" cy="479.8" rx="1.57" ry="0.93" transform="rotate(63 133.7 479.8)"/><ellipse cx="180.3" cy="494.4" rx="1.23" ry="0.89" transform="rotate(34 180.3 494.4)"/><ellipse cx="185.3" cy="465.1" rx="1.23" ry="0.92" transform="rotate(6 185.3 465.1)"/><ellipse cx="158.6" cy="497.1" rx="1.39" ry="0.88" transform="rotate(169 158.6 497.1)"/><ellipse cx="162.4" cy="451.5" rx="1.12" ry="0.84" transform="rotate(36 162.4 451.5)"/><ellipse cx="151.6" cy="490.3" rx="1.23" ry="0.87" transform="rotate(109 151.6 490.3)"/><ellipse cx="209.8" cy="454.0" rx="1.48" ry="0.91" transform="rotate(101 209.8 454.0)"/><ellipse cx="182.6" cy="494.6" rx="1.48" ry="0.95" transform="rotate(151 182.6 494.6)"/><ellipse cx="163.1" cy="459.8" rx="1.58" ry="0.96" transform="rotate(139 163.1 459.8)"/><ellipse cx="158.7" cy="492.9" rx="1.41" ry="0.87" transform="rotate(168 158.7 492.9)"/><ellipse cx="171.8" cy="457.0" rx="1.23" ry="0.83" transform="rotate(36 171.8 457.0)"/><ellipse cx="190.7" cy="444.6" rx="1.23" ry="0.93" transform="rotate(98 190.7 444.6)"/><ellipse cx="164.3" cy="484.8" rx="1.23" ry="0.91" transform="rotate(77 164.3 484.8)"/><ellipse cx="143.0" cy="449.7" rx="1.17" ry="1.02" transform="rotate(26 143.0 449.7)"/><ellipse cx="188.7" cy="449.7" rx="1.42" ry="1.00" transform="rotate(64 188.7 449.7)"/><ellipse cx="211.1" cy="476.8" rx="1.38" ry="0.81" transform="rotate(73 211.1 476.8)"/><ellipse cx="154.6" cy="465.1" rx="1.57" ry="1.06" transform="rotate(11 154.6 465.1)"/><ellipse cx="189.7" cy="494.1" rx="1.37" ry="0.83" transform="rotate(156 189.7 494.1)"/><ellipse cx="168.2" cy="497.0" rx="1.54" ry="1.05" transform="rotate(168 168.2 497.0)"/><ellipse cx="137.9" cy="485.3" rx="1.25" ry="0.84" transform="rotate(68 137.9 485.3)"/><ellipse cx="182.0" cy="436.1" rx="1.32" ry="1.04" transform="rotate(89 182.0 436.1)"/><ellipse cx="176.8" cy="454.3" rx="1.59" ry="0.87" transform="rotate(123 176.8 454.3)"/><ellipse cx="186.8" cy="435.8" rx="1.60" ry="0.87" transform="rotate(178 186.8 435.8)"/><ellipse cx="210.7" cy="492.0" rx="1.53" ry="0.92" transform="rotate(80 210.7 492.0)"/><ellipse cx="161.4" cy="494.2" rx="1.11" ry="0.84" transform="rotate(172 161.4 494.2)"/><ellipse cx="200.4" cy="479.9" rx="1.58" ry="0.96" transform="rotate(150 200.4 479.9)"/><ellipse cx="169.6" cy="492.0" rx="1.13" ry="0.93" transform="rotate(104 169.6 492.0)"/><ellipse cx="199.4" cy="462.2" rx="1.44" ry="1.09" transform="rotate(75 199.4 462.2)"/><ellipse cx="149.0" cy="437.7" rx="1.53" ry="0.94" transform="rotate(70 149.0 437.7)"/><ellipse cx="176.1" cy="443.3" rx="1.21" ry="0.87" transform="rotate(46 176.1 443.3)"/><ellipse cx="204.9" cy="451.2" rx="1.15" ry="1.06" transform="rotate(100 204.9 451.2)"/><ellipse cx="134.5" cy="477.9" rx="1.44" ry="0.99" transform="rotate(139 134.5 477.9)"/><ellipse cx="168.0" cy="449.8" rx="1.47" ry="0.99" transform="rotate(127 168.0 449.8)"/><ellipse cx="147.7" cy="459.1" rx="1.45" ry="0.92" transform="rotate(108 147.7 459.1)"/><ellipse cx="172.2" cy="482.9" rx="1.27" ry="0.95" transform="rotate(149 172.2 482.9)"/><ellipse cx="158.4" cy="446.8" rx="1.42" ry="0.84" transform="rotate(154 158.4 446.8)"/><ellipse cx="155.4" cy="492.2" rx="1.37" ry="0.85" transform="rotate(94 155.4 492.2)"/><ellipse cx="189.9" cy="466.1" rx="1.42" ry="0.91" transform="rotate(173 189.9 466.1)"/><ellipse cx="146.9" cy="485.6" rx="1.11" ry="0.95" transform="rotate(12 146.9 485.6)"/><ellipse cx="143.3" cy="472.5" rx="1.55" ry="0.89" transform="rotate(72 143.3 472.5)"/><ellipse cx="172.4" cy="473.6" rx="1.28" ry="0.91" transform="rotate(154 172.4 473.6)"/><ellipse cx="179.2" cy="457.8" rx="1.51" ry="1.10" transform="rotate(78 179.2 457.8)"/><ellipse cx="133.4" cy="454.9" rx="1.55" ry="0.85" transform="rotate(36 133.4 454.9)"/><ellipse cx="199.2" cy="442.9" rx="1.52" ry="0.87" transform="rotate(70 199.2 442.9)"/><ellipse cx="182.4" cy="442.8" rx="1.49" ry="0.93" transform="rotate(139 182.4 442.8)"/><ellipse cx="196.8" cy="440.6" rx="1.51" ry="1.05" transform="rotate(44 196.8 440.6)"/><ellipse cx="182.2" cy="448.6" rx="1.37" ry="1.03" transform="rotate(68 182.2 448.6)"/><ellipse cx="177.2" cy="444.0" rx="1.53" ry="0.99" transform="rotate(149 177.2 444.0)"/><ellipse cx="138.9" cy="482.3" rx="1.15" ry="0.97" transform="rotate(42 138.9 482.3)"/><ellipse cx="208.5" cy="442.4" rx="1.34" ry="0.94" transform="rotate(69 208.5 442.4)"/><ellipse cx="137.6" cy="477.4" rx="1.59" ry="0.91" transform="rotate(162 137.6 477.4)"/><ellipse cx="160.8" cy="452.8" rx="1.33" ry="1.09" transform="rotate(140 160.8 452.8)"/><ellipse cx="185.7" cy="438.3" rx="1.33" ry="0.80" transform="rotate(11 185.7 438.3)"/><ellipse cx="164.0" cy="451.0" rx="1.15" ry="0.95" transform="rotate(141 164.0 451.0)"/><ellipse cx="210.5" cy="493.0" rx="1.31" ry="0.85" transform="rotate(173 210.5 493.0)"/><ellipse cx="168.0" cy="457.2" rx="1.51" ry="0.97" transform="rotate(171 168.0 457.2)"/><ellipse cx="191.5" cy="494.8" rx="1.18" ry="1.08" transform="rotate(97 191.5 494.8)"/><ellipse cx="191.1" cy="454.6" rx="1.22" ry="0.89" transform="rotate(31 191.1 454.6)"/><ellipse cx="213.5" cy="443.2" rx="1.22" ry="0.99" transform="rotate(37 213.5 443.2)"/><ellipse cx="150.2" cy="451.6" rx="1.22" ry="0.80" transform="rotate(133 150.2 451.6)"/><ellipse cx="187.9" cy="455.2" rx="1.55" ry="0.97" transform="rotate(40 187.9 455.2)"/><ellipse cx="213.8" cy="450.1" rx="1.50" ry="1.04" transform="rotate(1 213.8 450.1)"/><ellipse cx="203.8" cy="462.1" rx="1.35" ry="1.08" transform="rotate(81 203.8 462.1)"/><ellipse cx="152.6" cy="438.9" rx="1.54" ry="0.94" transform="rotate(128 152.6 438.9)"/><ellipse cx="186.4" cy="496.9" rx="1.57" ry="1.08" transform="rotate(91 186.4 496.9)"/><ellipse cx="209.2" cy="454.9" rx="1.16" ry="0.99" transform="rotate(5 209.2 454.9)"/><ellipse cx="214.5" cy="456.1" rx="1.31" ry="0.89" transform="rotate(58 214.5 456.1)"/><ellipse cx="177.6" cy="485.8" rx="1.11" ry="0.90" transform="rotate(44 177.6 485.8)"/><ellipse cx="213.3" cy="463.2" rx="1.32" ry="1.08" transform="rotate(70 213.3 463.2)"/><ellipse cx="164.7" cy="460.7" rx="1.22" ry="1.01" transform="rotate(52 164.7 460.7)"/><ellipse cx="175.2" cy="471.5" rx="1.48" ry="1.02" transform="rotate(87 175.2 471.5)"/><ellipse cx="212.6" cy="494.8" rx="1.57" ry="1.01" transform="rotate(82 212.6 494.8)"/><ellipse cx="162.6" cy="489.5" rx="1.34" ry="1.02" transform="rotate(70 162.6 489.5)"/><ellipse cx="163.0" cy="436.9" rx="1.47" ry="0.89" transform="rotate(89 163.0 436.9)"/><ellipse cx="193.6" cy="487.7" rx="1.57" ry="1.00" transform="rotate(42 193.6 487.7)"/><ellipse cx="210.8" cy="439.2" rx="1.31" ry="1.08" transform="rotate(152 210.8 439.2)"/><ellipse cx="182.5" cy="490.0" rx="1.19" ry="0.81" transform="rotate(53 182.5 490.0)"/><ellipse cx="210.9" cy="438.3" rx="1.26" ry="0.95" transform="rotate(37 210.9 438.3)"/><ellipse cx="205.9" cy="442.5" rx="1.14" ry="1.10" transform="rotate(2 205.9 442.5)"/><ellipse cx="151.0" cy="461.3" rx="1.54" ry="0.90" transform="rotate(103 151.0 461.3)"/><ellipse cx="200.2" cy="474.4" rx="1.52" ry="0.80" transform="rotate(97 200.2 474.4)"/><ellipse cx="133.9" cy="489.0" rx="1.11" ry="0.83" transform="rotate(77 133.9 489.0)"/><ellipse cx="184.7" cy="436.7" rx="1.42" ry="0.83" transform="rotate(58 184.7 436.7)"/><ellipse cx="135.7" cy="481.2" rx="1.52" ry="1.03" transform="rotate(58 135.7 481.2)"/><ellipse cx="153.3" cy="495.9" rx="1.51" ry="1.09" transform="rotate(75 153.3 495.9)"/><ellipse cx="206.6" cy="478.1" rx="1.49" ry="0.95" transform="rotate(141 206.6 478.1)"/><ellipse cx="174.3" cy="452.8" rx="1.34" ry="0.81" transform="rotate(121 174.3 452.8)"/><ellipse cx="160.5" cy="447.1" rx="1.50" ry="0.96" transform="rotate(57 160.5 447.1)"/><ellipse cx="210.3" cy="494.3" rx="1.31" ry="0.96" transform="rotate(0 210.3 494.3)"/><ellipse cx="162.3" cy="497.4" rx="1.36" ry="1.10" transform="rotate(5 162.3 497.4)"/><ellipse cx="133.6" cy="439.6" rx="1.14" ry="1.03" transform="rotate(178 133.6 439.6)"/><ellipse cx="196.6" cy="473.6" rx="1.29" ry="0.91" transform="rotate(23 196.6 473.6)"/><ellipse cx="165.7" cy="443.4" rx="1.50" ry="0.96" transform="rotate(68 165.7 443.4)"/><ellipse cx="204.2" cy="454.5" rx="1.54" ry="1.02" transform="rotate(113 204.2 454.5)"/><ellipse cx="182.5" cy="475.3" rx="1.55" ry="1.10" transform="rotate(101 182.5 475.3)"/><ellipse cx="213.5" cy="451.1" rx="1.56" ry="1.07" transform="rotate(115 213.5 451.1)"/><ellipse cx="141.4" cy="491.2" rx="1.29" ry="0.90" transform="rotate(171 141.4 491.2)"/><ellipse cx="139.5" cy="476.0" rx="1.21" ry="1.06" transform="rotate(39 139.5 476.0)"/><ellipse cx="141.1" cy="466.2" rx="1.33" ry="1.03" transform="rotate(51 141.1 466.2)"/><ellipse cx="156.8" cy="454.1" rx="1.38" ry="0.84" transform="rotate(101 156.8 454.1)"/><ellipse cx="201.6" cy="478.7" rx="1.23" ry="0.94" transform="rotate(17 201.6 478.7)"/><ellipse cx="172.0" cy="483.2" rx="1.10" ry="0.99" transform="rotate(166 172.0 483.2)"/><ellipse cx="155.8" cy="455.7" rx="1.44" ry="0.85" transform="rotate(48 155.8 455.7)"/><ellipse cx="184.4" cy="468.1" rx="1.18" ry="0.86" transform="rotate(88 184.4 468.1)"/><ellipse cx="205.6" cy="448.3" rx="1.44" ry="0.96" transform="rotate(50 205.6 448.3)"/><ellipse cx="167.1" cy="487.1" rx="1.15" ry="0.96" transform="rotate(86 167.1 487.1)"/><ellipse cx="141.4" cy="461.7" rx="1.19" ry="0.92" transform="rotate(5 141.4 461.7)"/><ellipse cx="180.1" cy="486.0" rx="1.54" ry="1.08" transform="rotate(45 180.1 486.0)"/><ellipse cx="199.9" cy="458.2" rx="1.46" ry="0.94" transform="rotate(134 199.9 458.2)"/><ellipse cx="166.0" cy="495.7" rx="1.33" ry="1.04" transform="rotate(32 166.0 495.7)"/><ellipse cx="193.8" cy="448.9" rx="1.30" ry="0.91" transform="rotate(120 193.8 448.9)"/><ellipse cx="181.0" cy="453.0" rx="1.57" ry="0.81" transform="rotate(86 181.0 453.0)"/><ellipse cx="143.1" cy="442.6" rx="1.21" ry="1.08" transform="rotate(4 143.1 442.6)"/><ellipse cx="193.1" cy="471.9" rx="1.52" ry="1.06" transform="rotate(22 193.1 471.9)"/><ellipse cx="210.4" cy="444.7" rx="1.16" ry="0.87" transform="rotate(126 210.4 444.7)"/><ellipse cx="180.8" cy="478.8" rx="1.21" ry="0.94" transform="rotate(59 180.8 478.8)"/><ellipse cx="213.6" cy="471.3" rx="1.45" ry="0.93" transform="rotate(21 213.6 471.3)"/><ellipse cx="140.3" cy="449.9" rx="1.47" ry="0.86" transform="rotate(86 140.3 449.9)"/><ellipse cx="161.0" cy="444.0" rx="1.29" ry="0.95" transform="rotate(165 161.0 444.0)"/><ellipse cx="198.1" cy="462.9" rx="1.25" ry="0.87" transform="rotate(63 198.1 462.9)"/><ellipse cx="177.1" cy="496.4" rx="1.14" ry="0.86" transform="rotate(71 177.1 496.4)"/><ellipse cx="180.0" cy="440.0" rx="1.11" ry="0.97" transform="rotate(3 180.0 440.0)"/><ellipse cx="201.8" cy="477.7" rx="1.33" ry="1.10" transform="rotate(87 201.8 477.7)"/><ellipse cx="212.1" cy="449.5" rx="1.14" ry="0.93" transform="rotate(96 212.1 449.5)"/><ellipse cx="188.4" cy="443.7" rx="1.45" ry="0.89" transform="rotate(170 188.4 443.7)"/><ellipse cx="199.6" cy="484.1" rx="1.12" ry="0.82" transform="rotate(6 199.6 484.1)"/><ellipse cx="169.6" cy="438.0" rx="1.17" ry="0.82" transform="rotate(179 169.6 438.0)"/><ellipse cx="171.6" cy="452.1" rx="1.18" ry="0.88" transform="rotate(19 171.6 452.1)"/><ellipse cx="199.6" cy="493.4" rx="1.51" ry="0.82" transform="rotate(109 199.6 493.4)"/><ellipse cx="204.4" cy="460.4" rx="1.49" ry="0.80" transform="rotate(93 204.4 460.4)"/><ellipse cx="195.1" cy="462.6" rx="1.15" ry="1.09" transform="rotate(146 195.1 462.6)"/><ellipse cx="156.2" cy="481.3" rx="1.18" ry="0.98" transform="rotate(128 156.2 481.3)"/><ellipse cx="182.8" cy="463.2" rx="1.51" ry="0.92" transform="rotate(13 182.8 463.2)"/><ellipse cx="145.1" cy="445.1" rx="1.49" ry="0.82" transform="rotate(174 145.1 445.1)"/><ellipse cx="180.9" cy="440.2" rx="1.57" ry="1.10" transform="rotate(42 180.9 440.2)"/><ellipse cx="179.7" cy="450.3" rx="1.17" ry="0.82" transform="rotate(159 179.7 450.3)"/><ellipse cx="150.9" cy="448.5" rx="1.19" ry="0.89" transform="rotate(170 150.9 448.5)"/><ellipse cx="149.8" cy="447.3" rx="1.13" ry="1.01" transform="rotate(19 149.8 447.3)"/><ellipse cx="201.5" cy="494.5" rx="1.24" ry="0.94" transform="rotate(144 201.5 494.5)"/><ellipse cx="173.4" cy="455.6" rx="1.56" ry="1.10" transform="rotate(43 173.4 455.6)"/><ellipse cx="203.5" cy="438.1" rx="1.51" ry="0.90" transform="rotate(178 203.5 438.1)"/><ellipse cx="134.3" cy="448.8" rx="1.30" ry="0.95" transform="rotate(139 134.3 448.8)"/><ellipse cx="143.3" cy="439.4" rx="1.22" ry="0.83" transform="rotate(170 143.3 439.4)"/><ellipse cx="175.7" cy="448.4" rx="1.26" ry="0.88" transform="rotate(81 175.7 448.4)"/><ellipse cx="159.4" cy="474.9" rx="1.21" ry="1.01" transform="rotate(165 159.4 474.9)"/><ellipse cx="195.9" cy="440.9" rx="1.34" ry="1.05" transform="rotate(13 195.9 440.9)"/><ellipse cx="211.6" cy="442.7" rx="1.15" ry="0.80" transform="rotate(155 211.6 442.7)"/><ellipse cx="134.4" cy="465.2" rx="1.39" ry="0.95" transform="rotate(179 134.4 465.2)"/><ellipse cx="182.7" cy="436.1" rx="1.30" ry="0.85" transform="rotate(161 182.7 436.1)"/><ellipse cx="151.4" cy="477.2" rx="1.32" ry="0.93" transform="rotate(97 151.4 477.2)"/></g>
</g>
<rect x="132.1" y="435.8" width="84.70000000000002" height="62.39999999999998" fill="none" stroke="#8a8a8a" stroke-width="0.6"/>
<rect x="204.8" y="491.7" width="11" height="5" fill="#f4f4f4" opacity="0.6"/>
<line x1="205.8" y1="496.0" x2="215.3" y2="496.0" stroke="#222" stroke-width="0.6"/>
<text x="210.5" y="495.0" font-size="3.4" text-anchor="middle" fill="#111" font-weight="bold">50&#956;m</text>
<rect x="58.2" y="387.3" width="23.39999999999999" height="16.099999999999966" fill="none" stroke="#111" stroke-width="0.9"/>
<line x1="58.2" y1="403.4" x2="38.4" y2="436.2" stroke="#222" stroke-width="0.6"/>
<line x1="81.6" y1="403.4" x2="124.6" y2="436.2" stroke="#222" stroke-width="0.6"/>
<rect x="163.4" y="387.1" width="24.799999999999983" height="16.5" fill="none" stroke="#111" stroke-width="0.9"/>
<line x1="163.4" y1="403.6" x2="132.1" y2="435.8" stroke="#222" stroke-width="0.6"/>
<line x1="188.2" y1="403.6" x2="216.8" y2="435.8" stroke="#222" stroke-width="0.6"/>
<text transform="translate(35.4,429.3) rotate(-90)" font-size="8.6" text-anchor="middle" fill="#111" textLength="31.5" lengthAdjust="spacingAndGlyphs">SLC7A11</text>
<text x="333.8" y="347.9" font-size="9.6" text-anchor="start" fill="#111" >I</text>
<text x="385.8" y="356.3" font-size="8.8" text-anchor="middle" fill="#111" >benign</text>
<text x="482.9" y="356.3" font-size="8.8" text-anchor="middle" fill="#111" >malignant</text>
<clipPath id="ih5"><rect x="348.4" y="362" width="85.80000000000001" height="62.39999999999998"/></clipPath>
<g clip-path="url(#ih5)">
<rect x="348.4" y="362" width="85.80000000000001" height="62.39999999999998" fill="#dad8de"/>
<ellipse cx="350.7" cy="365.4" rx="2.4" ry="2.1" fill="#e1e0e4" opacity="0.7" stroke="#cfccd6" stroke-width="0.3"/>
<ellipse cx="357.2" cy="365.0" rx="2.4" ry="2.1" fill="#e1e0e4" opacity="0.7" stroke="#cfccd6" stroke-width="0.3"/>
<ellipse cx="361.8" cy="365.6" rx="2.4" ry="2.1" fill="#e1e0e4" opacity="0.7" stroke="#cfccd6" stroke-width="0.3"/>
<ellipse cx="368.5" cy="365.0" rx="2.4" ry="2.1" fill="#e1e0e4" opacity="0.7" stroke="#cfccd6" stroke-width="0.3"/>
<ellipse cx="373.4" cy="364.5" rx="2.4" ry="2.1" fill="#e1e0e4" opacity="0.7" stroke="#cfccd6" stroke-width="0.3"/>
<ellipse cx="377.9" cy="364.7" rx="2.4" ry="2.1" fill="#e1e0e4" opacity="0.7" stroke="#cfccd6" stroke-width="0.3"/>
<ellipse cx="384.6" cy="364.1" rx="2.4" ry="2.1" fill="#e1e0e4" opacity="0.7" stroke="#cfccd6" stroke-width="0.3"/>
<ellipse cx="390.5" cy="364.5" rx="2.4" ry="2.1" fill="#e1e0e4" opacity="0.7" stroke="#cfccd6" stroke-width="0.3"/>
<ellipse cx="394.9" cy="364.1" rx="2.4" ry="2.1" fill="#e1e0e4" opacity="0.7" stroke="#cfccd6" stroke-width="0.3"/>
<ellipse cx="355.1" cy="370.7" rx="2.4" ry="2.1" fill="#e1e0e4" opacity="0.7" stroke="#cfccd6" stroke-width="0.3"/>
<ellipse cx="360.4" cy="370.4" rx="2.4" ry="2.1" fill="#e1e0e4" opacity="0.7" stroke="#cfccd6" stroke-width="0.3"/>
<ellipse cx="364.2" cy="369.9" rx="2.4" ry="2.1" fill="#e1e0e4" opacity="0.7" stroke="#cfccd6" stroke-width="0.3"/>
<ellipse cx="370.6" cy="369.4" rx="2.4" ry="2.1" fill="#e1e0e4" opacity="0.7" stroke="#cfccd6" stroke-width="0.3"/>
<ellipse cx="377.0" cy="369.9" rx="2.4" ry="2.1" fill="#e1e0e4" opacity="0.7" stroke="#cfccd6" stroke-width="0.3"/>
<ellipse cx="380.9" cy="370.8" rx="2.4" ry="2.1" fill="#e1e0e4" opacity="0.7" stroke="#cfccd6" stroke-width="0.3"/>
<ellipse cx="386.3" cy="371.1" rx="2.4" ry="2.1" fill="#e1e0e4" opacity="0.7" stroke="#cfccd6" stroke-width="0.3"/>
<ellipse cx="392.5" cy="370.3" rx="2.4" ry="2.1" fill="#e1e0e4" opacity="0.7" stroke="#cfccd6" stroke-width="0.3"/>
<ellipse cx="397.8" cy="370.2" rx="2.4" ry="2.1" fill="#e1e0e4" opacity="0.7" stroke="#cfccd6" stroke-width="0.3"/>
<ellipse cx="350.8" cy="374.5" rx="2.4" ry="2.1" fill="#e1e0e4" opacity="0.7" stroke="#cfccd6" stroke-width="0.3"/>
<ellipse cx="357.6" cy="374.9" rx="2.4" ry="2.1" fill="#e1e0e4" opacity="0.7" stroke="#cfccd6" stroke-width="0.3"/>
<ellipse cx="363.0" cy="374.8" rx="2.4" ry="2.1" fill="#e1e0e4" opacity="0.7" stroke="#cfccd6" stroke-width="0.3"/>
<ellipse cx="368.8" cy="376.2" rx="2.4" ry="2.1" fill="#e1e0e4" opacity="0.7" stroke="#cfccd6" stroke-width="0.3"/>
<ellipse cx="373.9" cy="375.9" rx="2.4" ry="2.1" fill="#e1e0e4" opacity="0.7" stroke="#cfccd6" stroke-width="0.3"/>
<ellipse cx="379.1" cy="375.9" rx="2.4" ry="2.1" fill="#e1e0e4" opacity="0.7" stroke="#cfccd6" stroke-width="0.3"/>
<ellipse cx="383.6" cy="375.4" rx="2.4" ry="2.1" fill="#e1e0e4" opacity="0.7" stroke="#cfccd6" stroke-width="0.3"/>
<ellipse cx="390.6" cy="374.8" rx="2.4" ry="2.1" fill="#e1e0e4" opacity="0.7" stroke="#cfccd6" stroke-width="0.3"/>
<ellipse cx="396.2" cy="376.2" rx="2.4" ry="2.1" fill="#e1e0e4" opacity="0.7" stroke="#cfccd6" stroke-width="0.3"/>
<ellipse cx="353.9" cy="380.3" rx="2.4" ry="2.1" fill="#e1e0e4" opacity="0.7" stroke="#cfccd6" stroke-width="0.3"/>
<ellipse cx="359.5" cy="380.4" rx="2.4" ry="2.1" fill="#e1e0e4" opacity="0.7" stroke="#cfccd6" stroke-width="0.3"/>
<ellipse cx="366.1" cy="380.4" rx="2.4" ry="2.1" fill="#e1e0e4" opacity="0.7" stroke="#cfccd6" stroke-width="0.3"/>
<ellipse cx="369.7" cy="379.8" rx="2.4" ry="2.1" fill="#e1e0e4" opacity="0.7" stroke="#cfccd6" stroke-width="0.3"/>
<ellipse cx="376.5" cy="381.6" rx="2.4" ry="2.1" fill="#e1e0e4" opacity="0.7" stroke="#cfccd6" stroke-width="0.3"/>
<ellipse cx="381.6" cy="380.6" rx="2.4" ry="2.1" fill="#e1e0e4" opacity="0.7" stroke="#cfccd6" stroke-width="0.3"/>
<ellipse cx="387.2" cy="381.1" rx="2.4" ry="2.1" fill="#e1e0e4" opacity="0.7" stroke="#cfccd6" stroke-width="0.3"/>
<ellipse cx="392.0" cy="380.8" rx="2.4" ry="2.1" fill="#e1e0e4" opacity="0.7" stroke="#cfccd6" stroke-width="0.3"/>
<ellipse cx="398.2" cy="380.8" rx="2.4" ry="2.1" fill="#e1e0e4" opacity="0.7" stroke="#cfccd6" stroke-width="0.3"/>
<ellipse cx="350.8" cy="385.1" rx="2.4" ry="2.1" fill="#e1e0e4" opacity="0.7" stroke="#cfccd6" stroke-width="0.3"/>
<ellipse cx="356.6" cy="386.7" rx="2.4" ry="2.1" fill="#e1e0e4" opacity="0.7" stroke="#cfccd6" stroke-width="0.3"/>
<ellipse cx="362.1" cy="386.0" rx="2.4" ry="2.1" fill="#e1e0e4" opacity="0.7" stroke="#cfccd6" stroke-width="0.3"/>
<ellipse cx="367.5" cy="385.0" rx="2.4" ry="2.1" fill="#e1e0e4" opacity="0.7" stroke="#cfccd6" stroke-width="0.3"/>
<ellipse cx="372.5" cy="386.4" rx="2.4" ry="2.1" fill="#e1e0e4" opacity="0.7" stroke="#cfccd6" stroke-width="0.3"/>
<ellipse cx="379.5" cy="385.5" rx="2.4" ry="2.1" fill="#e1e0e4" opacity="0.7" stroke="#cfccd6" stroke-width="0.3"/>
<ellipse cx="384.8" cy="386.2" rx="2.4" ry="2.1" fill="#e1e0e4" opacity="0.7" stroke="#cfccd6" stroke-width="0.3"/>
<ellipse cx="390.7" cy="386.7" rx="2.4" ry="2.1" fill="#e1e0e4" opacity="0.7" stroke="#cfccd6" stroke-width="0.3"/>
<ellipse cx="395.2" cy="386.8" rx="2.4" ry="2.1" fill="#e1e0e4" opacity="0.7" stroke="#cfccd6" stroke-width="0.3"/>
<ellipse cx="428.3" cy="405.9" rx="12.0" ry="1.5" fill="#c8c3da" opacity="0.55" transform="rotate(-35 428.3 405.9)" filter="url(#soft05)"/>
<ellipse cx="424.9" cy="402.2" rx="12.0" ry="1.5" fill="#c8c3da" opacity="0.55" transform="rotate(-35 424.9 402.2)" filter="url(#soft05)"/>
<ellipse cx="403.1" cy="393.1" rx="12.0" ry="1.5" fill="#c8c3da" opacity="0.55" transform="rotate(-35 403.1 393.1)" filter="url(#soft05)"/>
<ellipse cx="424.6" cy="389.9" rx="12.0" ry="1.5" fill="#c8c3da" opacity="0.55" transform="rotate(-35 424.6 389.9)" filter="url(#soft05)"/>
<ellipse cx="390.0" cy="414.0" rx="12.0" ry="1.5" fill="#c8c3da" opacity="0.55" transform="rotate(-35 390.0 414.0)" filter="url(#soft05)"/>
<ellipse cx="420.2" cy="401.9" rx="12.0" ry="1.5" fill="#c8c3da" opacity="0.55" transform="rotate(-35 420.2 401.9)" filter="url(#soft05)"/>
<ellipse cx="422.9" cy="385.8" rx="12.0" ry="1.5" fill="#c8c3da" opacity="0.55" transform="rotate(-35 422.9 385.8)" filter="url(#soft05)"/>
<ellipse cx="398.1" cy="394.7" rx="12.0" ry="1.5" fill="#c8c3da" opacity="0.55" transform="rotate(-35 398.1 394.7)" filter="url(#soft05)"/>
<ellipse cx="405.0" cy="390.2" rx="12.0" ry="1.5" fill="#c8c3da" opacity="0.55" transform="rotate(-35 405.0 390.2)" filter="url(#soft05)"/>
<ellipse cx="390.0" cy="396.5" rx="12.0" ry="1.5" fill="#c8c3da" opacity="0.55" transform="rotate(-35 390.0 396.5)" filter="url(#soft05)"/>
<ellipse cx="395.0" cy="390.0" rx="4.0" ry="2.5" fill="#c9c4dc" opacity="0.8" filter="url(#soft05)"/>
<ellipse cx="400.0" cy="386.0" rx="3.0" ry="2.0" fill="#c9c4dc" opacity="0.8" filter="url(#soft05)"/>
<ellipse cx="380.0" cy="384.0" rx="2.0" ry="3.0" fill="#c9c4dc" opacity="0.8" filter="url(#soft05)"/>
<ellipse cx="360.0" cy="398.0" rx="5.0" ry="4.0" fill="#c9c4dc" opacity="0.8" filter="url(#soft05)"/>
<ellipse cx="366.0" cy="396.0" rx="4.0" ry="3.0" fill="#c9c4dc" opacity="0.8" filter="url(#soft05)"/>
<ellipse cx="370.0" cy="411.0" rx="6.0" ry="2.5" fill="#c9c4dc" opacity="0.8" transform="rotate(-10 370.0 411.0)" filter="url(#soft05)"/>
<ellipse cx="385.0" cy="405.0" rx="5.0" ry="2.0" fill="#c9c4dc" opacity="0.8" transform="rotate(-30 385.0 405.0)" filter="url(#soft05)"/>
<ellipse cx="410.0" cy="409.0" rx="2.6" ry="5.5" fill="#efeef0" opacity="1" stroke="#a9a3c9" stroke-width="0.8" transform="rotate(-25 410.0 409.0)"/>
<ellipse cx="418.0" cy="398.0" rx="2.5" ry="4.0" fill="#cbc6dd" opacity="0.8" filter="url(#soft05)"/>
<g fill="#9a93bb" opacity="0.5"><circle cx="425.5" cy="423.4" r="0.36"/><circle cx="389.5" cy="377.7" r="0.39"/><circle cx="393.5" cy="407.5" r="0.25"/><circle cx="366.6" cy="414.3" r="0.37"/><circle cx="424.0" cy="399.5" r="0.31"/><circle cx="398.3" cy="415.0" r="0.30"/><circle cx="394.2" cy="379.2" r="0.37"/><circle cx="349.3" cy="404.8" r="0.39"/><circle cx="350.4" cy="399.0" r="0.35"/><circle cx="421.5" cy="398.5" r="0.29"/><circle cx="383.2" cy="421.8" r="0.39"/><circle cx="359.9" cy="367.9" r="0.26"/><circle cx="350.6" cy="389.9" r="0.27"/><circle cx="422.8" cy="402.9" r="0.27"/><circle cx="394.6" cy="382.2" r="0.32"/><circle cx="367.2" cy="372.4" r="0.28"/><circle cx="380.8" cy="406.3" r="0.33"/><circle cx="352.4" cy="406.4" r="0.38"/><circle cx="414.8" cy="411.3" r="0.25"/><circle cx="388.2" cy="366.0" r="0.36"/><circle cx="363.4" cy="406.4" r="0.29"/><circle cx="408.2" cy="381.6" r="0.26"/><circle cx="381.8" cy="381.3" r="0.39"/><circle cx="373.7" cy="393.4" r="0.33"/><circle cx="429.8" cy="368.2" r="0.34"/><circle cx="392.0" cy="407.8" r="0.40"/><circle cx="375.0" cy="405.6" r="0.33"/><circle cx="396.5" cy="366.0" r="0.37"/><circle cx="432.2" cy="384.2" r="0.30"/><circle cx="433.6" cy="368.7" r="0.26"/><circle cx="354.7" cy="412.8" r="0.36"/><circle cx="386.8" cy="400.8" r="0.25"/><circle cx="403.7" cy="389.6" r="0.33"/><circle cx="381.8" cy="387.1" r="0.28"/><circle cx="352.6" cy="389.1" r="0.29"/><circle cx="408.8" cy="413.0" r="0.36"/><circle cx="387.5" cy="376.8" r="0.31"/><circle cx="390.2" cy="401.4" r="0.39"/><circle cx="355.7" cy="391.9" r="0.32"/><circle cx="409.9" cy="417.6" r="0.37"/><circle cx="402.2" cy="409.3" r="0.35"/><circle cx="422.1" cy="405.6" r="0.35"/><circle cx="369.4" cy="419.2" r="0.31"/><circle cx="401.1" cy="413.5" r="0.39"/><circle cx="433.3" cy="362.4" r="0.30"/><circle cx="375.1" cy="386.4" r="0.27"/><circle cx="395.9" cy="367.0" r="0.30"/><circle cx="429.4" cy="408.3" r="0.32"/><circle cx="357.7" cy="421.7" r="0.36"/><circle cx="366.1" cy="382.9" r="0.35"/><circle cx="406.9" cy="378.3" r="0.39"/><circle cx="376.0" cy="377.9" r="0.38"/><circle cx="361.6" cy="404.5" r="0.28"/><circle cx="399.7" cy="379.3" r="0.31"/><circle cx="429.1" cy="391.1" r="0.32"/><circle cx="401.3" cy="379.5" r="0.28"/><circle cx="381.4" cy="379.0" r="0.28"/><circle cx="430.8" cy="364.1" r="0.37"/><circle cx="428.6" cy="406.0" r="0.25"/><circle cx="391.4" cy="364.5" r="0.34"/></g>
</g>
<rect x="348.4" y="362" width="85.80000000000001" height="62.39999999999998" fill="none" stroke="#8a8a8a" stroke-width="0.6"/>
<rect x="422.2" y="417.9" width="11" height="5" fill="#f4f4f4" opacity="0.6"/>
<line x1="423.2" y1="422.2" x2="432.7" y2="422.2" stroke="#222" stroke-width="0.6"/>
<text x="427.9" y="421.2" font-size="3.4" text-anchor="middle" fill="#111" font-weight="bold">200&#956;m</text>
<clipPath id="ih6"><rect x="440.7" y="362" width="84.90000000000003" height="62.30000000000001"/></clipPath>
<g clip-path="url(#ih6)">
<rect x="440.7" y="362" width="84.90000000000003" height="62.30000000000001" fill="#d6d4de"/>
<ellipse cx="447.5" cy="390.0" rx="7.0" ry="20.0" fill="#ced0e2" opacity="0.8" filter="url(#soft2)"/>
<ellipse cx="463.0" cy="386.0" rx="17.0" ry="21.0" fill="#d9cdbd" opacity="0.95" filter="url(#soft)"/>
<ellipse cx="493.0" cy="374.0" rx="14.0" ry="10.0" fill="#d9cdbd" opacity="0.95" filter="url(#soft)"/>
<ellipse cx="516.0" cy="380.0" rx="11.0" ry="14.0" fill="#d9cdbd" opacity="0.95" filter="url(#soft)"/>
<ellipse cx="503.0" cy="401.0" rx="22.0" ry="14.0" fill="#d9cdbd" opacity="0.95" filter="url(#soft)"/>
<ellipse cx="449.0" cy="418.0" rx="10.0" ry="10.0" fill="#d9cdbd" opacity="0.95" filter="url(#soft)"/>
<ellipse cx="476.0" cy="415.0" rx="13.0" ry="11.0" fill="#d9cdbd" opacity="0.95" filter="url(#soft)"/>
<ellipse cx="446.0" cy="370.0" rx="7.0" ry="9.0" fill="#d9cdbd" opacity="0.95" filter="url(#soft)"/>
<ellipse cx="521.0" cy="417.0" rx="8.0" ry="11.0" fill="#d9cdbd" opacity="0.95" filter="url(#soft)"/>
<ellipse cx="499.2" cy="414.7" rx="4.0" ry="3.5" fill="#f2f1f2" opacity="1" filter="url(#soft05)"/>
<ellipse cx="463.0" cy="379.0" rx="2.5" ry="3.0" fill="#ebe6e4" opacity="0.9" filter="url(#soft05)"/>
<g fill="#8f88b5" opacity="0.45"><circle cx="522.1" cy="370.7" r="0.25"/><circle cx="525.5" cy="373.5" r="0.27"/><circle cx="496.0" cy="383.5" r="0.43"/><circle cx="460.4" cy="421.8" r="0.31"/><circle cx="491.7" cy="420.1" r="0.39"/><circle cx="519.1" cy="406.1" r="0.26"/><circle cx="515.5" cy="398.7" r="0.31"/><circle cx="456.8" cy="414.9" r="0.37"/><circle cx="520.3" cy="410.2" r="0.44"/><circle cx="488.8" cy="405.5" r="0.37"/><circle cx="462.6" cy="421.6" r="0.31"/><circle cx="507.0" cy="421.5" r="0.38"/><circle cx="452.8" cy="413.4" r="0.38"/><circle cx="456.4" cy="365.1" r="0.36"/><circle cx="443.4" cy="419.6" r="0.35"/><circle cx="484.6" cy="387.5" r="0.38"/><circle cx="518.5" cy="381.1" r="0.32"/><circle cx="490.2" cy="380.5" r="0.37"/><circle cx="486.8" cy="389.0" r="0.38"/><circle cx="485.5" cy="367.5" r="0.45"/><circle cx="470.9" cy="388.9" r="0.33"/><circle cx="519.6" cy="421.3" r="0.35"/><circle cx="474.7" cy="368.0" r="0.43"/><circle cx="455.3" cy="396.1" r="0.32"/><circle cx="468.6" cy="384.3" r="0.29"/><circle cx="443.8" cy="395.4" r="0.41"/><circle cx="495.6" cy="374.6" r="0.39"/><circle cx="445.1" cy="387.6" r="0.42"/><circle cx="518.9" cy="390.7" r="0.42"/><circle cx="483.0" cy="394.6" r="0.37"/><circle cx="524.9" cy="408.3" r="0.34"/><circle cx="502.4" cy="402.1" r="0.32"/><circle cx="507.3" cy="413.1" r="0.37"/><circle cx="520.7" cy="363.1" r="0.35"/><circle cx="494.6" cy="383.2" r="0.28"/><circle cx="499.5" cy="389.1" r="0.30"/><circle cx="444.3" cy="422.3" r="0.32"/><circle cx="450.7" cy="375.5" r="0.30"/><circle cx="514.2" cy="373.3" r="0.31"/><circle cx="449.0" cy="391.3" r="0.29"/><circle cx="469.9" cy="407.8" r="0.44"/><circle cx="511.5" cy="364.4" r="0.33"/><circle cx="512.8" cy="364.1" r="0.29"/><circle cx="482.3" cy="385.8" r="0.40"/><circle cx="501.7" cy="390.9" r="0.30"/><circle cx="460.3" cy="378.6" r="0.26"/><circle cx="497.2" cy="371.8" r="0.43"/><circle cx="495.5" cy="365.5" r="0.35"/><circle cx="492.0" cy="364.6" r="0.35"/><circle cx="443.2" cy="409.7" r="0.25"/><circle cx="494.4" cy="423.4" r="0.42"/><circle cx="460.5" cy="395.3" r="0.28"/><circle cx="469.8" cy="415.8" r="0.41"/><circle cx="441.5" cy="385.7" r="0.38"/><circle cx="455.6" cy="412.0" r="0.43"/><circle cx="487.5" cy="384.6" r="0.42"/><circle cx="484.2" cy="373.7" r="0.31"/><circle cx="454.2" cy="414.3" r="0.35"/><circle cx="499.8" cy="412.9" r="0.44"/><circle cx="456.9" cy="387.3" r="0.42"/><circle cx="505.4" cy="386.1" r="0.38"/><circle cx="457.3" cy="372.1" r="0.26"/><circle cx="472.9" cy="376.7" r="0.35"/><circle cx="523.0" cy="371.5" r="0.36"/><circle cx="514.1" cy="399.3" r="0.36"/><circle cx="505.9" cy="363.4" r="0.44"/><circle cx="499.0" cy="412.3" r="0.42"/><circle cx="449.1" cy="366.1" r="0.29"/><circle cx="483.6" cy="420.5" r="0.43"/><circle cx="475.7" cy="400.8" r="0.40"/><circle cx="468.9" cy="422.5" r="0.44"/><circle cx="502.4" cy="418.2" r="0.41"/><circle cx="496.1" cy="382.0" r="0.31"/><circle cx="460.9" cy="365.6" r="0.44"/><circle cx="466.0" cy="363.5" r="0.31"/><circle cx="449.5" cy="389.7" r="0.32"/><circle cx="455.6" cy="391.7" r="0.33"/><circle cx="470.8" cy="412.7" r="0.31"/><circle cx="486.7" cy="416.7" r="0.44"/><circle cx="472.5" cy="364.5" r="0.44"/></g>
<ellipse cx="458.0" cy="383.0" rx="0.7" ry="0.7" fill="#334" opacity="1"/>
</g>
<rect x="440.7" y="362" width="84.90000000000003" height="62.30000000000001" fill="none" stroke="#8a8a8a" stroke-width="0.6"/>
<rect x="513.6" y="417.8" width="11" height="5" fill="#f4f4f4" opacity="0.6"/>
<line x1="514.6" y1="422.1" x2="524.1" y2="422.1" stroke="#222" stroke-width="0.6"/>
<text x="519.3000000000001" y="421.1" font-size="3.4" text-anchor="middle" fill="#111" font-weight="bold">200&#956;m</text>
<clipPath id="ih7"><rect x="348.4" y="436" width="85.30000000000001" height="62.39999999999998"/></clipPath>
<g clip-path="url(#ih7)">
<rect x="348.4" y="436" width="85.30000000000001" height="62.39999999999998" fill="#e4e3e7"/>
<ellipse cx="375.4" cy="451.4" rx="12.0" ry="10.0" fill="#d3d0e0" opacity="0.95" filter="url(#soft05)"/>
<g fill="#7a72bc" opacity="0.55"><circle cx="383.6" cy="458.6" r="0.57"/><circle cx="367.4" cy="452.9" r="0.46"/><circle cx="376.0" cy="445.5" r="0.40"/><circle cx="374.3" cy="446.9" r="0.46"/><circle cx="366.3" cy="444.8" r="0.53"/><circle cx="373.9" cy="451.6" r="0.53"/><circle cx="372.7" cy="444.3" r="0.55"/><circle cx="377.1" cy="453.9" r="0.51"/><circle cx="384.4" cy="449.2" r="0.54"/><circle cx="372.9" cy="452.6" r="0.52"/><circle cx="371.8" cy="444.8" r="0.47"/><circle cx="379.6" cy="452.8" r="0.46"/><circle cx="378.1" cy="446.3" r="0.39"/><circle cx="372.0" cy="456.5" r="0.40"/><circle cx="368.0" cy="445.0" r="0.36"/><circle cx="371.1" cy="452.6" r="0.56"/><circle cx="372.2" cy="449.3" r="0.42"/><circle cx="371.7" cy="455.8" r="0.49"/><circle cx="370.8" cy="445.1" r="0.55"/><circle cx="379.4" cy="456.7" r="0.41"/><circle cx="376.3" cy="458.1" r="0.50"/><circle cx="384.0" cy="446.1" r="0.59"/><circle cx="366.9" cy="450.1" r="0.36"/><circle cx="381.3" cy="454.4" r="0.59"/><circle cx="381.3" cy="458.6" r="0.48"/><circle cx="384.8" cy="455.4" r="0.44"/><circle cx="384.5" cy="449.4" r="0.40"/><circle cx="367.3" cy="450.9" r="0.40"/><circle cx="383.7" cy="458.6" r="0.40"/><circle cx="367.8" cy="451.9" r="0.39"/><circle cx="376.2" cy="456.4" r="0.41"/><circle cx="373.9" cy="457.8" r="0.46"/><circle cx="372.4" cy="457.7" r="0.55"/><circle cx="383.0" cy="454.4" r="0.45"/><circle cx="379.1" cy="456.7" r="0.51"/><circle cx="370.4" cy="448.1" r="0.45"/><circle cx="380.6" cy="452.3" r="0.49"/><circle cx="381.7" cy="445.1" r="0.51"/><circle cx="372.2" cy="452.3" r="0.56"/><circle cx="370.6" cy="458.6" r="0.37"/><circle cx="376.6" cy="452.1" r="0.41"/><circle cx="376.6" cy="450.9" r="0.46"/><circle cx="379.6" cy="443.5" r="0.44"/><circle cx="380.9" cy="445.7" r="0.57"/><circle cx="369.7" cy="454.3" r="0.39"/><circle cx="374.4" cy="450.2" r="0.37"/><circle cx="379.2" cy="451.1" r="0.52"/><circle cx="376.2" cy="452.3" r="0.48"/><circle cx="371.5" cy="457.8" r="0.37"/><circle cx="382.6" cy="457.2" r="0.47"/><circle cx="380.7" cy="454.2" r="0.50"/><circle cx="371.4" cy="448.5" r="0.44"/><circle cx="371.6" cy="458.8" r="0.44"/><circle cx="373.2" cy="450.1" r="0.55"/></g>
<ellipse cx="370.0" cy="466.6" rx="9.0" ry="11.0" fill="#d3d0e0" opacity="0.95" filter="url(#soft05)"/>
<g fill="#7a72bc" opacity="0.55"><circle cx="369.7" cy="467.5" r="0.41"/><circle cx="366.8" cy="459.4" r="0.40"/><circle cx="366.6" cy="472.8" r="0.48"/><circle cx="364.4" cy="465.9" r="0.38"/><circle cx="371.0" cy="465.6" r="0.56"/><circle cx="366.5" cy="472.8" r="0.41"/><circle cx="376.9" cy="469.0" r="0.36"/><circle cx="374.4" cy="462.7" r="0.44"/><circle cx="364.9" cy="472.5" r="0.37"/><circle cx="373.4" cy="464.8" r="0.52"/><circle cx="367.0" cy="459.2" r="0.58"/><circle cx="372.2" cy="460.8" r="0.59"/><circle cx="375.9" cy="461.0" r="0.35"/><circle cx="371.6" cy="460.2" r="0.53"/><circle cx="369.6" cy="470.3" r="0.49"/><circle cx="373.9" cy="472.3" r="0.50"/><circle cx="371.3" cy="463.6" r="0.38"/><circle cx="364.1" cy="472.9" r="0.40"/><circle cx="368.9" cy="463.4" r="0.50"/><circle cx="370.5" cy="472.9" r="0.46"/><circle cx="368.0" cy="469.3" r="0.54"/><circle cx="376.1" cy="463.3" r="0.57"/><circle cx="376.9" cy="475.1" r="0.38"/><circle cx="368.3" cy="471.4" r="0.56"/><circle cx="363.4" cy="464.8" r="0.53"/><circle cx="373.7" cy="467.2" r="0.40"/><circle cx="368.7" cy="458.8" r="0.43"/><circle cx="369.0" cy="472.3" r="0.50"/><circle cx="368.8" cy="462.1" r="0.43"/><circle cx="372.5" cy="465.6" r="0.39"/><circle cx="374.6" cy="467.9" r="0.59"/><circle cx="370.5" cy="468.8" r="0.46"/><circle cx="371.6" cy="474.0" r="0.60"/><circle cx="372.3" cy="465.4" r="0.37"/><circle cx="374.9" cy="464.7" r="0.45"/><circle cx="363.6" cy="458.4" r="0.45"/><circle cx="376.8" cy="470.8" r="0.53"/><circle cx="372.4" cy="462.6" r="0.39"/><circle cx="371.5" cy="458.9" r="0.50"/><circle cx="370.2" cy="467.3" r="0.38"/><circle cx="363.8" cy="466.1" r="0.39"/><circle cx="372.0" cy="463.2" r="0.51"/><circle cx="373.6" cy="468.5" r="0.48"/><circle cx="365.6" cy="463.9" r="0.59"/></g>
<ellipse cx="379.6" cy="480.4" rx="9.0" ry="8.0" fill="#d3d0e0" opacity="0.95" filter="url(#soft05)"/>
<g fill="#7a72bc" opacity="0.55"><circle cx="376.3" cy="477.6" r="0.47"/><circle cx="380.3" cy="484.1" r="0.42"/><circle cx="386.3" cy="474.3" r="0.55"/><circle cx="380.6" cy="485.5" r="0.39"/><circle cx="382.3" cy="486.1" r="0.52"/><circle cx="374.0" cy="485.8" r="0.59"/><circle cx="374.0" cy="484.6" r="0.37"/><circle cx="373.6" cy="484.2" r="0.53"/><circle cx="386.2" cy="482.1" r="0.48"/><circle cx="376.3" cy="481.3" r="0.60"/><circle cx="381.7" cy="485.2" r="0.40"/><circle cx="383.0" cy="483.4" r="0.37"/><circle cx="384.2" cy="476.3" r="0.40"/><circle cx="373.3" cy="482.5" r="0.39"/><circle cx="386.5" cy="474.0" r="0.55"/><circle cx="383.3" cy="481.3" r="0.49"/><circle cx="383.9" cy="482.1" r="0.38"/><circle cx="383.9" cy="478.5" r="0.50"/><circle cx="379.8" cy="485.6" r="0.45"/><circle cx="384.7" cy="475.0" r="0.43"/><circle cx="382.1" cy="481.8" r="0.56"/><circle cx="375.4" cy="484.3" r="0.55"/><circle cx="374.5" cy="475.8" r="0.50"/><circle cx="386.4" cy="481.9" r="0.46"/><circle cx="379.7" cy="484.4" r="0.48"/><circle cx="380.1" cy="481.6" r="0.58"/><circle cx="383.9" cy="484.7" r="0.42"/><circle cx="381.0" cy="484.5" r="0.53"/><circle cx="386.1" cy="485.7" r="0.38"/><circle cx="379.7" cy="478.6" r="0.40"/><circle cx="379.6" cy="486.6" r="0.54"/><circle cx="373.8" cy="477.2" r="0.44"/></g>
<ellipse cx="404.5" cy="466.6" rx="17.0" ry="15.0" fill="#d3d0e0" opacity="0.95" filter="url(#soft05)"/>
<g fill="#7a72bc" opacity="0.55"><circle cx="415.0" cy="465.6" r="0.39"/><circle cx="405.9" cy="460.5" r="0.36"/><circle cx="407.0" cy="478.4" r="0.54"/><circle cx="410.9" cy="458.3" r="0.49"/><circle cx="408.2" cy="472.8" r="0.46"/><circle cx="392.3" cy="476.9" r="0.42"/><circle cx="411.0" cy="465.7" r="0.54"/><circle cx="400.1" cy="456.8" r="0.46"/><circle cx="404.0" cy="473.6" r="0.45"/><circle cx="409.0" cy="463.6" r="0.53"/><circle cx="395.6" cy="475.7" r="0.59"/><circle cx="391.5" cy="475.2" r="0.54"/><circle cx="409.7" cy="457.1" r="0.53"/><circle cx="411.9" cy="469.6" r="0.59"/><circle cx="416.7" cy="469.8" r="0.58"/><circle cx="394.8" cy="461.8" r="0.48"/><circle cx="405.1" cy="477.5" r="0.51"/><circle cx="407.8" cy="469.5" r="0.59"/><circle cx="401.8" cy="472.3" r="0.50"/><circle cx="401.8" cy="462.7" r="0.39"/><circle cx="391.2" cy="462.7" r="0.43"/><circle cx="393.1" cy="466.3" r="0.44"/><circle cx="416.1" cy="473.3" r="0.52"/><circle cx="413.9" cy="461.2" r="0.38"/><circle cx="407.5" cy="460.1" r="0.60"/><circle cx="402.5" cy="475.9" r="0.41"/><circle cx="393.4" cy="469.6" r="0.52"/><circle cx="397.9" cy="476.8" r="0.59"/><circle cx="409.6" cy="478.2" r="0.60"/><circle cx="394.9" cy="472.1" r="0.54"/><circle cx="410.8" cy="462.7" r="0.49"/><circle cx="406.9" cy="475.0" r="0.36"/><circle cx="401.1" cy="462.2" r="0.55"/><circle cx="394.1" cy="456.1" r="0.38"/><circle cx="394.1" cy="465.0" r="0.57"/><circle cx="400.6" cy="457.0" r="0.52"/><circle cx="399.9" cy="468.3" r="0.54"/><circle cx="403.3" cy="472.2" r="0.50"/><circle cx="414.1" cy="472.9" r="0.58"/><circle cx="411.2" cy="461.4" r="0.48"/><circle cx="411.9" cy="473.4" r="0.53"/><circle cx="413.8" cy="474.4" r="0.49"/><circle cx="408.3" cy="455.7" r="0.47"/><circle cx="410.7" cy="476.5" r="0.56"/><circle cx="402.8" cy="460.1" r="0.57"/><circle cx="408.8" cy="459.2" r="0.36"/><circle cx="414.8" cy="468.4" r="0.38"/><circle cx="417.8" cy="468.7" r="0.54"/><circle cx="412.8" cy="460.7" r="0.48"/><circle cx="395.6" cy="469.3" r="0.46"/><circle cx="412.4" cy="457.4" r="0.40"/><circle cx="401.4" cy="454.6" r="0.45"/><circle cx="417.1" cy="475.4" r="0.40"/><circle cx="413.5" cy="460.0" r="0.41"/><circle cx="408.2" cy="461.7" r="0.40"/><circle cx="393.2" cy="458.8" r="0.40"/><circle cx="415.7" cy="455.6" r="0.49"/><circle cx="396.7" cy="471.9" r="0.35"/><circle cx="401.0" cy="472.3" r="0.36"/><circle cx="402.1" cy="462.4" r="0.47"/><circle cx="408.0" cy="456.5" r="0.57"/><circle cx="398.2" cy="473.1" r="0.38"/><circle cx="393.5" cy="459.2" r="0.37"/><circle cx="397.6" cy="457.9" r="0.37"/><circle cx="414.1" cy="467.3" r="0.47"/><circle cx="404.7" cy="474.1" r="0.36"/><circle cx="392.1" cy="470.6" r="0.35"/><circle cx="404.7" cy="469.6" r="0.56"/><circle cx="390.9" cy="464.2" r="0.43"/><circle cx="406.7" cy="455.4" r="0.54"/><circle cx="416.9" cy="467.8" r="0.52"/><circle cx="413.6" cy="474.9" r="0.55"/><circle cx="404.2" cy="456.7" r="0.55"/><circle cx="413.8" cy="471.4" r="0.43"/><circle cx="417.4" cy="469.5" r="0.43"/><circle cx="412.3" cy="460.0" r="0.41"/><circle cx="415.5" cy="455.9" r="0.57"/><circle cx="401.7" cy="468.3" r="0.52"/><circle cx="415.5" cy="459.9" r="0.37"/><circle cx="404.8" cy="460.0" r="0.46"/><circle cx="393.9" cy="456.8" r="0.49"/><circle cx="392.3" cy="461.0" r="0.45"/><circle cx="393.5" cy="473.9" r="0.58"/><circle cx="391.8" cy="474.0" r="0.39"/><circle cx="410.7" cy="456.1" r="0.54"/><circle cx="416.3" cy="460.8" r="0.39"/><circle cx="400.2" cy="475.2" r="0.55"/><circle cx="395.2" cy="476.2" r="0.53"/><circle cx="416.9" cy="477.9" r="0.39"/><circle cx="410.7" cy="455.2" r="0.40"/><circle cx="405.5" cy="460.2" r="0.40"/><circle cx="400.6" cy="465.6" r="0.58"/><circle cx="406.7" cy="467.9" r="0.53"/><circle cx="396.0" cy="473.9" r="0.54"/><circle cx="413.0" cy="465.4" r="0.49"/><circle cx="392.9" cy="465.6" r="0.51"/><circle cx="416.7" cy="476.1" r="0.43"/><circle cx="411.5" cy="475.1" r="0.59"/><circle cx="409.4" cy="462.5" r="0.57"/><circle cx="391.3" cy="468.2" r="0.46"/><circle cx="414.9" cy="469.5" r="0.40"/><circle cx="395.4" cy="455.5" r="0.54"/><circle cx="412.2" cy="463.6" r="0.41"/><circle cx="406.1" cy="459.3" r="0.48"/><circle cx="400.2" cy="462.3" r="0.52"/><circle cx="397.7" cy="462.6" r="0.49"/><circle cx="416.5" cy="458.2" r="0.43"/><circle cx="398.3" cy="462.2" r="0.47"/><circle cx="413.2" cy="458.9" r="0.53"/><circle cx="402.7" cy="468.3" r="0.48"/><circle cx="407.3" cy="458.9" r="0.50"/><circle cx="401.8" cy="473.4" r="0.50"/><circle cx="402.0" cy="478.3" r="0.39"/><circle cx="391.3" cy="457.6" r="0.52"/></g>
<ellipse cx="423.8" cy="465.2" rx="8.0" ry="10.0" fill="#d3d0e0" opacity="0.95" filter="url(#soft05)"/>
<g fill="#7a72bc" opacity="0.55"><circle cx="418.6" cy="469.0" r="0.37"/><circle cx="421.2" cy="467.2" r="0.36"/><circle cx="422.9" cy="473.2" r="0.53"/><circle cx="422.4" cy="471.7" r="0.49"/><circle cx="427.8" cy="462.7" r="0.45"/><circle cx="426.4" cy="469.4" r="0.52"/><circle cx="419.3" cy="463.9" r="0.43"/><circle cx="420.4" cy="459.1" r="0.54"/><circle cx="419.2" cy="462.9" r="0.35"/><circle cx="426.4" cy="467.2" r="0.37"/><circle cx="429.6" cy="473.1" r="0.54"/><circle cx="427.7" cy="468.5" r="0.36"/><circle cx="420.9" cy="461.0" r="0.36"/><circle cx="425.6" cy="466.7" r="0.44"/><circle cx="427.0" cy="460.9" r="0.42"/><circle cx="418.9" cy="461.0" r="0.56"/><circle cx="423.7" cy="469.0" r="0.57"/><circle cx="425.9" cy="463.0" r="0.59"/><circle cx="418.4" cy="463.8" r="0.57"/><circle cx="426.1" cy="462.9" r="0.56"/><circle cx="427.1" cy="468.8" r="0.42"/><circle cx="426.1" cy="467.7" r="0.56"/><circle cx="424.0" cy="472.1" r="0.53"/><circle cx="420.1" cy="466.5" r="0.40"/><circle cx="425.3" cy="462.4" r="0.60"/><circle cx="421.8" cy="469.8" r="0.56"/><circle cx="422.2" cy="466.6" r="0.41"/><circle cx="422.2" cy="464.2" r="0.53"/><circle cx="423.9" cy="459.8" r="0.51"/><circle cx="424.0" cy="465.6" r="0.46"/><circle cx="428.5" cy="467.7" r="0.52"/><circle cx="423.8" cy="463.6" r="0.46"/><circle cx="426.1" cy="464.2" r="0.37"/><circle cx="420.2" cy="458.1" r="0.36"/><circle cx="422.0" cy="463.2" r="0.46"/><circle cx="420.0" cy="460.9" r="0.46"/></g>
<ellipse cx="354.7" cy="481.8" rx="6.0" ry="6.0" fill="#d3d0e0" opacity="0.95" filter="url(#soft05)"/>
<g fill="#7a72bc" opacity="0.55"><circle cx="352.7" cy="479.5" r="0.47"/><circle cx="357.2" cy="477.6" r="0.35"/><circle cx="354.2" cy="485.6" r="0.51"/><circle cx="353.4" cy="486.3" r="0.52"/><circle cx="357.8" cy="485.1" r="0.36"/><circle cx="351.8" cy="484.6" r="0.45"/><circle cx="358.5" cy="477.7" r="0.58"/><circle cx="355.9" cy="480.9" r="0.56"/><circle cx="355.0" cy="481.4" r="0.40"/><circle cx="357.4" cy="478.4" r="0.43"/><circle cx="350.7" cy="477.2" r="0.42"/><circle cx="350.3" cy="481.5" r="0.44"/><circle cx="350.1" cy="481.5" r="0.42"/><circle cx="352.1" cy="482.2" r="0.43"/><circle cx="350.4" cy="485.9" r="0.59"/><circle cx="352.2" cy="483.3" r="0.50"/></g>
<ellipse cx="390.6" cy="443.0" rx="5.0" ry="4.0" fill="#d3d0e0" opacity="0.95" filter="url(#soft05)"/>
<g fill="#7a72bc" opacity="0.55"><circle cx="388.6" cy="443.2" r="0.42"/><circle cx="388.8" cy="442.7" r="0.36"/><circle cx="388.4" cy="446.1" r="0.54"/><circle cx="389.3" cy="446.2" r="0.43"/><circle cx="393.4" cy="441.9" r="0.57"/><circle cx="390.2" cy="445.4" r="0.38"/><circle cx="389.8" cy="442.0" r="0.55"/><circle cx="393.5" cy="440.7" r="0.45"/><circle cx="388.0" cy="440.2" r="0.38"/></g>
<g fill="#7a72bc" opacity="0.6"><circle cx="354.7" cy="454.8" r="0.46"/><circle cx="425.6" cy="476.7" r="0.54"/><circle cx="376.6" cy="456.1" r="0.45"/><circle cx="368.3" cy="437.2" r="0.42"/><circle cx="427.6" cy="439.2" r="0.48"/><circle cx="368.2" cy="483.6" r="0.36"/><circle cx="391.9" cy="481.2" r="0.47"/><circle cx="360.6" cy="491.5" r="0.35"/><circle cx="427.4" cy="487.1" r="0.57"/><circle cx="422.2" cy="459.1" r="0.51"/><circle cx="388.5" cy="472.5" r="0.44"/><circle cx="421.3" cy="455.2" r="0.49"/><circle cx="354.2" cy="439.7" r="0.57"/><circle cx="378.8" cy="459.4" r="0.60"/><circle cx="410.0" cy="445.7" r="0.49"/><circle cx="389.6" cy="473.7" r="0.42"/><circle cx="371.9" cy="494.9" r="0.50"/><circle cx="395.4" cy="479.2" r="0.54"/><circle cx="363.7" cy="484.9" r="0.47"/><circle cx="361.2" cy="455.7" r="0.60"/><circle cx="420.5" cy="492.4" r="0.48"/><circle cx="402.7" cy="460.7" r="0.53"/><circle cx="394.1" cy="458.3" r="0.59"/><circle cx="391.1" cy="438.5" r="0.55"/><circle cx="356.6" cy="453.5" r="0.46"/><circle cx="366.5" cy="464.0" r="0.46"/><circle cx="393.6" cy="476.7" r="0.52"/><circle cx="352.7" cy="450.8" r="0.38"/><circle cx="376.8" cy="464.5" r="0.56"/><circle cx="349.6" cy="486.6" r="0.39"/><circle cx="411.6" cy="488.9" r="0.60"/><circle cx="397.5" cy="439.5" r="0.42"/><circle cx="385.6" cy="478.1" r="0.59"/><circle cx="423.2" cy="439.9" r="0.38"/><circle cx="404.0" cy="448.9" r="0.50"/><circle cx="391.8" cy="470.0" r="0.44"/><circle cx="426.0" cy="454.3" r="0.44"/><circle cx="362.2" cy="454.1" r="0.38"/><circle cx="402.9" cy="437.3" r="0.41"/><circle cx="417.3" cy="489.2" r="0.43"/><circle cx="411.1" cy="486.5" r="0.51"/><circle cx="401.4" cy="483.0" r="0.43"/><circle cx="376.6" cy="452.0" r="0.41"/><circle cx="392.2" cy="469.7" r="0.40"/><circle cx="355.7" cy="437.5" r="0.40"/><circle cx="361.7" cy="474.8" r="0.55"/><circle cx="394.0" cy="476.2" r="0.46"/><circle cx="354.8" cy="482.6" r="0.54"/><circle cx="361.0" cy="455.4" r="0.52"/><circle cx="408.6" cy="446.2" r="0.45"/><circle cx="381.3" cy="470.1" r="0.56"/><circle cx="360.9" cy="459.5" r="0.58"/><circle cx="363.5" cy="447.0" r="0.55"/><circle cx="401.6" cy="465.7" r="0.46"/><circle cx="353.7" cy="476.0" r="0.42"/><circle cx="386.0" cy="494.0" r="0.47"/><circle cx="382.1" cy="458.0" r="0.42"/><circle cx="401.1" cy="480.7" r="0.38"/><circle cx="348.8" cy="460.6" r="0.39"/><circle cx="399.5" cy="446.0" r="0.48"/></g>
<g fill="#8a4a30" opacity="0.7"><circle cx="381.2" cy="478.7" r="0.46"/><circle cx="370.3" cy="454.9" r="0.53"/><circle cx="369.2" cy="451.3" r="0.54"/><circle cx="384.0" cy="444.9" r="0.57"/><circle cx="363.4" cy="453.3" r="0.51"/><circle cx="380.3" cy="470.9" r="0.43"/><circle cx="390.4" cy="448.9" r="0.42"/><circle cx="392.7" cy="471.3" r="0.42"/><circle cx="358.6" cy="449.8" r="0.51"/><circle cx="358.5" cy="477.8" r="0.40"/><circle cx="394.9" cy="472.4" r="0.48"/><circle cx="398.6" cy="448.8" r="0.55"/><circle cx="386.3" cy="474.1" r="0.56"/><circle cx="397.2" cy="474.6" r="0.45"/><circle cx="358.5" cy="448.7" r="0.55"/><circle cx="383.4" cy="460.7" r="0.49"/><circle cx="358.2" cy="476.9" r="0.51"/><circle cx="386.9" cy="460.7" r="0.58"/><circle cx="381.1" cy="462.4" r="0.56"/><circle cx="364.5" cy="473.2" r="0.52"/></g>
</g>
<rect x="348.4" y="436" width="85.30000000000001" height="62.39999999999998" fill="none" stroke="#8a8a8a" stroke-width="0.6"/>
<rect x="421.7" y="491.9" width="11" height="5" fill="#f4f4f4" opacity="0.6"/>
<line x1="422.7" y1="496.2" x2="432.2" y2="496.2" stroke="#222" stroke-width="0.6"/>
<text x="427.4" y="495.2" font-size="3.4" text-anchor="middle" fill="#111" font-weight="bold">50&#956;m</text>
<clipPath id="ih8"><rect x="440.7" y="435.8" width="84.90000000000003" height="63.30000000000001"/></clipPath>
<g clip-path="url(#ih8)">
<rect x="440.7" y="435.8" width="84.90000000000003" height="63.30000000000001" fill="#d8c2a9"/>
<g fill="#ccd3e6" opacity="0.85" filter="url(#soft05)"><circle cx="442.0" cy="437.2" r="1.42"/><circle cx="446.2" cy="436.4" r="1.62"/><circle cx="449.0" cy="437.1" r="1.41"/><circle cx="453.6" cy="437.1" r="1.66"/><circle cx="457.2" cy="437.2" r="1.75"/><circle cx="460.7" cy="436.8" r="1.73"/><circle cx="465.4" cy="436.7" r="1.47"/><circle cx="469.5" cy="436.3" r="1.65"/><circle cx="473.3" cy="436.4" r="1.48"/><circle cx="476.6" cy="436.9" r="1.50"/><circle cx="481.2" cy="437.3" r="1.48"/><circle cx="485.1" cy="436.3" r="1.39"/><circle cx="488.7" cy="437.2" r="1.68"/><circle cx="493.0" cy="437.2" r="1.46"/><circle cx="496.6" cy="437.3" r="1.39"/><circle cx="500.2" cy="436.4" r="1.41"/><circle cx="504.1" cy="437.0" r="1.74"/><circle cx="507.6" cy="436.8" r="1.75"/><circle cx="512.2" cy="436.8" r="1.45"/><circle cx="516.0" cy="436.5" r="1.61"/><circle cx="519.9" cy="436.7" r="1.67"/><circle cx="523.5" cy="436.8" r="1.68"/><circle cx="527.2" cy="436.4" r="1.58"/><circle cx="443.6" cy="440.8" r="1.45"/><circle cx="447.4" cy="439.9" r="1.53"/><circle cx="451.2" cy="440.3" r="1.66"/><circle cx="454.8" cy="441.0" r="1.63"/><circle cx="459.6" cy="440.4" r="1.58"/><circle cx="463.0" cy="440.3" r="1.44"/><circle cx="466.8" cy="440.2" r="1.48"/><circle cx="471.4" cy="440.8" r="1.61"/><circle cx="474.3" cy="440.1" r="1.57"/><circle cx="479.0" cy="440.3" r="1.60"/><circle cx="483.1" cy="440.1" r="1.50"/><circle cx="486.9" cy="440.2" r="1.64"/><circle cx="490.3" cy="439.8" r="1.54"/><circle cx="493.8" cy="440.7" r="1.69"/><circle cx="498.3" cy="440.9" r="1.44"/><circle cx="502.1" cy="440.0" r="1.37"/><circle cx="506.4" cy="439.9" r="1.72"/><circle cx="510.0" cy="440.6" r="1.37"/><circle cx="514.3" cy="440.8" r="1.39"/><circle cx="517.4" cy="440.0" r="1.55"/><circle cx="521.1" cy="440.8" r="1.55"/><circle cx="525.8" cy="440.1" r="1.61"/><circle cx="529.4" cy="440.6" r="1.51"/><circle cx="442.3" cy="444.4" r="1.68"/><circle cx="445.4" cy="443.6" r="1.41"/><circle cx="449.1" cy="444.6" r="1.46"/><circle cx="453.8" cy="443.7" r="1.60"/><circle cx="457.0" cy="443.8" r="1.65"/><circle cx="461.3" cy="444.5" r="1.44"/><circle cx="464.8" cy="443.5" r="1.44"/><circle cx="469.6" cy="444.1" r="1.54"/><circle cx="472.7" cy="444.3" r="1.63"/><circle cx="476.4" cy="443.5" r="1.42"/><circle cx="481.1" cy="444.3" r="1.44"/><circle cx="484.3" cy="443.8" r="1.62"/><circle cx="488.8" cy="443.7" r="1.48"/><circle cx="492.1" cy="444.5" r="1.57"/><circle cx="496.8" cy="443.7" r="1.60"/><circle cx="500.3" cy="444.5" r="1.50"/><circle cx="503.8" cy="444.4" r="1.73"/><circle cx="508.0" cy="443.8" r="1.38"/><circle cx="511.8" cy="444.5" r="1.49"/><circle cx="515.7" cy="444.1" r="1.45"/><circle cx="519.2" cy="444.0" r="1.74"/><circle cx="524.0" cy="443.8" r="1.66"/><circle cx="527.9" cy="444.1" r="1.49"/><circle cx="443.3" cy="447.8" r="1.62"/><circle cx="447.2" cy="447.2" r="1.40"/><circle cx="451.8" cy="448.1" r="1.56"/><circle cx="455.5" cy="447.8" r="1.41"/><circle cx="459.3" cy="447.5" r="1.70"/><circle cx="462.7" cy="448.0" r="1.41"/><circle cx="467.2" cy="448.1" r="1.38"/><circle cx="470.9" cy="447.0" r="1.55"/><circle cx="474.8" cy="448.2" r="1.54"/><circle cx="479.2" cy="447.9" r="1.69"/><circle cx="482.5" cy="447.1" r="1.60"/><circle cx="486.1" cy="447.8" r="1.42"/><circle cx="490.6" cy="447.9" r="1.73"/><circle cx="494.0" cy="447.2" r="1.52"/><circle cx="498.8" cy="447.3" r="1.54"/><circle cx="502.0" cy="447.1" r="1.57"/><circle cx="505.8" cy="447.6" r="1.65"/><circle cx="510.2" cy="447.3" r="1.61"/><circle cx="513.9" cy="447.9" r="1.35"/><circle cx="517.5" cy="447.8" r="1.57"/><circle cx="521.7" cy="447.6" r="1.60"/><circle cx="525.8" cy="448.0" r="1.66"/><circle cx="529.9" cy="447.7" r="1.42"/><circle cx="441.5" cy="451.6" r="1.66"/><circle cx="445.7" cy="450.8" r="1.41"/><circle cx="449.7" cy="451.1" r="1.43"/><circle cx="454.0" cy="450.9" r="1.72"/><circle cx="457.4" cy="451.7" r="1.66"/><circle cx="460.8" cy="450.9" r="1.70"/><circle cx="465.0" cy="451.2" r="1.65"/><circle cx="469.1" cy="451.5" r="1.56"/><circle cx="472.6" cy="451.5" r="1.40"/><circle cx="477.1" cy="451.6" r="1.41"/><circle cx="480.1" cy="451.7" r="1.42"/><circle cx="484.6" cy="450.9" r="1.40"/><circle cx="488.2" cy="450.7" r="1.69"/><circle cx="492.7" cy="451.5" r="1.41"/><circle cx="496.1" cy="450.7" r="1.69"/><circle cx="500.8" cy="451.7" r="1.69"/><circle cx="504.2" cy="451.2" r="1.40"/><circle cx="507.4" cy="451.3" r="1.73"/><circle cx="512.5" cy="451.1" r="1.56"/><circle cx="516.3" cy="450.9" r="1.64"/><circle cx="519.8" cy="451.1" r="1.51"/><circle cx="523.2" cy="450.8" r="1.47"/><circle cx="528.1" cy="451.6" r="1.35"/><circle cx="444.0" cy="454.4" r="1.58"/><circle cx="448.1" cy="455.3" r="1.70"/><circle cx="452.0" cy="455.0" r="1.36"/><circle cx="455.1" cy="455.0" r="1.59"/><circle cx="459.7" cy="454.4" r="1.70"/><circle cx="463.2" cy="454.9" r="1.40"/><circle cx="466.9" cy="454.8" r="1.65"/><circle cx="471.2" cy="455.0" r="1.63"/><circle cx="474.7" cy="454.6" r="1.74"/><circle cx="479.0" cy="454.9" r="1.74"/><circle cx="483.1" cy="455.1" r="1.74"/><circle cx="486.4" cy="455.3" r="1.58"/><circle cx="490.4" cy="454.7" r="1.37"/><circle cx="494.8" cy="455.4" r="1.50"/><circle cx="498.8" cy="454.4" r="1.53"/><circle cx="502.7" cy="455.0" r="1.41"/><circle cx="506.2" cy="454.2" r="1.64"/><circle cx="510.1" cy="455.0" r="1.62"/><circle cx="513.4" cy="455.3" r="1.66"/><circle cx="518.2" cy="454.5" r="1.44"/><circle cx="521.9" cy="455.3" r="1.58"/><circle cx="525.2" cy="454.7" r="1.45"/><circle cx="529.4" cy="455.4" r="1.62"/><circle cx="441.3" cy="458.9" r="1.70"/><circle cx="445.5" cy="457.8" r="1.62"/><circle cx="449.3" cy="458.0" r="1.71"/><circle cx="453.3" cy="458.0" r="1.46"/><circle cx="457.9" cy="458.2" r="1.54"/><circle cx="460.9" cy="457.9" r="1.40"/><circle cx="464.6" cy="458.3" r="1.52"/><circle cx="469.2" cy="458.8" r="1.70"/><circle cx="472.5" cy="458.5" r="1.41"/><circle cx="476.6" cy="458.3" r="1.51"/><circle cx="481.1" cy="458.3" r="1.41"/><circle cx="484.7" cy="458.1" r="1.71"/><circle cx="488.0" cy="458.0" r="1.38"/><circle cx="492.2" cy="458.7" r="1.38"/><circle cx="496.4" cy="458.9" r="1.44"/><circle cx="500.5" cy="458.7" r="1.74"/><circle cx="504.5" cy="458.6" r="1.52"/><circle cx="507.8" cy="457.9" r="1.37"/><circle cx="512.1" cy="458.1" r="1.41"/><circle cx="515.8" cy="458.0" r="1.60"/><circle cx="520.2" cy="458.2" r="1.36"/><circle cx="523.2" cy="458.2" r="1.71"/><circle cx="528.0" cy="458.5" r="1.51"/><circle cx="443.2" cy="462.4" r="1.36"/><circle cx="447.3" cy="462.3" r="1.63"/><circle cx="451.1" cy="462.6" r="1.61"/><circle cx="455.6" cy="461.7" r="1.67"/><circle cx="458.7" cy="462.1" r="1.36"/><circle cx="463.5" cy="462.1" r="1.58"/><circle cx="466.9" cy="462.3" r="1.36"/><circle cx="470.5" cy="461.4" r="1.60"/><circle cx="474.3" cy="461.4" r="1.69"/><circle cx="478.5" cy="461.8" r="1.68"/><circle cx="482.5" cy="462.4" r="1.75"/><circle cx="486.1" cy="461.7" r="1.35"/><circle cx="490.2" cy="462.1" r="1.74"/><circle cx="494.7" cy="462.3" r="1.41"/><circle cx="498.8" cy="461.9" r="1.66"/><circle cx="501.8" cy="462.6" r="1.50"/><circle cx="505.8" cy="462.4" r="1.62"/><circle cx="509.8" cy="461.9" r="1.65"/><circle cx="513.7" cy="462.0" r="1.55"/><circle cx="517.6" cy="461.8" r="1.45"/><circle cx="522.0" cy="462.2" r="1.42"/><circle cx="525.1" cy="461.9" r="1.59"/><circle cx="529.5" cy="462.2" r="1.63"/><circle cx="441.5" cy="465.1" r="1.61"/><circle cx="445.6" cy="465.4" r="1.70"/><circle cx="449.1" cy="465.1" r="1.60"/><circle cx="453.3" cy="465.8" r="1.39"/><circle cx="457.3" cy="465.7" r="1.52"/><circle cx="460.8" cy="465.1" r="1.47"/><circle cx="464.8" cy="466.1" r="1.38"/><circle cx="469.3" cy="466.1" r="1.56"/><circle cx="472.5" cy="465.7" r="1.72"/><circle cx="476.7" cy="465.9" r="1.43"/><circle cx="480.4" cy="465.4" r="1.59"/><circle cx="485.1" cy="465.2" r="1.37"/><circle cx="488.2" cy="465.8" r="1.62"/><circle cx="492.4" cy="465.9" r="1.54"/><circle cx="495.9" cy="466.1" r="1.49"/><circle cx="499.6" cy="465.2" r="1.45"/><circle cx="504.4" cy="465.4" r="1.42"/><circle cx="508.2" cy="465.8" r="1.61"/><circle cx="511.6" cy="466.1" r="1.61"/><circle cx="515.8" cy="466.1" r="1.45"/><circle cx="519.5" cy="465.7" r="1.58"/><circle cx="523.7" cy="465.1" r="1.65"/><circle cx="528.1" cy="465.4" r="1.68"/><circle cx="443.2" cy="468.7" r="1.59"/><circle cx="448.1" cy="469.3" r="1.44"/><circle cx="451.0" cy="469.7" r="1.63"/><circle cx="455.9" cy="468.9" r="1.65"/><circle cx="458.9" cy="468.8" r="1.51"/><circle cx="463.0" cy="469.5" r="1.52"/><circle cx="466.8" cy="469.7" r="1.70"/><circle cx="470.9" cy="469.5" r="1.38"/><circle cx="474.6" cy="469.7" r="1.55"/><circle cx="478.3" cy="468.9" r="1.71"/><circle cx="482.5" cy="469.8" r="1.74"/><circle cx="486.7" cy="469.6" r="1.49"/><circle cx="490.8" cy="468.7" r="1.55"/><circle cx="493.8" cy="468.9" r="1.72"/><circle cx="498.4" cy="468.7" r="1.69"/><circle cx="502.6" cy="469.7" r="1.53"/><circle cx="505.6" cy="469.5" r="1.59"/><circle cx="509.4" cy="469.2" r="1.60"/><circle cx="514.2" cy="469.3" r="1.48"/><circle cx="517.3" cy="468.7" r="1.40"/><circle cx="521.5" cy="469.1" r="1.72"/><circle cx="525.6" cy="469.6" r="1.62"/><circle cx="529.7" cy="469.6" r="1.69"/><circle cx="441.9" cy="472.8" r="1.69"/><circle cx="445.3" cy="472.5" r="1.40"/><circle cx="449.1" cy="472.3" r="1.42"/><circle cx="453.2" cy="473.0" r="1.74"/><circle cx="457.5" cy="473.1" r="1.56"/><circle cx="460.8" cy="473.1" r="1.58"/><circle cx="465.0" cy="473.2" r="1.73"/><circle cx="468.6" cy="472.2" r="1.50"/><circle cx="473.0" cy="472.8" r="1.47"/><circle cx="476.5" cy="472.7" r="1.39"/><circle cx="480.7" cy="473.3" r="1.70"/><circle cx="484.9" cy="472.4" r="1.51"/><circle cx="488.0" cy="472.4" r="1.37"/><circle cx="491.9" cy="473.1" r="1.46"/><circle cx="496.5" cy="472.8" r="1.45"/><circle cx="500.4" cy="472.8" r="1.43"/><circle cx="503.8" cy="472.8" r="1.45"/><circle cx="508.0" cy="472.6" r="1.73"/><circle cx="511.5" cy="473.1" r="1.42"/><circle cx="515.3" cy="473.2" r="1.65"/><circle cx="519.6" cy="473.3" r="1.47"/><circle cx="523.5" cy="473.2" r="1.67"/><circle cx="528.0" cy="472.6" r="1.64"/><circle cx="444.2" cy="476.7" r="1.49"/><circle cx="448.1" cy="476.8" r="1.37"/><circle cx="451.4" cy="477.0" r="1.67"/><circle cx="455.6" cy="475.9" r="1.69"/><circle cx="459.0" cy="476.1" r="1.65"/><circle cx="463.1" cy="477.0" r="1.69"/><circle cx="466.6" cy="475.9" r="1.42"/><circle cx="470.4" cy="476.1" r="1.50"/><circle cx="474.3" cy="476.7" r="1.67"/><circle cx="478.6" cy="476.4" r="1.59"/><circle cx="483.2" cy="476.7" r="1.43"/><circle cx="486.6" cy="476.2" r="1.71"/><circle cx="490.9" cy="476.4" r="1.73"/><circle cx="494.7" cy="476.8" r="1.49"/><circle cx="498.6" cy="476.0" r="1.68"/><circle cx="502.0" cy="476.9" r="1.54"/><circle cx="505.8" cy="476.1" r="1.49"/><circle cx="510.4" cy="476.4" r="1.48"/><circle cx="514.4" cy="476.7" r="1.37"/><circle cx="517.8" cy="476.9" r="1.51"/><circle cx="521.1" cy="476.5" r="1.65"/><circle cx="525.9" cy="476.6" r="1.52"/><circle cx="529.4" cy="475.9" r="1.72"/><circle cx="442.3" cy="479.5" r="1.40"/><circle cx="445.0" cy="479.8" r="1.65"/><circle cx="449.3" cy="479.7" r="1.53"/><circle cx="453.5" cy="480.1" r="1.55"/><circle cx="457.2" cy="479.9" r="1.61"/><circle cx="461.0" cy="480.6" r="1.61"/><circle cx="465.5" cy="480.2" r="1.75"/><circle cx="468.4" cy="479.8" r="1.57"/><circle cx="473.4" cy="479.9" r="1.43"/><circle cx="476.9" cy="480.6" r="1.35"/><circle cx="480.2" cy="480.1" r="1.42"/><circle cx="485.1" cy="479.4" r="1.64"/><circle cx="488.3" cy="480.1" r="1.62"/><circle cx="492.4" cy="479.8" r="1.73"/><circle cx="496.2" cy="479.7" r="1.35"/><circle cx="500.3" cy="479.7" r="1.57"/><circle cx="503.8" cy="479.5" r="1.54"/><circle cx="508.2" cy="479.9" r="1.74"/><circle cx="512.4" cy="480.2" r="1.63"/><circle cx="516.3" cy="479.9" r="1.72"/><circle cx="519.4" cy="480.5" r="1.70"/><circle cx="523.1" cy="479.4" r="1.59"/><circle cx="527.4" cy="479.9" r="1.37"/><circle cx="443.6" cy="483.7" r="1.65"/><circle cx="447.6" cy="483.8" r="1.52"/><circle cx="452.0" cy="483.3" r="1.55"/><circle cx="455.2" cy="484.0" r="1.50"/><circle cx="458.8" cy="483.9" r="1.62"/><circle cx="462.9" cy="484.1" r="1.35"/><circle cx="466.8" cy="484.1" r="1.69"/><circle cx="471.0" cy="483.4" r="1.37"/><circle cx="475.1" cy="483.1" r="1.74"/><circle cx="478.4" cy="483.3" r="1.37"/><circle cx="482.5" cy="483.6" r="1.67"/><circle cx="486.2" cy="483.1" r="1.47"/><circle cx="491.0" cy="483.4" r="1.50"/><circle cx="494.9" cy="484.0" r="1.52"/><circle cx="498.5" cy="483.5" r="1.59"/><circle cx="502.4" cy="483.3" r="1.37"/><circle cx="506.3" cy="483.8" r="1.70"/><circle cx="509.4" cy="483.6" r="1.56"/><circle cx="513.5" cy="483.5" r="1.59"/><circle cx="518.3" cy="483.1" r="1.42"/><circle cx="522.2" cy="483.6" r="1.53"/><circle cx="526.0" cy="484.2" r="1.49"/><circle cx="530.0" cy="483.7" r="1.52"/><circle cx="441.9" cy="487.2" r="1.63"/><circle cx="445.1" cy="487.6" r="1.44"/><circle cx="449.3" cy="487.3" r="1.59"/><circle cx="453.5" cy="486.8" r="1.47"/><circle cx="457.5" cy="487.1" r="1.39"/><circle cx="460.9" cy="487.2" r="1.58"/><circle cx="465.7" cy="487.3" r="1.70"/><circle cx="469.5" cy="486.8" r="1.36"/><circle cx="473.4" cy="487.1" r="1.61"/><circle cx="477.4" cy="486.6" r="1.53"/><circle cx="481.0" cy="487.0" r="1.64"/><circle cx="484.3" cy="487.6" r="1.61"/><circle cx="488.0" cy="487.3" r="1.47"/><circle cx="492.0" cy="487.7" r="1.41"/><circle cx="496.4" cy="487.0" r="1.57"/><circle cx="500.2" cy="487.1" r="1.63"/><circle cx="503.7" cy="487.3" r="1.59"/><circle cx="507.8" cy="486.7" r="1.65"/><circle cx="512.0" cy="487.7" r="1.70"/><circle cx="515.4" cy="487.8" r="1.49"/><circle cx="519.7" cy="487.0" r="1.59"/><circle cx="523.8" cy="486.9" r="1.45"/><circle cx="527.6" cy="487.2" r="1.58"/><circle cx="443.2" cy="491.3" r="1.71"/><circle cx="447.1" cy="490.5" r="1.37"/><circle cx="450.9" cy="490.2" r="1.43"/><circle cx="455.5" cy="491.3" r="1.56"/><circle cx="458.8" cy="491.2" r="1.40"/><circle cx="463.3" cy="490.7" r="1.53"/><circle cx="466.6" cy="490.3" r="1.61"/><circle cx="471.2" cy="490.7" r="1.49"/><circle cx="475.1" cy="490.7" r="1.69"/><circle cx="478.9" cy="490.3" r="1.40"/><circle cx="482.4" cy="490.2" r="1.62"/><circle cx="487.0" cy="491.2" r="1.57"/><circle cx="490.5" cy="491.3" r="1.49"/><circle cx="494.9" cy="490.3" r="1.37"/><circle cx="498.5" cy="491.2" r="1.41"/><circle cx="502.0" cy="491.2" r="1.73"/><circle cx="506.5" cy="490.8" r="1.59"/><circle cx="510.5" cy="491.3" r="1.43"/><circle cx="514.3" cy="491.3" r="1.58"/><circle cx="517.4" cy="490.7" r="1.65"/><circle cx="522.0" cy="490.7" r="1.37"/><circle cx="525.1" cy="490.5" r="1.47"/><circle cx="529.3" cy="490.7" r="1.51"/><circle cx="441.5" cy="494.4" r="1.35"/><circle cx="445.4" cy="494.7" r="1.68"/><circle cx="449.0" cy="494.4" r="1.61"/><circle cx="452.9" cy="494.3" r="1.58"/><circle cx="457.0" cy="494.1" r="1.36"/><circle cx="461.2" cy="494.4" r="1.44"/><circle cx="465.2" cy="494.3" r="1.38"/><circle cx="469.1" cy="494.9" r="1.61"/><circle cx="473.4" cy="494.6" r="1.41"/><circle cx="477.3" cy="494.1" r="1.44"/><circle cx="480.3" cy="494.5" r="1.51"/><circle cx="484.3" cy="493.9" r="1.40"/><circle cx="488.3" cy="494.0" r="1.36"/><circle cx="492.3" cy="494.5" r="1.59"/><circle cx="496.8" cy="494.0" r="1.62"/><circle cx="500.1" cy="494.2" r="1.40"/><circle cx="503.6" cy="493.9" r="1.43"/><circle cx="508.4" cy="494.6" r="1.41"/><circle cx="512.1" cy="494.7" r="1.58"/><circle cx="515.6" cy="494.9" r="1.58"/><circle cx="519.6" cy="494.9" r="1.66"/><circle cx="523.9" cy="494.4" r="1.74"/><circle cx="527.4" cy="494.1" r="1.38"/><circle cx="444.0" cy="498.4" r="1.50"/><circle cx="448.1" cy="497.9" r="1.36"/><circle cx="451.9" cy="497.5" r="1.73"/><circle cx="455.4" cy="498.1" r="1.54"/><circle cx="459.3" cy="498.6" r="1.65"/><circle cx="463.4" cy="497.7" r="1.45"/><circle cx="467.5" cy="497.9" r="1.39"/><circle cx="470.9" cy="498.5" r="1.36"/><circle cx="475.3" cy="497.7" r="1.53"/><circle cx="478.8" cy="498.0" r="1.56"/><circle cx="482.7" cy="497.6" r="1.41"/><circle cx="487.1" cy="497.5" r="1.70"/><circle cx="490.1" cy="497.7" r="1.63"/><circle cx="494.4" cy="498.5" r="1.48"/><circle cx="498.4" cy="497.5" r="1.55"/><circle cx="502.0" cy="498.2" r="1.69"/><circle cx="506.4" cy="497.5" r="1.48"/><circle cx="510.2" cy="497.7" r="1.45"/><circle cx="514.3" cy="498.4" r="1.56"/><circle cx="517.8" cy="498.4" r="1.55"/><circle cx="521.7" cy="497.8" r="1.43"/><circle cx="526.0" cy="498.1" r="1.63"/><circle cx="529.7" cy="497.6" r="1.57"/></g>
<path d="M467.868,435.8 L494.187,435.8 Q493.338,461.12 508.62,473.78000000000003 L525.6,475.04600000000005 L525.6,499.1 L495.036,499.1 Q487.395,473.78000000000003 467.868,435.8 Z" fill="#dde2ee" opacity="0.95" filter="url(#soft)"/>
<path d="M440.7,483.27500000000003 Q445.794,492.77000000000004 449.19,499.1 L440.7,499.1 Z" fill="#dde2ee" opacity="0.8" filter="url(#soft)"/>
<g fill="#4d72cc" opacity="0.75"><ellipse cx="508.6" cy="487.3" rx="0.93" ry="0.45" transform="rotate(-51 508.6 487.3)"/><ellipse cx="489.5" cy="460.5" rx="1.26" ry="0.45" transform="rotate(-57 489.5 460.5)"/><ellipse cx="511.3" cy="483.5" rx="1.14" ry="0.45" transform="rotate(-51 511.3 483.5)"/><ellipse cx="492.2" cy="448.1" rx="1.17" ry="0.45" transform="rotate(-63 492.2 448.1)"/><ellipse cx="517.7" cy="490.1" rx="1.18" ry="0.45" transform="rotate(-51 517.7 490.1)"/><ellipse cx="477.1" cy="448.9" rx="1.08" ry="0.45" transform="rotate(-51 477.1 448.9)"/><ellipse cx="478.7" cy="456.8" rx="1.25" ry="0.45" transform="rotate(-27 478.7 456.8)"/><ellipse cx="522.5" cy="482.1" rx="1.18" ry="0.45" transform="rotate(-55 522.5 482.1)"/><ellipse cx="494.7" cy="468.1" rx="1.04" ry="0.45" transform="rotate(-52 494.7 468.1)"/><ellipse cx="489.1" cy="469.5" rx="1.20" ry="0.45" transform="rotate(-46 489.1 469.5)"/><ellipse cx="484.3" cy="471.9" rx="1.29" ry="0.45" transform="rotate(-25 484.3 471.9)"/><ellipse cx="513.7" cy="477.8" rx="0.95" ry="0.45" transform="rotate(-27 513.7 477.8)"/><ellipse cx="478.6" cy="443.7" rx="1.05" ry="0.45" transform="rotate(-37 478.6 443.7)"/><ellipse cx="521.5" cy="473.9" rx="1.22" ry="0.45" transform="rotate(-74 521.5 473.9)"/><ellipse cx="479.8" cy="438.5" rx="0.91" ry="0.45" transform="rotate(-71 479.8 438.5)"/><ellipse cx="487.7" cy="476.5" rx="1.21" ry="0.45" transform="rotate(-61 487.7 476.5)"/><ellipse cx="523.5" cy="474.9" rx="1.16" ry="0.45" transform="rotate(-62 523.5 474.9)"/><ellipse cx="518.0" cy="495.7" rx="1.00" ry="0.45" transform="rotate(-38 518.0 495.7)"/><ellipse cx="516.0" cy="497.7" rx="1.15" ry="0.45" transform="rotate(-63 516.0 497.7)"/><ellipse cx="490.2" cy="481.8" rx="1.05" ry="0.45" transform="rotate(-67 490.2 481.8)"/><ellipse cx="490.5" cy="484.3" rx="1.13" ry="0.45" transform="rotate(-39 490.5 484.3)"/><ellipse cx="500.9" cy="471.0" rx="0.90" ry="0.45" transform="rotate(-45 500.9 471.0)"/><ellipse cx="505.2" cy="469.1" rx="1.05" ry="0.45" transform="rotate(-36 505.2 469.1)"/><ellipse cx="512.9" cy="496.3" rx="1.16" ry="0.45" transform="rotate(-74 512.9 496.3)"/><ellipse cx="477.5" cy="442.0" rx="1.07" ry="0.45" transform="rotate(-36 477.5 442.0)"/><ellipse cx="486.7" cy="444.5" rx="1.10" ry="0.45" transform="rotate(-53 486.7 444.5)"/><ellipse cx="478.6" cy="445.4" rx="1.25" ry="0.45" transform="rotate(-61 478.6 445.4)"/><ellipse cx="513.1" cy="497.4" rx="0.94" ry="0.45" transform="rotate(-55 513.1 497.4)"/><ellipse cx="487.0" cy="459.7" rx="1.22" ry="0.45" transform="rotate(-64 487.0 459.7)"/><ellipse cx="511.5" cy="479.5" rx="1.07" ry="0.45" transform="rotate(-30 511.5 479.5)"/><ellipse cx="508.2" cy="486.8" rx="1.18" ry="0.45" transform="rotate(-31 508.2 486.8)"/><ellipse cx="485.9" cy="464.8" rx="1.06" ry="0.45" transform="rotate(-50 485.9 464.8)"/><ellipse cx="518.2" cy="489.1" rx="1.14" ry="0.45" transform="rotate(-44 518.2 489.1)"/><ellipse cx="490.9" cy="437.1" rx="1.10" ry="0.45" transform="rotate(-63 490.9 437.1)"/><ellipse cx="501.9" cy="472.2" rx="1.04" ry="0.45" transform="rotate(-64 501.9 472.2)"/><ellipse cx="472.3" cy="443.6" rx="1.13" ry="0.45" transform="rotate(-41 472.3 443.6)"/><ellipse cx="497.3" cy="470.1" rx="1.19" ry="0.45" transform="rotate(-26 497.3 470.1)"/><ellipse cx="495.2" cy="456.6" rx="0.94" ry="0.45" transform="rotate(-31 495.2 456.6)"/><ellipse cx="496.7" cy="466.9" rx="1.11" ry="0.45" transform="rotate(-29 496.7 466.9)"/><ellipse cx="490.2" cy="486.2" rx="1.26" ry="0.45" transform="rotate(-73 490.2 486.2)"/><ellipse cx="497.8" cy="471.4" rx="1.09" ry="0.45" transform="rotate(-30 497.8 471.4)"/><ellipse cx="490.0" cy="438.6" rx="1.04" ry="0.45" transform="rotate(-34 490.0 438.6)"/><ellipse cx="486.4" cy="474.4" rx="0.95" ry="0.45" transform="rotate(-67 486.4 474.4)"/><ellipse cx="483.2" cy="461.6" rx="1.28" ry="0.45" transform="rotate(-62 483.2 461.6)"/><ellipse cx="484.7" cy="473.5" rx="1.25" ry="0.45" transform="rotate(-29 484.7 473.5)"/><ellipse cx="506.6" cy="486.1" rx="0.93" ry="0.45" transform="rotate(-58 506.6 486.1)"/><ellipse cx="506.9" cy="488.0" rx="1.21" ry="0.45" transform="rotate(-38 506.9 488.0)"/><ellipse cx="487.9" cy="470.9" rx="1.06" ry="0.45" transform="rotate(-70 487.9 470.9)"/><ellipse cx="501.7" cy="491.1" rx="0.91" ry="0.45" transform="rotate(-30 501.7 491.1)"/><ellipse cx="506.6" cy="472.4" rx="0.99" ry="0.45" transform="rotate(-62 506.6 472.4)"/><ellipse cx="502.3" cy="469.6" rx="1.02" ry="0.45" transform="rotate(-64 502.3 469.6)"/><ellipse cx="505.6" cy="494.7" rx="1.17" ry="0.45" transform="rotate(-25 505.6 494.7)"/><ellipse cx="488.2" cy="471.2" rx="1.19" ry="0.45" transform="rotate(-51 488.2 471.2)"/><ellipse cx="489.3" cy="469.4" rx="1.13" ry="0.45" transform="rotate(-57 489.3 469.4)"/><ellipse cx="501.1" cy="469.5" rx="1.05" ry="0.45" transform="rotate(-73 501.1 469.5)"/><ellipse cx="519.8" cy="481.5" rx="1.23" ry="0.45" transform="rotate(-71 519.8 481.5)"/><ellipse cx="515.1" cy="483.0" rx="1.07" ry="0.45" transform="rotate(-39 515.1 483.0)"/><ellipse cx="487.2" cy="473.9" rx="1.10" ry="0.45" transform="rotate(-52 487.2 473.9)"/><ellipse cx="507.0" cy="485.0" rx="1.16" ry="0.45" transform="rotate(-37 507.0 485.0)"/><ellipse cx="478.2" cy="447.1" rx="1.11" ry="0.45" transform="rotate(-53 478.2 447.1)"/><ellipse cx="502.5" cy="497.8" rx="1.11" ry="0.45" transform="rotate(-30 502.5 497.8)"/><ellipse cx="503.9" cy="473.3" rx="1.00" ry="0.45" transform="rotate(-51 503.9 473.3)"/><ellipse cx="512.1" cy="486.5" rx="1.17" ry="0.45" transform="rotate(-26 512.1 486.5)"/><ellipse cx="495.6" cy="466.6" rx="0.96" ry="0.45" transform="rotate(-48 495.6 466.6)"/><ellipse cx="480.1" cy="438.9" rx="1.07" ry="0.45" transform="rotate(-34 480.1 438.9)"/><ellipse cx="487.8" cy="450.5" rx="1.14" ry="0.45" transform="rotate(-42 487.8 450.5)"/><ellipse cx="489.3" cy="444.4" rx="1.28" ry="0.45" transform="rotate(-31 489.3 444.4)"/><ellipse cx="505.1" cy="467.7" rx="1.08" ry="0.45" transform="rotate(-59 505.1 467.7)"/><ellipse cx="496.4" cy="477.3" rx="1.06" ry="0.45" transform="rotate(-70 496.4 477.3)"/><ellipse cx="491.1" cy="438.8" rx="1.25" ry="0.45" transform="rotate(-27 491.1 438.8)"/><ellipse cx="492.1" cy="480.6" rx="0.98" ry="0.45" transform="rotate(-25 492.1 480.6)"/><ellipse cx="497.2" cy="494.8" rx="0.91" ry="0.45" transform="rotate(-61 497.2 494.8)"/><ellipse cx="518.0" cy="497.5" rx="1.03" ry="0.45" transform="rotate(-26 518.0 497.5)"/><ellipse cx="472.8" cy="443.7" rx="1.07" ry="0.45" transform="rotate(-29 472.8 443.7)"/><ellipse cx="480.7" cy="437.6" rx="1.22" ry="0.45" transform="rotate(-30 480.7 437.6)"/><ellipse cx="490.3" cy="451.6" rx="1.09" ry="0.45" transform="rotate(-39 490.3 451.6)"/><ellipse cx="490.8" cy="471.0" rx="1.11" ry="0.45" transform="rotate(-43 490.8 471.0)"/><ellipse cx="492.9" cy="456.9" rx="1.06" ry="0.45" transform="rotate(-58 492.9 456.9)"/><ellipse cx="491.2" cy="454.9" rx="1.14" ry="0.45" transform="rotate(-48 491.2 454.9)"/><ellipse cx="504.1" cy="489.9" rx="1.18" ry="0.45" transform="rotate(-44 504.1 489.9)"/><ellipse cx="500.9" cy="489.6" rx="1.01" ry="0.45" transform="rotate(-55 500.9 489.6)"/><ellipse cx="475.0" cy="440.5" rx="1.29" ry="0.45" transform="rotate(-59 475.0 440.5)"/><ellipse cx="494.0" cy="462.2" rx="1.12" ry="0.45" transform="rotate(-63 494.0 462.2)"/><ellipse cx="519.1" cy="491.4" rx="1.28" ry="0.45" transform="rotate(-39 519.1 491.4)"/><ellipse cx="491.6" cy="476.3" rx="1.00" ry="0.45" transform="rotate(-48 491.6 476.3)"/><ellipse cx="492.4" cy="448.4" rx="1.12" ry="0.45" transform="rotate(-40 492.4 448.4)"/><ellipse cx="521.5" cy="474.7" rx="0.96" ry="0.45" transform="rotate(-54 521.5 474.7)"/><ellipse cx="520.2" cy="475.6" rx="1.10" ry="0.45" transform="rotate(-25 520.2 475.6)"/><ellipse cx="486.5" cy="444.5" rx="1.13" ry="0.45" transform="rotate(-46 486.5 444.5)"/><ellipse cx="486.2" cy="443.4" rx="1.27" ry="0.45" transform="rotate(-36 486.2 443.4)"/><ellipse cx="488.1" cy="451.8" rx="0.93" ry="0.45" transform="rotate(-50 488.1 451.8)"/><ellipse cx="487.8" cy="444.7" rx="1.29" ry="0.45" transform="rotate(-48 487.8 444.7)"/><ellipse cx="482.6" cy="460.0" rx="1.08" ry="0.45" transform="rotate(-38 482.6 460.0)"/><ellipse cx="496.8" cy="479.3" rx="1.05" ry="0.45" transform="rotate(-38 496.8 479.3)"/><ellipse cx="523.6" cy="491.7" rx="1.00" ry="0.45" transform="rotate(-42 523.6 491.7)"/><ellipse cx="508.3" cy="484.4" rx="1.16" ry="0.45" transform="rotate(-66 508.3 484.4)"/><ellipse cx="511.0" cy="482.8" rx="1.15" ry="0.45" transform="rotate(-26 511.0 482.8)"/><ellipse cx="506.2" cy="486.8" rx="1.21" ry="0.45" transform="rotate(-58 506.2 486.8)"/><ellipse cx="494.5" cy="493.8" rx="1.12" ry="0.45" transform="rotate(-40 494.5 493.8)"/><ellipse cx="520.8" cy="486.9" rx="1.28" ry="0.45" transform="rotate(-65 520.8 486.9)"/><ellipse cx="503.7" cy="469.1" rx="0.96" ry="0.45" transform="rotate(-46 503.7 469.1)"/><ellipse cx="489.7" cy="476.9" rx="1.23" ry="0.45" transform="rotate(-30 489.7 476.9)"/><ellipse cx="479.3" cy="457.1" rx="1.25" ry="0.45" transform="rotate(-42 479.3 457.1)"/><ellipse cx="501.7" cy="469.7" rx="0.94" ry="0.45" transform="rotate(-34 501.7 469.7)"/><ellipse cx="521.0" cy="494.0" rx="1.01" ry="0.45" transform="rotate(-60 521.0 494.0)"/><ellipse cx="521.1" cy="496.7" rx="1.27" ry="0.45" transform="rotate(-56 521.1 496.7)"/><ellipse cx="481.6" cy="454.2" rx="1.18" ry="0.45" transform="rotate(-63 481.6 454.2)"/><ellipse cx="481.6" cy="447.7" rx="1.12" ry="0.45" transform="rotate(-49 481.6 447.7)"/><ellipse cx="500.1" cy="474.0" rx="1.16" ry="0.45" transform="rotate(-52 500.1 474.0)"/><ellipse cx="496.3" cy="492.0" rx="1.00" ry="0.45" transform="rotate(-36 496.3 492.0)"/><ellipse cx="506.3" cy="480.3" rx="1.04" ry="0.45" transform="rotate(-36 506.3 480.3)"/><ellipse cx="481.9" cy="454.0" rx="0.96" ry="0.45" transform="rotate(-75 481.9 454.0)"/><ellipse cx="478.9" cy="449.0" rx="1.25" ry="0.45" transform="rotate(-71 478.9 449.0)"/><ellipse cx="497.3" cy="462.8" rx="1.17" ry="0.45" transform="rotate(-51 497.3 462.8)"/><ellipse cx="498.6" cy="473.7" rx="1.29" ry="0.45" transform="rotate(-59 498.6 473.7)"/><ellipse cx="489.2" cy="442.0" rx="0.99" ry="0.45" transform="rotate(-39 489.2 442.0)"/><ellipse cx="486.4" cy="439.5" rx="1.13" ry="0.45" transform="rotate(-61 486.4 439.5)"/><ellipse cx="493.0" cy="463.2" rx="1.10" ry="0.45" transform="rotate(-41 493.0 463.2)"/><ellipse cx="497.6" cy="447.2" rx="1.02" ry="0.45" transform="rotate(-27 497.6 447.2)"/><ellipse cx="512.8" cy="499.0" rx="1.08" ry="0.45" transform="rotate(-46 512.8 499.0)"/></g>
</g>
<rect x="440.7" y="435.8" width="84.90000000000003" height="63.30000000000001" fill="none" stroke="#8a8a8a" stroke-width="0.6"/>
<rect x="513.6" y="492.6" width="11" height="5" fill="#f4f4f4" opacity="0.6"/>
<line x1="514.6" y1="496.90000000000003" x2="524.1" y2="496.90000000000003" stroke="#222" stroke-width="0.6"/>
<text x="519.3000000000001" y="495.90000000000003" font-size="3.4" text-anchor="middle" fill="#111" font-weight="bold">50&#956;m</text>
<rect x="353.3" y="388.9" width="23.099999999999966" height="16.600000000000023" fill="none" stroke="#111" stroke-width="0.9"/>
<line x1="353.3" y1="405.5" x2="348.4" y2="436" stroke="#222" stroke-width="0.6"/>
<line x1="376.4" y1="405.5" x2="433.7" y2="436" stroke="#222" stroke-width="0.6"/>
<rect x="480.7" y="366.9" width="25.30000000000001" height="15.800000000000011" fill="none" stroke="#111" stroke-width="0.9"/>
<line x1="480.7" y1="382.7" x2="440.7" y2="435.8" stroke="#222" stroke-width="0.6"/>
<line x1="506" y1="382.7" x2="525.6" y2="435.8" stroke="#222" stroke-width="0.6"/>
<text transform="translate(346.2,430.9) rotate(-90)" font-size="8.6" text-anchor="middle" fill="#111" textLength="28.2" lengthAdjust="spacingAndGlyphs">SLC3A2</text>
<line x1="254.5" y1="371.35999999999996" x2="254.5" y2="450.7" stroke="#222" stroke-width="0.9"/>
<line x1="251.6" y1="450.7" x2="308.5" y2="450.7" stroke="#222" stroke-width="0.9"/>
<line x1="252.0" y1="450.70" x2="254.5" y2="450.70" stroke="#222" stroke-width="0.8"/>
<text x="251.9" y="453.4" font-size="7.8" text-anchor="end" fill="#111" >0</text>
<line x1="252.0" y1="430.94" x2="254.5" y2="430.94" stroke="#222" stroke-width="0.8"/>
<text x="251.9" y="433.64" font-size="7.8" text-anchor="end" fill="#111" >2</text>
<line x1="252.0" y1="411.18" x2="254.5" y2="411.18" stroke="#222" stroke-width="0.8"/>
<text x="251.9" y="413.88" font-size="7.8" text-anchor="end" fill="#111" >4</text>
<line x1="252.0" y1="391.42" x2="254.5" y2="391.42" stroke="#222" stroke-width="0.8"/>
<text x="251.9" y="394.11999999999995" font-size="7.8" text-anchor="end" fill="#111" >6</text>
<line x1="252.0" y1="371.66" x2="254.5" y2="371.66" stroke="#222" stroke-width="0.8"/>
<text x="251.9" y="374.35999999999996" font-size="7.8" text-anchor="end" fill="#111" >8</text>
<rect x="263" y="426.49" width="14.600000000000023" height="24.21" fill="#fff" stroke="#111" stroke-width="1.3"/>
<line x1="270.3" y1="450.7" x2="270.3" y2="453.9" stroke="#222" stroke-width="0.8"/>
<rect x="268.95" y="409.83" width="2.7" height="2.7" rx="0.7" fill="#111"/>
<rect x="264.45" y="419.71" width="2.7" height="2.7" rx="0.7" fill="#111"/>
<rect x="268.95" y="419.71" width="2.7" height="2.7" rx="0.7" fill="#111"/>
<rect x="273.45" y="419.71" width="2.7" height="2.7" rx="0.7" fill="#111"/>
<rect x="264.95" y="439.47" width="2.7" height="2.7" rx="0.7" fill="#111"/>
<rect x="272.95" y="439.47" width="2.7" height="2.7" rx="0.7" fill="#111"/>
<line x1="270.3" y1="438.15" x2="270.3" y2="414.14" stroke="#555" stroke-width="0.8"/>
<line x1="266.3" y1="438.15" x2="274.3" y2="438.15" stroke="#555" stroke-width="0.8"/>
<line x1="266.3" y1="414.14" x2="274.3" y2="414.14" stroke="#555" stroke-width="0.8"/>
<rect x="285.2" y="411.18" width="15.5" height="39.52" fill="#fff" stroke="#e8141c" stroke-width="1.3"/>
<line x1="292.95" y1="450.7" x2="292.95" y2="453.9" stroke="#222" stroke-width="0.8"/>
<rect x="288.15" y="390.07" width="2.7" height="2.7" rx="0.7" fill="#111"/>
<rect x="290.45" y="390.07" width="2.7" height="2.7" rx="0.7" fill="#111"/>
<rect x="292.75" y="390.07" width="2.7" height="2.7" rx="0.7" fill="#111"/>
<rect x="295.05" y="390.07" width="2.7" height="2.7" rx="0.7" fill="#111"/>
<rect x="288.15" y="399.95" width="2.7" height="2.7" rx="0.7" fill="#111"/>
<rect x="290.45" y="399.95" width="2.7" height="2.7" rx="0.7" fill="#111"/>
<rect x="292.75" y="399.95" width="2.7" height="2.7" rx="0.7" fill="#111"/>
<rect x="295.05" y="399.95" width="2.7" height="2.7" rx="0.7" fill="#111"/>
<rect x="284.40" y="409.83" width="2.7" height="2.7" rx="0.7" fill="#111"/>
<rect x="286.00" y="409.83" width="2.7" height="2.7" rx="0.7" fill="#111"/>
<rect x="287.60" y="409.83" width="2.7" height="2.7" rx="0.7" fill="#111"/>
<rect x="289.20" y="409.83" width="2.7" height="2.7" rx="0.7" fill="#111"/>
<rect x="290.80" y="409.83" width="2.7" height="2.7" rx="0.7" fill="#111"/>
<rect x="292.40" y="409.83" width="2.7" height="2.7" rx="0.7" fill="#111"/>
<rect x="294.00" y="409.83" width="2.7" height="2.7" rx="0.7" fill="#111"/>
<rect x="295.60" y="409.83" width="2.7" height="2.7" rx="0.7" fill="#111"/>
<rect x="297.20" y="409.83" width="2.7" height="2.7" rx="0.7" fill="#111"/>
<rect x="298.80" y="409.83" width="2.7" height="2.7" rx="0.7" fill="#111"/>
<rect x="288.15" y="419.71" width="2.7" height="2.7" rx="0.7" fill="#111"/>
<rect x="290.45" y="419.71" width="2.7" height="2.7" rx="0.7" fill="#111"/>
<rect x="292.75" y="419.71" width="2.7" height="2.7" rx="0.7" fill="#111"/>
<rect x="295.05" y="419.71" width="2.7" height="2.7" rx="0.7" fill="#111"/>
<rect x="291.60" y="429.59" width="2.7" height="2.7" rx="0.7" fill="#111"/>
<rect x="290.30" y="449.35" width="2.7" height="2.7" rx="0.7" fill="#111"/>
<rect x="292.90" y="449.35" width="2.7" height="2.7" rx="0.7" fill="#111"/>
<line x1="292.95" y1="426.99" x2="292.95" y2="395.37" stroke="#e8141c" stroke-width="0.8"/>
<line x1="288.95" y1="426.99" x2="296.95" y2="426.99" stroke="#e8141c" stroke-width="0.8"/>
<line x1="288.95" y1="395.37" x2="296.95" y2="395.37" stroke="#e8141c" stroke-width="0.8"/>
<path d="M270.3,378.4 V381.4 M270.3,379.9 H292.9 M292.9,378.4 V381.4" fill="none" stroke="#333" stroke-width="0.7"/>
<text x="281.6" y="378.9" font-size="10" text-anchor="middle" fill="#111" font-weight="bold">*</text>
<text x="281.5" y="358" font-size="8.6" text-anchor="middle" fill="#111" >SLC7A11</text>
<text transform="translate(242.4,408.4) rotate(-90)" font-size="8.7" text-anchor="middle" fill="#111">SLC7A11 IHC scores</text>
<text transform="translate(272.6,461.9) rotate(-45)" font-size="8.75" text-anchor="end" fill="#111">benign (n=6)</text>
<text transform="translate(295,463.1) rotate(-45)" font-size="8.75" text-anchor="end" fill="#111">malignant (n=25)</text>
<line x1="587.2" y1="371.29999999999995" x2="587.2" y2="450.9" stroke="#222" stroke-width="0.9"/>
<line x1="584.6" y1="450.9" x2="640.3" y2="450.9" stroke="#222" stroke-width="0.9"/>
<line x1="584.7" y1="450.90" x2="587.2" y2="450.90" stroke="#222" stroke-width="0.8"/>
<text x="584.6" y="453.59999999999997" font-size="7.8" text-anchor="end" fill="#111" >0</text>
<line x1="584.7" y1="435.04" x2="587.2" y2="435.04" stroke="#222" stroke-width="0.8"/>
<text x="584.6" y="437.73999999999995" font-size="7.8" text-anchor="end" fill="#111" >2</text>
<line x1="584.7" y1="419.18" x2="587.2" y2="419.18" stroke="#222" stroke-width="0.8"/>
<text x="584.6" y="421.87999999999994" font-size="7.8" text-anchor="end" fill="#111" >4</text>
<line x1="584.7" y1="403.32" x2="587.2" y2="403.32" stroke="#222" stroke-width="0.8"/>
<text x="584.6" y="406.02" font-size="7.8" text-anchor="end" fill="#111" >6</text>
<line x1="584.7" y1="387.46" x2="587.2" y2="387.46" stroke="#222" stroke-width="0.8"/>
<text x="584.6" y="390.15999999999997" font-size="7.8" text-anchor="end" fill="#111" >8</text>
<line x1="584.7" y1="371.60" x2="587.2" y2="371.60" stroke="#222" stroke-width="0.8"/>
<text x="584.6" y="374.29999999999995" font-size="7.8" text-anchor="end" fill="#111" >10</text>
<rect x="594.3" y="434.25" width="14.5" height="16.65" fill="#fff" stroke="#111" stroke-width="1.3"/>
<line x1="601.55" y1="450.9" x2="601.55" y2="454.09999999999997" stroke="#222" stroke-width="0.8"/>
<rect x="600.20" y="417.83" width="2.7" height="2.7" rx="0.7" fill="#111"/>
<rect x="600.20" y="425.76" width="2.7" height="2.7" rx="0.7" fill="#111"/>
<rect x="593.45" y="433.69" width="2.7" height="2.7" rx="0.7" fill="#111"/>
<rect x="606.95" y="433.69" width="2.7" height="2.7" rx="0.7" fill="#111"/>
<rect x="593.50" y="441.62" width="2.7" height="2.7" rx="0.7" fill="#111"/>
<rect x="600.20" y="441.62" width="2.7" height="2.7" rx="0.7" fill="#111"/>
<rect x="606.90" y="441.62" width="2.7" height="2.7" rx="0.7" fill="#111"/>
<line x1="601.55" y1="443.76" x2="601.55" y2="424.73" stroke="#555" stroke-width="0.8"/>
<line x1="597.55" y1="443.76" x2="605.55" y2="443.76" stroke="#555" stroke-width="0.8"/>
<line x1="597.55" y1="424.73" x2="605.55" y2="424.73" stroke="#555" stroke-width="0.8"/>
<rect x="617.2" y="414.74" width="14.5" height="36.16" fill="#fff" stroke="#e8141c" stroke-width="1.3"/>
<line x1="624.45" y1="450.9" x2="624.45" y2="454.09999999999997" stroke="#222" stroke-width="0.8"/>
<rect x="619.65" y="386.11" width="2.7" height="2.7" rx="0.7" fill="#111"/>
<rect x="621.95" y="386.11" width="2.7" height="2.7" rx="0.7" fill="#111"/>
<rect x="624.25" y="386.11" width="2.7" height="2.7" rx="0.7" fill="#111"/>
<rect x="626.55" y="386.11" width="2.7" height="2.7" rx="0.7" fill="#111"/>
<rect x="621.80" y="394.04" width="2.7" height="2.7" rx="0.7" fill="#111"/>
<rect x="623.10" y="401.97" width="2.7" height="2.7" rx="0.7" fill="#111"/>
<rect x="617.40" y="409.90" width="2.7" height="2.7" rx="0.7" fill="#111"/>
<rect x="619.30" y="409.90" width="2.7" height="2.7" rx="0.7" fill="#111"/>
<rect x="621.20" y="409.90" width="2.7" height="2.7" rx="0.7" fill="#111"/>
<rect x="623.10" y="409.90" width="2.7" height="2.7" rx="0.7" fill="#111"/>
<rect x="625.00" y="409.90" width="2.7" height="2.7" rx="0.7" fill="#111"/>
<rect x="626.90" y="409.90" width="2.7" height="2.7" rx="0.7" fill="#111"/>
<rect x="628.80" y="409.90" width="2.7" height="2.7" rx="0.7" fill="#111"/>
<rect x="617.15" y="417.83" width="2.7" height="2.7" rx="0.7" fill="#111"/>
<rect x="618.85" y="417.83" width="2.7" height="2.7" rx="0.7" fill="#111"/>
<rect x="620.55" y="417.83" width="2.7" height="2.7" rx="0.7" fill="#111"/>
<rect x="622.25" y="417.83" width="2.7" height="2.7" rx="0.7" fill="#111"/>
<rect x="623.95" y="417.83" width="2.7" height="2.7" rx="0.7" fill="#111"/>
<rect x="625.65" y="417.83" width="2.7" height="2.7" rx="0.7" fill="#111"/>
<rect x="627.35" y="417.83" width="2.7" height="2.7" rx="0.7" fill="#111"/>
<rect x="629.05" y="417.83" width="2.7" height="2.7" rx="0.7" fill="#111"/>
<rect x="621.90" y="425.76" width="2.7" height="2.7" rx="0.7" fill="#111"/>
<rect x="624.30" y="425.76" width="2.7" height="2.7" rx="0.7" fill="#111"/>
<rect x="620.10" y="441.62" width="2.7" height="2.7" rx="0.7" fill="#111"/>
<rect x="623.10" y="441.62" width="2.7" height="2.7" rx="0.7" fill="#111"/>
<rect x="626.10" y="441.62" width="2.7" height="2.7" rx="0.7" fill="#111"/>
<line x1="624.45" y1="429.49" x2="624.45" y2="398.56" stroke="#e8141c" stroke-width="0.8"/>
<line x1="620.45" y1="429.49" x2="628.45" y2="429.49" stroke="#e8141c" stroke-width="0.8"/>
<line x1="620.45" y1="398.56" x2="628.45" y2="398.56" stroke="#e8141c" stroke-width="0.8"/>
<path d="M601.3,378.1 V381.1 M601.3,379.6 H624.7 M624.7,378.1 V381.1" fill="none" stroke="#333" stroke-width="0.7"/>
<text x="612.8" y="378.4" font-size="10" text-anchor="middle" fill="#111" font-weight="bold">**</text>
<text x="613.3" y="359" font-size="8.2" text-anchor="middle" fill="#111" >SLC3A2</text>
<text transform="translate(568.9,407.7) rotate(-90)" font-size="8.85" text-anchor="middle" fill="#111">SLC3A2 IHC scores</text>
<text transform="translate(604.3,465.5) rotate(-45)" font-size="8.75" text-anchor="end" fill="#111">benign (n=6)</text>
<text transform="translate(628.8,465) rotate(-45)" font-size="8.75" text-anchor="end" fill="#111">malignant (n=25)</text>
</svg></body></html>
